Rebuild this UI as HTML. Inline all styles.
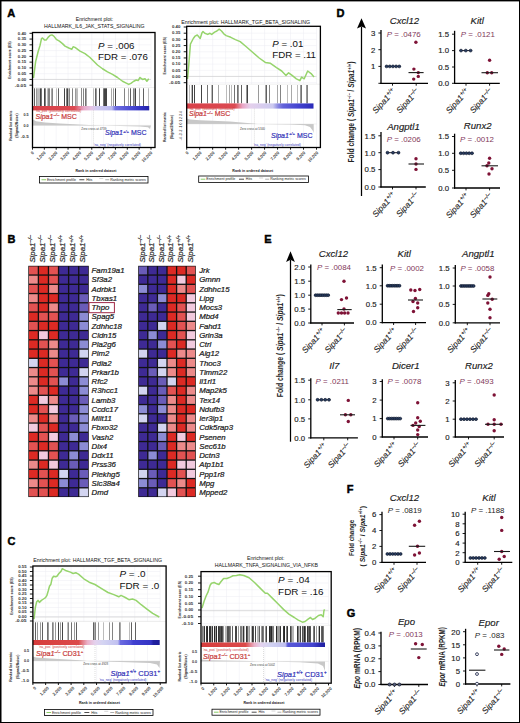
<!DOCTYPE html>
<html><head><meta charset="utf-8"><style>
html,body{margin:0;padding:0;background:#fff;}
body{width:520px;height:723px;overflow:hidden;font-family:"Liberation Sans", sans-serif;}
svg{display:block;}
svg text{font-family:"Liberation Sans", sans-serif;}
</style></head><body>
<svg width="520" height="723" viewBox="0 0 520 723">
<rect x="0" y="0" width="520" height="723" fill="#fff"/>
<text x="94.50" y="20.90" font-size="5.20" text-anchor="middle" fill="#111">Enrichment plot:</text>
<text x="94.30" y="27.50" font-size="5.20" text-anchor="middle" fill="#111">HALLMARK_IL6_JAK_STATS_SIGNALING</text>
<line x1="44.35" y1="32.50" x2="44.35" y2="87.50" stroke="#ececf2" stroke-width="0.50"/>
<line x1="44.35" y1="110.40" x2="44.35" y2="147.50" stroke="#ececf2" stroke-width="0.50"/>
<line x1="56.20" y1="32.50" x2="56.20" y2="87.50" stroke="#ececf2" stroke-width="0.50"/>
<line x1="56.20" y1="110.40" x2="56.20" y2="147.50" stroke="#ececf2" stroke-width="0.50"/>
<line x1="68.05" y1="32.50" x2="68.05" y2="87.50" stroke="#ececf2" stroke-width="0.50"/>
<line x1="68.05" y1="110.40" x2="68.05" y2="147.50" stroke="#ececf2" stroke-width="0.50"/>
<line x1="79.90" y1="32.50" x2="79.90" y2="87.50" stroke="#ececf2" stroke-width="0.50"/>
<line x1="79.90" y1="110.40" x2="79.90" y2="147.50" stroke="#ececf2" stroke-width="0.50"/>
<line x1="91.75" y1="32.50" x2="91.75" y2="87.50" stroke="#ececf2" stroke-width="0.50"/>
<line x1="91.75" y1="110.40" x2="91.75" y2="147.50" stroke="#ececf2" stroke-width="0.50"/>
<line x1="103.60" y1="32.50" x2="103.60" y2="87.50" stroke="#ececf2" stroke-width="0.50"/>
<line x1="103.60" y1="110.40" x2="103.60" y2="147.50" stroke="#ececf2" stroke-width="0.50"/>
<line x1="115.45" y1="32.50" x2="115.45" y2="87.50" stroke="#ececf2" stroke-width="0.50"/>
<line x1="115.45" y1="110.40" x2="115.45" y2="147.50" stroke="#ececf2" stroke-width="0.50"/>
<line x1="127.30" y1="32.50" x2="127.30" y2="87.50" stroke="#ececf2" stroke-width="0.50"/>
<line x1="127.30" y1="110.40" x2="127.30" y2="147.50" stroke="#ececf2" stroke-width="0.50"/>
<line x1="139.15" y1="32.50" x2="139.15" y2="87.50" stroke="#ececf2" stroke-width="0.50"/>
<line x1="139.15" y1="110.40" x2="139.15" y2="147.50" stroke="#ececf2" stroke-width="0.50"/>
<line x1="151.00" y1="32.50" x2="151.00" y2="87.50" stroke="#ececf2" stroke-width="0.50"/>
<line x1="151.00" y1="110.40" x2="151.00" y2="147.50" stroke="#ececf2" stroke-width="0.50"/>
<line x1="33.00" y1="33.30" x2="151.00" y2="33.30" stroke="#ececf2" stroke-width="0.50"/>
<line x1="33.00" y1="39.07" x2="151.00" y2="39.07" stroke="#ececf2" stroke-width="0.50"/>
<line x1="33.00" y1="44.83" x2="151.00" y2="44.83" stroke="#ececf2" stroke-width="0.50"/>
<line x1="33.00" y1="50.60" x2="151.00" y2="50.60" stroke="#ececf2" stroke-width="0.50"/>
<line x1="33.00" y1="56.37" x2="151.00" y2="56.37" stroke="#ececf2" stroke-width="0.50"/>
<line x1="33.00" y1="62.13" x2="151.00" y2="62.13" stroke="#ececf2" stroke-width="0.50"/>
<line x1="33.00" y1="67.90" x2="151.00" y2="67.90" stroke="#ececf2" stroke-width="0.50"/>
<line x1="33.00" y1="73.67" x2="151.00" y2="73.67" stroke="#ececf2" stroke-width="0.50"/>
<line x1="33.00" y1="79.43" x2="151.00" y2="79.43" stroke="#ececf2" stroke-width="0.50"/>
<line x1="33.00" y1="85.20" x2="151.00" y2="85.20" stroke="#ececf2" stroke-width="0.50"/>
<line x1="32.50" y1="79.40" x2="151.00" y2="79.40" stroke="#c8c8c8" stroke-width="0.60"/>
<polyline points="33.50,78.00 35.60,61.80 38.10,51.80 40.00,45.50 41.50,38.60 42.50,38.00 44.40,39.90 46.30,39.90 48.10,37.40 50.00,35.50 51.90,34.90 53.80,36.10 56.30,39.30 59.40,41.10 62.50,43.60 65.00,46.10 68.80,48.00 71.90,49.30 73.10,46.80 75.00,47.40 80.00,51.10 85.00,53.60 90.00,57.50 93.75,61.25 97.50,65.00 102.50,68.75 107.50,71.90 112.50,74.40 117.50,77.50 122.50,81.25 126.25,83.10 128.75,84.40 131.25,83.10 133.75,81.25 136.25,80.00 138.10,80.60 140.00,77.50 142.50,79.40 145.00,78.75 146.90,81.25 148.75,78.75" fill="none" stroke="#96d46c" stroke-width="1.50" stroke-linejoin="round"/>
<line x1="34.50" y1="88.30" x2="34.50" y2="106.00" stroke="#444" stroke-width="0.85"/>
<line x1="36.50" y1="88.30" x2="36.50" y2="106.00" stroke="#888" stroke-width="0.85"/>
<line x1="37.50" y1="88.30" x2="37.50" y2="106.00" stroke="#b0b0b0" stroke-width="0.85"/>
<line x1="38.50" y1="88.30" x2="38.50" y2="106.00" stroke="#b0b0b0" stroke-width="0.85"/>
<line x1="39.50" y1="88.30" x2="39.50" y2="106.00" stroke="#b0b0b0" stroke-width="0.85"/>
<line x1="40.50" y1="88.30" x2="40.50" y2="106.00" stroke="#222" stroke-width="0.85"/>
<line x1="41.50" y1="88.30" x2="41.50" y2="106.00" stroke="#5a5a5a" stroke-width="0.85"/>
<line x1="44.50" y1="88.30" x2="44.50" y2="106.00" stroke="#222" stroke-width="0.85"/>
<line x1="45.50" y1="88.30" x2="45.50" y2="106.00" stroke="#6e6e6e" stroke-width="0.85"/>
<line x1="47.50" y1="88.30" x2="47.50" y2="106.00" stroke="#b0b0b0" stroke-width="0.85"/>
<line x1="48.50" y1="88.30" x2="48.50" y2="106.00" stroke="#6e6e6e" stroke-width="0.85"/>
<line x1="49.50" y1="88.30" x2="49.50" y2="106.00" stroke="#6e6e6e" stroke-width="0.85"/>
<line x1="51.50" y1="88.30" x2="51.50" y2="106.00" stroke="#9a9a9a" stroke-width="0.85"/>
<line x1="52.50" y1="88.30" x2="52.50" y2="106.00" stroke="#6e6e6e" stroke-width="0.85"/>
<line x1="56.50" y1="88.30" x2="56.50" y2="106.00" stroke="#b0b0b0" stroke-width="0.85"/>
<line x1="58.50" y1="88.30" x2="58.50" y2="106.00" stroke="#444" stroke-width="0.85"/>
<line x1="64.50" y1="88.30" x2="64.50" y2="106.00" stroke="#222" stroke-width="0.85"/>
<line x1="66.50" y1="88.30" x2="66.50" y2="106.00" stroke="#6e6e6e" stroke-width="0.85"/>
<line x1="67.50" y1="88.30" x2="67.50" y2="106.00" stroke="#222" stroke-width="0.85"/>
<line x1="68.50" y1="88.30" x2="68.50" y2="106.00" stroke="#b0b0b0" stroke-width="0.85"/>
<line x1="69.50" y1="88.30" x2="69.50" y2="106.00" stroke="#6e6e6e" stroke-width="0.85"/>
<line x1="72.50" y1="88.30" x2="72.50" y2="106.00" stroke="#6e6e6e" stroke-width="0.85"/>
<line x1="75.50" y1="88.30" x2="75.50" y2="106.00" stroke="#888" stroke-width="0.85"/>
<line x1="76.50" y1="88.30" x2="76.50" y2="106.00" stroke="#b0b0b0" stroke-width="0.85"/>
<line x1="77.50" y1="88.30" x2="77.50" y2="106.00" stroke="#b0b0b0" stroke-width="0.85"/>
<line x1="81.50" y1="88.30" x2="81.50" y2="106.00" stroke="#222" stroke-width="0.85"/>
<line x1="81.50" y1="88.30" x2="81.50" y2="106.00" stroke="#9a9a9a" stroke-width="0.85"/>
<line x1="83.50" y1="88.30" x2="83.50" y2="106.00" stroke="#6e6e6e" stroke-width="0.85"/>
<line x1="85.50" y1="88.30" x2="85.50" y2="106.00" stroke="#5a5a5a" stroke-width="0.85"/>
<line x1="86.50" y1="88.30" x2="86.50" y2="106.00" stroke="#9a9a9a" stroke-width="0.85"/>
<line x1="93.50" y1="88.30" x2="93.50" y2="106.00" stroke="#b0b0b0" stroke-width="0.85"/>
<line x1="95.50" y1="88.30" x2="95.50" y2="106.00" stroke="#444" stroke-width="0.85"/>
<line x1="96.50" y1="88.30" x2="96.50" y2="106.00" stroke="#888" stroke-width="0.85"/>
<line x1="99.50" y1="88.30" x2="99.50" y2="106.00" stroke="#222" stroke-width="0.85"/>
<line x1="103.50" y1="88.30" x2="103.50" y2="106.00" stroke="#5a5a5a" stroke-width="0.85"/>
<line x1="104.50" y1="88.30" x2="104.50" y2="106.00" stroke="#222" stroke-width="0.85"/>
<line x1="105.50" y1="88.30" x2="105.50" y2="106.00" stroke="#222" stroke-width="0.85"/>
<line x1="106.50" y1="88.30" x2="106.50" y2="106.00" stroke="#222" stroke-width="0.85"/>
<line x1="111.50" y1="88.30" x2="111.50" y2="106.00" stroke="#9a9a9a" stroke-width="0.85"/>
<line x1="113.50" y1="88.30" x2="113.50" y2="106.00" stroke="#888" stroke-width="0.85"/>
<line x1="115.50" y1="88.30" x2="115.50" y2="106.00" stroke="#222" stroke-width="0.85"/>
<line x1="124.50" y1="88.30" x2="124.50" y2="106.00" stroke="#6e6e6e" stroke-width="0.85"/>
<line x1="128.50" y1="88.30" x2="128.50" y2="106.00" stroke="#9a9a9a" stroke-width="0.85"/>
<line x1="130.50" y1="88.30" x2="130.50" y2="106.00" stroke="#444" stroke-width="0.85"/>
<line x1="133.50" y1="88.30" x2="133.50" y2="106.00" stroke="#6e6e6e" stroke-width="0.85"/>
<line x1="134.50" y1="88.30" x2="134.50" y2="106.00" stroke="#9a9a9a" stroke-width="0.85"/>
<line x1="135.50" y1="88.30" x2="135.50" y2="106.00" stroke="#222" stroke-width="0.85"/>
<line x1="139.50" y1="88.30" x2="139.50" y2="106.00" stroke="#888" stroke-width="0.85"/>
<line x1="143.50" y1="88.30" x2="143.50" y2="106.00" stroke="#444" stroke-width="0.85"/>
<line x1="148.50" y1="88.30" x2="148.50" y2="106.00" stroke="#b0b0b0" stroke-width="0.85"/>
<line x1="32.50" y1="87.50" x2="155.00" y2="87.50" stroke="#e0e0e0" stroke-width="0.50"/>
<defs><linearGradient id="gA1" x1="0" x2="1" y1="0" y2="0"><stop offset="0.000" stop-color="#d84048"/><stop offset="0.360" stop-color="#dc4a52"/><stop offset="0.400" stop-color="#e27a90"/><stop offset="0.440" stop-color="#e8a8c8"/><stop offset="0.500" stop-color="#e6c4e4"/><stop offset="0.550" stop-color="#d0cAF0"/><stop offset="0.680" stop-color="#bcbcf0"/><stop offset="0.710" stop-color="#7070e0"/><stop offset="0.860" stop-color="#4646d0"/><stop offset="0.940" stop-color="#3030c0"/><stop offset="1.000" stop-color="#2424a8"/></linearGradient></defs>
<rect x="32.50" y="106.00" width="116.70" height="4.40" fill="url(#gA1)" stroke="none" stroke-width="1.00"/>
<polygon points="33.00,125.40 33.00,119.50 36.00,121.20 45.00,122.50 60.00,123.40 89.00,125.00 120.00,126.00 140.00,126.60 148.00,127.30 150.00,129.00 151.00,125.40" fill="#c8c8c8"/>
<line x1="32.50" y1="125.40" x2="151.00" y2="125.40" stroke="#d8d8d8" stroke-width="0.40"/>
<line x1="93.50" y1="110.40" x2="93.50" y2="147.50" stroke="#bbbbbb" stroke-width="0.50" stroke-dasharray="1,1"/>
<text x="81.30" y="130.40" font-size="3.00" fill="#444">Zero cross at 4739</text>
<text x="35.50" y="119.00" font-size="7.00" font-style="italic" fill="#c83a3a" stroke="#c83a3a" stroke-width="0.2">Sipa1<tspan font-size="4.20" dy="-2.80">&#8211;/&#8211;</tspan><tspan dy="2.80" font-style="normal"> MSC</tspan></text>
<text x="105.00" y="135.30" font-size="7.00" font-style="italic" fill="#3434b8" stroke="#3434b8" stroke-width="0.2">Sipa1<tspan font-size="4.20" dy="-2.80">+/+</tspan><tspan dy="2.80" font-style="normal"> MSC</tspan></text>
<text x="35.50" y="112.20" font-size="3.40" fill="#cc3a3a">'na_pos' (positively correlated)</text>
<text x="93.80" y="145.60" font-size="3.40" fill="#3a3ac0">'na_neg' (negatively correlated)</text>
<rect x="32.50" y="32.50" width="122.50" height="115.00" fill="none" stroke="#000" stroke-width="1.30"/>
<line x1="29.50" y1="33.30" x2="32.50" y2="33.30" stroke="#000" stroke-width="0.90"/>
<text x="26.20" y="34.60" font-size="3.60" text-anchor="end" font-weight="bold" fill="#333" textLength="8.40" lengthAdjust="spacingAndGlyphs">0.40</text>
<line x1="29.50" y1="39.07" x2="32.50" y2="39.07" stroke="#000" stroke-width="0.90"/>
<text x="26.20" y="40.37" font-size="3.60" text-anchor="end" font-weight="bold" fill="#333" textLength="8.40" lengthAdjust="spacingAndGlyphs">0.35</text>
<line x1="29.50" y1="44.83" x2="32.50" y2="44.83" stroke="#000" stroke-width="0.90"/>
<text x="26.20" y="46.13" font-size="3.60" text-anchor="end" font-weight="bold" fill="#333" textLength="8.40" lengthAdjust="spacingAndGlyphs">0.30</text>
<line x1="29.50" y1="50.60" x2="32.50" y2="50.60" stroke="#000" stroke-width="0.90"/>
<text x="26.20" y="51.90" font-size="3.60" text-anchor="end" font-weight="bold" fill="#333" textLength="8.40" lengthAdjust="spacingAndGlyphs">0.25</text>
<line x1="29.50" y1="56.37" x2="32.50" y2="56.37" stroke="#000" stroke-width="0.90"/>
<text x="26.20" y="57.67" font-size="3.60" text-anchor="end" font-weight="bold" fill="#333" textLength="8.40" lengthAdjust="spacingAndGlyphs">0.20</text>
<line x1="29.50" y1="62.13" x2="32.50" y2="62.13" stroke="#000" stroke-width="0.90"/>
<text x="26.20" y="63.43" font-size="3.60" text-anchor="end" font-weight="bold" fill="#333" textLength="8.40" lengthAdjust="spacingAndGlyphs">0.15</text>
<line x1="29.50" y1="67.90" x2="32.50" y2="67.90" stroke="#000" stroke-width="0.90"/>
<text x="26.20" y="69.20" font-size="3.60" text-anchor="end" font-weight="bold" fill="#333" textLength="8.40" lengthAdjust="spacingAndGlyphs">0.10</text>
<line x1="29.50" y1="73.67" x2="32.50" y2="73.67" stroke="#000" stroke-width="0.90"/>
<text x="26.20" y="74.97" font-size="3.60" text-anchor="end" font-weight="bold" fill="#333" textLength="8.40" lengthAdjust="spacingAndGlyphs">0.05</text>
<line x1="29.50" y1="79.43" x2="32.50" y2="79.43" stroke="#000" stroke-width="0.90"/>
<text x="26.20" y="80.73" font-size="3.60" text-anchor="end" font-weight="bold" fill="#333" textLength="8.40" lengthAdjust="spacingAndGlyphs">0.00</text>
<line x1="29.50" y1="85.20" x2="32.50" y2="85.20" stroke="#000" stroke-width="0.90"/>
<text x="26.20" y="86.50" font-size="3.60" text-anchor="end" font-weight="bold" fill="#333" textLength="11.40" lengthAdjust="spacingAndGlyphs">-0.05</text>
<text x="28.70" y="115.50" font-size="3.60" text-anchor="end" font-weight="bold" fill="#333" textLength="5.20" lengthAdjust="spacingAndGlyphs">0.5</text>
<text x="28.70" y="126.70" font-size="3.60" text-anchor="end" font-weight="bold" fill="#333" textLength="5.20" lengthAdjust="spacingAndGlyphs">0.0</text>
<text x="28.70" y="137.50" font-size="3.60" text-anchor="end" font-weight="bold" fill="#333" textLength="7.90" lengthAdjust="spacingAndGlyphs">-0.5</text>
<line x1="32.50" y1="147.50" x2="32.50" y2="149.70" stroke="#000" stroke-width="0.90"/>
<text x="34.10" y="153.10" font-size="4.30" text-anchor="end" font-weight="bold" fill="#444" transform="rotate(-45 34.1 153.1)">0</text>
<line x1="44.35" y1="147.50" x2="44.35" y2="149.70" stroke="#000" stroke-width="0.90"/>
<text x="45.95" y="153.10" font-size="4.30" text-anchor="end" font-weight="bold" fill="#444" transform="rotate(-45 45.95 153.1)">1,000</text>
<line x1="56.20" y1="147.50" x2="56.20" y2="149.70" stroke="#000" stroke-width="0.90"/>
<text x="57.80" y="153.10" font-size="4.30" text-anchor="end" font-weight="bold" fill="#444" transform="rotate(-45 57.8 153.1)">2,000</text>
<line x1="68.05" y1="147.50" x2="68.05" y2="149.70" stroke="#000" stroke-width="0.90"/>
<text x="69.65" y="153.10" font-size="4.30" text-anchor="end" font-weight="bold" fill="#444" transform="rotate(-45 69.65 153.1)">3,000</text>
<line x1="79.90" y1="147.50" x2="79.90" y2="149.70" stroke="#000" stroke-width="0.90"/>
<text x="81.50" y="153.10" font-size="4.30" text-anchor="end" font-weight="bold" fill="#444" transform="rotate(-45 81.5 153.1)">4,000</text>
<line x1="91.75" y1="147.50" x2="91.75" y2="149.70" stroke="#000" stroke-width="0.90"/>
<text x="93.35" y="153.10" font-size="4.30" text-anchor="end" font-weight="bold" fill="#444" transform="rotate(-45 93.35 153.1)">5,000</text>
<line x1="103.60" y1="147.50" x2="103.60" y2="149.70" stroke="#000" stroke-width="0.90"/>
<text x="105.20" y="153.10" font-size="4.30" text-anchor="end" font-weight="bold" fill="#444" transform="rotate(-45 105.2 153.1)">6,000</text>
<line x1="115.45" y1="147.50" x2="115.45" y2="149.70" stroke="#000" stroke-width="0.90"/>
<text x="117.05" y="153.10" font-size="4.30" text-anchor="end" font-weight="bold" fill="#444" transform="rotate(-45 117.05 153.1)">7,000</text>
<line x1="127.30" y1="147.50" x2="127.30" y2="149.70" stroke="#000" stroke-width="0.90"/>
<text x="128.90" y="153.10" font-size="4.30" text-anchor="end" font-weight="bold" fill="#444" transform="rotate(-45 128.9 153.1)">8,000</text>
<line x1="139.15" y1="147.50" x2="139.15" y2="149.70" stroke="#000" stroke-width="0.90"/>
<text x="140.75" y="153.10" font-size="4.30" text-anchor="end" font-weight="bold" fill="#444" transform="rotate(-45 140.75 153.1)">9,000</text>
<line x1="151.00" y1="147.50" x2="151.00" y2="149.70" stroke="#000" stroke-width="0.90"/>
<text x="152.60" y="153.10" font-size="4.30" text-anchor="end" font-weight="bold" fill="#444" transform="rotate(-45 152.6 153.1)">10,000</text>
<text x="11.30" y="60.00" font-size="3.50" text-anchor="middle" font-weight="bold" fill="#222" transform="rotate(-90 11.3 60)">Enrichment score (ES)</text>
<text x="11.60" y="125.60" font-size="3.50" text-anchor="middle" font-weight="bold" fill="#222" transform="rotate(-90 11.6 125.6)">Ranked list metric</text>
<text x="18.50" y="125.60" font-size="3.50" text-anchor="middle" font-weight="bold" fill="#222" transform="rotate(-90 18.5 125.6)">(Signal2Noise)</text>
<text x="96.00" y="171.80" font-size="3.60" text-anchor="middle" font-weight="bold" fill="#222">Rank in ordered dataset</text>
<rect x="39.50" y="176.50" width="108.50" height="6.50" fill="#fff" stroke="#000" stroke-width="0.80"/>
<line x1="41.49" y1="179.75" x2="46.08" y2="179.75" stroke="#6cc040" stroke-width="0.80"/>
<text x="46.97" y="181.00" font-size="3.60" fill="#222">Enrichment profile</text>
<line x1="79.35" y1="179.75" x2="84.33" y2="179.75" stroke="#000" stroke-width="0.70"/>
<text x="86.13" y="181.00" font-size="3.60" fill="#222">Hits</text>
<line x1="99.28" y1="178.55" x2="103.26" y2="178.55" stroke="#bbb" stroke-width="0.60"/>
<line x1="105.26" y1="179.75" x2="109.24" y2="179.75" stroke="#777" stroke-width="0.60"/>
<text x="110.24" y="181.00" font-size="3.60" fill="#222">Ranking metric scores</text>
<text x="98.10" y="48.70" font-size="9.70" fill="#111"><tspan font-style="italic">P</tspan> = .006</text>
<text x="98.10" y="60.00" font-size="9.70" fill="#111">FDR = .076</text>
<text x="245.70" y="24.30" font-size="5.25" text-anchor="middle" fill="#111">Enrichment plot: HALLMARK_TGF_BETA_SIGNALING</text>
<line x1="199.68" y1="26.30" x2="199.68" y2="84.20" stroke="#ececf2" stroke-width="0.50"/>
<line x1="199.68" y1="108.60" x2="199.68" y2="147.50" stroke="#ececf2" stroke-width="0.50"/>
<line x1="212.66" y1="26.30" x2="212.66" y2="84.20" stroke="#ececf2" stroke-width="0.50"/>
<line x1="212.66" y1="108.60" x2="212.66" y2="147.50" stroke="#ececf2" stroke-width="0.50"/>
<line x1="225.64" y1="26.30" x2="225.64" y2="84.20" stroke="#ececf2" stroke-width="0.50"/>
<line x1="225.64" y1="108.60" x2="225.64" y2="147.50" stroke="#ececf2" stroke-width="0.50"/>
<line x1="238.62" y1="26.30" x2="238.62" y2="84.20" stroke="#ececf2" stroke-width="0.50"/>
<line x1="238.62" y1="108.60" x2="238.62" y2="147.50" stroke="#ececf2" stroke-width="0.50"/>
<line x1="251.60" y1="26.30" x2="251.60" y2="84.20" stroke="#ececf2" stroke-width="0.50"/>
<line x1="251.60" y1="108.60" x2="251.60" y2="147.50" stroke="#ececf2" stroke-width="0.50"/>
<line x1="264.58" y1="26.30" x2="264.58" y2="84.20" stroke="#ececf2" stroke-width="0.50"/>
<line x1="264.58" y1="108.60" x2="264.58" y2="147.50" stroke="#ececf2" stroke-width="0.50"/>
<line x1="277.56" y1="26.30" x2="277.56" y2="84.20" stroke="#ececf2" stroke-width="0.50"/>
<line x1="277.56" y1="108.60" x2="277.56" y2="147.50" stroke="#ececf2" stroke-width="0.50"/>
<line x1="290.54" y1="26.30" x2="290.54" y2="84.20" stroke="#ececf2" stroke-width="0.50"/>
<line x1="290.54" y1="108.60" x2="290.54" y2="147.50" stroke="#ececf2" stroke-width="0.50"/>
<line x1="303.52" y1="26.30" x2="303.52" y2="84.20" stroke="#ececf2" stroke-width="0.50"/>
<line x1="303.52" y1="108.60" x2="303.52" y2="147.50" stroke="#ececf2" stroke-width="0.50"/>
<line x1="316.50" y1="26.30" x2="316.50" y2="84.20" stroke="#ececf2" stroke-width="0.50"/>
<line x1="316.50" y1="108.60" x2="316.50" y2="147.50" stroke="#ececf2" stroke-width="0.50"/>
<line x1="187.20" y1="27.00" x2="316.50" y2="27.00" stroke="#ececf2" stroke-width="0.50"/>
<line x1="187.20" y1="33.19" x2="316.50" y2="33.19" stroke="#ececf2" stroke-width="0.50"/>
<line x1="187.20" y1="39.38" x2="316.50" y2="39.38" stroke="#ececf2" stroke-width="0.50"/>
<line x1="187.20" y1="45.57" x2="316.50" y2="45.57" stroke="#ececf2" stroke-width="0.50"/>
<line x1="187.20" y1="51.76" x2="316.50" y2="51.76" stroke="#ececf2" stroke-width="0.50"/>
<line x1="187.20" y1="57.94" x2="316.50" y2="57.94" stroke="#ececf2" stroke-width="0.50"/>
<line x1="187.20" y1="64.13" x2="316.50" y2="64.13" stroke="#ececf2" stroke-width="0.50"/>
<line x1="187.20" y1="70.32" x2="316.50" y2="70.32" stroke="#ececf2" stroke-width="0.50"/>
<line x1="187.20" y1="76.51" x2="316.50" y2="76.51" stroke="#ececf2" stroke-width="0.50"/>
<line x1="187.20" y1="82.70" x2="316.50" y2="82.70" stroke="#ececf2" stroke-width="0.50"/>
<line x1="186.70" y1="76.40" x2="316.50" y2="76.40" stroke="#c8c8c8" stroke-width="0.60"/>
<polyline points="187.50,79.00 188.70,66.00 190.40,44.20 191.50,42.00 193.30,38.50 195.00,36.20 197.30,35.00 200.20,38.50 202.00,32.70 203.00,31.50 204.80,33.30 207.70,34.40 210.00,33.30 211.70,34.40 214.60,32.10 216.90,31.00 219.20,29.20 221.50,31.00 223.80,33.80 226.20,35.60 230.80,37.30 235.40,39.60 240.20,41.60 245.40,46.00 252.30,52.00 259.20,58.00 265.30,62.40 270.50,63.30 276.50,67.60 281.70,71.00 286.00,75.40 288.60,72.80 292.10,75.40 296.40,78.80 299.90,80.60 301.60,77.10 304.20,78.80 307.70,71.00 311.10,73.60 314.00,77.00" fill="none" stroke="#96d46c" stroke-width="1.50" stroke-linejoin="round"/>
<line x1="189.50" y1="85.00" x2="189.50" y2="103.40" stroke="#b0b0b0" stroke-width="0.85"/>
<line x1="191.50" y1="85.00" x2="191.50" y2="103.40" stroke="#b0b0b0" stroke-width="0.85"/>
<line x1="192.50" y1="85.00" x2="192.50" y2="103.40" stroke="#222" stroke-width="0.85"/>
<line x1="194.50" y1="85.00" x2="194.50" y2="103.40" stroke="#222" stroke-width="0.85"/>
<line x1="201.50" y1="85.00" x2="201.50" y2="103.40" stroke="#222" stroke-width="0.85"/>
<line x1="207.50" y1="85.00" x2="207.50" y2="103.40" stroke="#5a5a5a" stroke-width="0.85"/>
<line x1="211.50" y1="85.00" x2="211.50" y2="103.40" stroke="#b0b0b0" stroke-width="0.85"/>
<line x1="212.50" y1="85.00" x2="212.50" y2="103.40" stroke="#444" stroke-width="0.85"/>
<line x1="218.50" y1="85.00" x2="218.50" y2="103.40" stroke="#9a9a9a" stroke-width="0.85"/>
<line x1="226.50" y1="85.00" x2="226.50" y2="103.40" stroke="#b0b0b0" stroke-width="0.85"/>
<line x1="229.50" y1="85.00" x2="229.50" y2="103.40" stroke="#9a9a9a" stroke-width="0.85"/>
<line x1="231.50" y1="85.00" x2="231.50" y2="103.40" stroke="#b0b0b0" stroke-width="0.85"/>
<line x1="234.50" y1="85.00" x2="234.50" y2="103.40" stroke="#5a5a5a" stroke-width="0.85"/>
<line x1="237.50" y1="85.00" x2="237.50" y2="103.40" stroke="#5a5a5a" stroke-width="0.85"/>
<line x1="238.50" y1="85.00" x2="238.50" y2="103.40" stroke="#888" stroke-width="0.85"/>
<line x1="241.50" y1="85.00" x2="241.50" y2="103.40" stroke="#444" stroke-width="0.85"/>
<line x1="246.50" y1="85.00" x2="246.50" y2="103.40" stroke="#888" stroke-width="0.85"/>
<line x1="247.50" y1="85.00" x2="247.50" y2="103.40" stroke="#222" stroke-width="0.85"/>
<line x1="258.50" y1="85.00" x2="258.50" y2="103.40" stroke="#888" stroke-width="0.85"/>
<line x1="265.50" y1="85.00" x2="265.50" y2="103.40" stroke="#9a9a9a" stroke-width="0.85"/>
<line x1="266.50" y1="85.00" x2="266.50" y2="103.40" stroke="#444" stroke-width="0.85"/>
<line x1="269.50" y1="85.00" x2="269.50" y2="103.40" stroke="#6e6e6e" stroke-width="0.85"/>
<line x1="277.50" y1="85.00" x2="277.50" y2="103.40" stroke="#9a9a9a" stroke-width="0.85"/>
<line x1="280.50" y1="85.00" x2="280.50" y2="103.40" stroke="#6e6e6e" stroke-width="0.85"/>
<line x1="287.50" y1="85.00" x2="287.50" y2="103.40" stroke="#b0b0b0" stroke-width="0.85"/>
<line x1="291.50" y1="85.00" x2="291.50" y2="103.40" stroke="#9a9a9a" stroke-width="0.85"/>
<line x1="297.50" y1="85.00" x2="297.50" y2="103.40" stroke="#b0b0b0" stroke-width="0.85"/>
<line x1="300.50" y1="85.00" x2="300.50" y2="103.40" stroke="#888" stroke-width="0.85"/>
<line x1="301.50" y1="85.00" x2="301.50" y2="103.40" stroke="#5a5a5a" stroke-width="0.85"/>
<line x1="306.50" y1="85.00" x2="306.50" y2="103.40" stroke="#888" stroke-width="0.85"/>
<line x1="307.50" y1="85.00" x2="307.50" y2="103.40" stroke="#6e6e6e" stroke-width="0.85"/>
<line x1="186.70" y1="84.20" x2="320.40" y2="84.20" stroke="#e0e0e0" stroke-width="0.50"/>
<defs><linearGradient id="gA2" x1="0" x2="1" y1="0" y2="0"><stop offset="0.000" stop-color="#d84048"/><stop offset="0.380" stop-color="#dc4a52"/><stop offset="0.410" stop-color="#e27a8a"/><stop offset="0.440" stop-color="#e8a4c4"/><stop offset="0.500" stop-color="#e4d0ec"/><stop offset="0.680" stop-color="#cccaf0"/><stop offset="0.720" stop-color="#8a88e2"/><stop offset="0.760" stop-color="#6262da"/><stop offset="0.880" stop-color="#4444d0"/><stop offset="1.000" stop-color="#2a2ab8"/></linearGradient></defs>
<rect x="186.70" y="103.40" width="126.80" height="5.20" fill="url(#gA2)" stroke="none" stroke-width="1.00"/>
<polygon points="186.50,124.00 186.50,118.50 190.00,119.50 200.00,120.30 230.00,121.50 258.00,124.00 290.00,124.60 305.00,125.30 310.00,127.00 313.00,131.00 313.70,133.00 313.70,124.00" fill="#c8c8c8"/>
<line x1="186.70" y1="124.00" x2="316.50" y2="124.00" stroke="#d8d8d8" stroke-width="0.40"/>
<line x1="254.40" y1="108.60" x2="254.40" y2="147.50" stroke="#bbbbbb" stroke-width="0.50" stroke-dasharray="1,1"/>
<text x="240.00" y="129.60" font-size="3.00" fill="#444">Zero cross at 5340</text>
<text x="189.00" y="116.40" font-size="7.00" font-style="italic" fill="#c83a3a" stroke="#c83a3a" stroke-width="0.2">Sipa1<tspan font-size="4.20" dy="-2.80">&#8211;/&#8211;</tspan><tspan dy="2.80" font-style="normal"> MSC</tspan></text>
<text x="271.00" y="138.00" font-size="7.00" font-style="italic" fill="#3434b8" stroke="#3434b8" stroke-width="0.2">Sipa1<tspan font-size="4.20" dy="-2.80">+/+</tspan><tspan dy="2.80" font-style="normal"> MSC</tspan></text>
<text x="189.00" y="110.40" font-size="3.40" fill="#cc3a3a">'na_pos' (positively correlated)</text>
<text x="253.70" y="146.00" font-size="3.40" fill="#3a3ac0">'na_neg' (negatively correlated)</text>
<rect x="186.70" y="26.30" width="133.70" height="121.20" fill="none" stroke="#000" stroke-width="1.30"/>
<line x1="183.70" y1="27.00" x2="186.70" y2="27.00" stroke="#000" stroke-width="0.90"/>
<text x="180.40" y="28.30" font-size="3.60" text-anchor="end" font-weight="bold" fill="#333" textLength="8.40" lengthAdjust="spacingAndGlyphs">0.40</text>
<line x1="183.70" y1="33.19" x2="186.70" y2="33.19" stroke="#000" stroke-width="0.90"/>
<text x="180.40" y="34.49" font-size="3.60" text-anchor="end" font-weight="bold" fill="#333" textLength="8.40" lengthAdjust="spacingAndGlyphs">0.35</text>
<line x1="183.70" y1="39.38" x2="186.70" y2="39.38" stroke="#000" stroke-width="0.90"/>
<text x="180.40" y="40.68" font-size="3.60" text-anchor="end" font-weight="bold" fill="#333" textLength="8.40" lengthAdjust="spacingAndGlyphs">0.30</text>
<line x1="183.70" y1="45.57" x2="186.70" y2="45.57" stroke="#000" stroke-width="0.90"/>
<text x="180.40" y="46.87" font-size="3.60" text-anchor="end" font-weight="bold" fill="#333" textLength="8.40" lengthAdjust="spacingAndGlyphs">0.25</text>
<line x1="183.70" y1="51.76" x2="186.70" y2="51.76" stroke="#000" stroke-width="0.90"/>
<text x="180.40" y="53.06" font-size="3.60" text-anchor="end" font-weight="bold" fill="#333" textLength="8.40" lengthAdjust="spacingAndGlyphs">0.20</text>
<line x1="183.70" y1="57.94" x2="186.70" y2="57.94" stroke="#000" stroke-width="0.90"/>
<text x="180.40" y="59.24" font-size="3.60" text-anchor="end" font-weight="bold" fill="#333" textLength="8.40" lengthAdjust="spacingAndGlyphs">0.15</text>
<line x1="183.70" y1="64.13" x2="186.70" y2="64.13" stroke="#000" stroke-width="0.90"/>
<text x="180.40" y="65.43" font-size="3.60" text-anchor="end" font-weight="bold" fill="#333" textLength="8.40" lengthAdjust="spacingAndGlyphs">0.10</text>
<line x1="183.70" y1="70.32" x2="186.70" y2="70.32" stroke="#000" stroke-width="0.90"/>
<text x="180.40" y="71.62" font-size="3.60" text-anchor="end" font-weight="bold" fill="#333" textLength="8.40" lengthAdjust="spacingAndGlyphs">0.05</text>
<line x1="183.70" y1="76.51" x2="186.70" y2="76.51" stroke="#000" stroke-width="0.90"/>
<text x="180.40" y="77.81" font-size="3.60" text-anchor="end" font-weight="bold" fill="#333" textLength="8.40" lengthAdjust="spacingAndGlyphs">0.00</text>
<line x1="183.70" y1="82.70" x2="186.70" y2="82.70" stroke="#000" stroke-width="0.90"/>
<text x="180.40" y="84.00" font-size="3.60" text-anchor="end" font-weight="bold" fill="#333" textLength="11.40" lengthAdjust="spacingAndGlyphs">-0.05</text>
<line x1="186.70" y1="147.50" x2="186.70" y2="149.70" stroke="#000" stroke-width="0.90"/>
<text x="188.90" y="153.10" font-size="4.30" text-anchor="end" font-weight="bold" fill="#444" transform="rotate(-45 188.9 153.1)">0</text>
<line x1="199.68" y1="147.50" x2="199.68" y2="149.70" stroke="#000" stroke-width="0.90"/>
<text x="201.88" y="153.10" font-size="4.30" text-anchor="end" font-weight="bold" fill="#444" transform="rotate(-45 201.88 153.1)">1,000</text>
<line x1="212.66" y1="147.50" x2="212.66" y2="149.70" stroke="#000" stroke-width="0.90"/>
<text x="214.86" y="153.10" font-size="4.30" text-anchor="end" font-weight="bold" fill="#444" transform="rotate(-45 214.86 153.1)">2,000</text>
<line x1="225.64" y1="147.50" x2="225.64" y2="149.70" stroke="#000" stroke-width="0.90"/>
<text x="227.84" y="153.10" font-size="4.30" text-anchor="end" font-weight="bold" fill="#444" transform="rotate(-45 227.84 153.1)">3,000</text>
<line x1="238.62" y1="147.50" x2="238.62" y2="149.70" stroke="#000" stroke-width="0.90"/>
<text x="240.82" y="153.10" font-size="4.30" text-anchor="end" font-weight="bold" fill="#444" transform="rotate(-45 240.82 153.1)">4,000</text>
<line x1="251.60" y1="147.50" x2="251.60" y2="149.70" stroke="#000" stroke-width="0.90"/>
<text x="253.80" y="153.10" font-size="4.30" text-anchor="end" font-weight="bold" fill="#444" transform="rotate(-45 253.8 153.1)">5,000</text>
<line x1="264.58" y1="147.50" x2="264.58" y2="149.70" stroke="#000" stroke-width="0.90"/>
<text x="266.78" y="153.10" font-size="4.30" text-anchor="end" font-weight="bold" fill="#444" transform="rotate(-45 266.78 153.1)">6,000</text>
<line x1="277.56" y1="147.50" x2="277.56" y2="149.70" stroke="#000" stroke-width="0.90"/>
<text x="279.76" y="153.10" font-size="4.30" text-anchor="end" font-weight="bold" fill="#444" transform="rotate(-45 279.76 153.1)">7,000</text>
<line x1="290.54" y1="147.50" x2="290.54" y2="149.70" stroke="#000" stroke-width="0.90"/>
<text x="292.74" y="153.10" font-size="4.30" text-anchor="end" font-weight="bold" fill="#444" transform="rotate(-45 292.74 153.1)">8,000</text>
<line x1="303.52" y1="147.50" x2="303.52" y2="149.70" stroke="#000" stroke-width="0.90"/>
<text x="305.72" y="153.10" font-size="4.30" text-anchor="end" font-weight="bold" fill="#444" transform="rotate(-45 305.72 153.1)">9,000</text>
<line x1="316.50" y1="147.50" x2="316.50" y2="149.70" stroke="#000" stroke-width="0.90"/>
<text x="318.70" y="153.10" font-size="4.30" text-anchor="end" font-weight="bold" fill="#444" transform="rotate(-45 318.7 153.1)">10,000</text>
<text x="165.80" y="55.70" font-size="3.50" text-anchor="middle" font-weight="bold" fill="#222" transform="rotate(-90 165.8 55.7)">Enrichment score (ES)</text>
<text x="166.20" y="127.00" font-size="3.50" text-anchor="middle" font-weight="bold" fill="#222" transform="rotate(-90 166.2 127)">Ranked list metric</text>
<text x="173.10" y="127.00" font-size="3.50" text-anchor="middle" font-weight="bold" fill="#222" transform="rotate(-90 173.1 127)">(Signal2Noise)</text>
<text x="252.80" y="171.60" font-size="3.60" text-anchor="middle" font-weight="bold" fill="#222">Rank in ordered dataset</text>
<rect x="198.70" y="176.00" width="109.70" height="6.40" fill="#fff" stroke="#000" stroke-width="0.80"/>
<line x1="200.71" y1="179.20" x2="205.35" y2="179.20" stroke="#6cc040" stroke-width="0.80"/>
<text x="206.26" y="180.45" font-size="3.60" fill="#222">Enrichment profile</text>
<line x1="238.99" y1="179.20" x2="244.03" y2="179.20" stroke="#000" stroke-width="0.70"/>
<text x="245.84" y="180.45" font-size="3.60" fill="#222">Hits</text>
<line x1="259.14" y1="178.00" x2="263.17" y2="178.00" stroke="#bbb" stroke-width="0.60"/>
<line x1="265.18" y1="179.20" x2="269.21" y2="179.20" stroke="#777" stroke-width="0.60"/>
<text x="270.22" y="180.45" font-size="3.60" fill="#222">Ranking metric scores</text>
<text x="272.30" y="46.80" font-size="9.70" fill="#111"><tspan font-style="italic">P</tspan> = .01</text>
<text x="272.30" y="58.00" font-size="9.70" fill="#111">FDR = .11</text>
<text x="181.90" y="125.90" font-size="3.40" text-anchor="middle" fill="#222" transform="rotate(-90 181.9 125.9)">-4 -3 -2 -1 0 1 2 3 4</text>
<text x="97.70" y="561.60" font-size="5.25" text-anchor="middle" fill="#111">Enrichment plot: HALLMARK_TGF_BETA_SIGNALING</text>
<line x1="45.63" y1="566.00" x2="45.63" y2="621.50" stroke="#ececf2" stroke-width="0.50"/>
<line x1="45.63" y1="645.00" x2="45.63" y2="682.80" stroke="#ececf2" stroke-width="0.50"/>
<line x1="58.36" y1="566.00" x2="58.36" y2="621.50" stroke="#ececf2" stroke-width="0.50"/>
<line x1="58.36" y1="645.00" x2="58.36" y2="682.80" stroke="#ececf2" stroke-width="0.50"/>
<line x1="71.09" y1="566.00" x2="71.09" y2="621.50" stroke="#ececf2" stroke-width="0.50"/>
<line x1="71.09" y1="645.00" x2="71.09" y2="682.80" stroke="#ececf2" stroke-width="0.50"/>
<line x1="83.82" y1="566.00" x2="83.82" y2="621.50" stroke="#ececf2" stroke-width="0.50"/>
<line x1="83.82" y1="645.00" x2="83.82" y2="682.80" stroke="#ececf2" stroke-width="0.50"/>
<line x1="96.55" y1="566.00" x2="96.55" y2="621.50" stroke="#ececf2" stroke-width="0.50"/>
<line x1="96.55" y1="645.00" x2="96.55" y2="682.80" stroke="#ececf2" stroke-width="0.50"/>
<line x1="109.28" y1="566.00" x2="109.28" y2="621.50" stroke="#ececf2" stroke-width="0.50"/>
<line x1="109.28" y1="645.00" x2="109.28" y2="682.80" stroke="#ececf2" stroke-width="0.50"/>
<line x1="122.01" y1="566.00" x2="122.01" y2="621.50" stroke="#ececf2" stroke-width="0.50"/>
<line x1="122.01" y1="645.00" x2="122.01" y2="682.80" stroke="#ececf2" stroke-width="0.50"/>
<line x1="134.74" y1="566.00" x2="134.74" y2="621.50" stroke="#ececf2" stroke-width="0.50"/>
<line x1="134.74" y1="645.00" x2="134.74" y2="682.80" stroke="#ececf2" stroke-width="0.50"/>
<line x1="147.47" y1="566.00" x2="147.47" y2="621.50" stroke="#ececf2" stroke-width="0.50"/>
<line x1="147.47" y1="645.00" x2="147.47" y2="682.80" stroke="#ececf2" stroke-width="0.50"/>
<line x1="160.20" y1="566.00" x2="160.20" y2="621.50" stroke="#ececf2" stroke-width="0.50"/>
<line x1="160.20" y1="645.00" x2="160.20" y2="682.80" stroke="#ececf2" stroke-width="0.50"/>
<line x1="33.40" y1="567.00" x2="160.20" y2="567.00" stroke="#ececf2" stroke-width="0.50"/>
<line x1="33.40" y1="571.50" x2="160.20" y2="571.50" stroke="#ececf2" stroke-width="0.50"/>
<line x1="33.40" y1="576.00" x2="160.20" y2="576.00" stroke="#ececf2" stroke-width="0.50"/>
<line x1="33.40" y1="580.50" x2="160.20" y2="580.50" stroke="#ececf2" stroke-width="0.50"/>
<line x1="33.40" y1="585.00" x2="160.20" y2="585.00" stroke="#ececf2" stroke-width="0.50"/>
<line x1="33.40" y1="589.50" x2="160.20" y2="589.50" stroke="#ececf2" stroke-width="0.50"/>
<line x1="33.40" y1="594.00" x2="160.20" y2="594.00" stroke="#ececf2" stroke-width="0.50"/>
<line x1="33.40" y1="598.50" x2="160.20" y2="598.50" stroke="#ececf2" stroke-width="0.50"/>
<line x1="33.40" y1="603.00" x2="160.20" y2="603.00" stroke="#ececf2" stroke-width="0.50"/>
<line x1="33.40" y1="607.50" x2="160.20" y2="607.50" stroke="#ececf2" stroke-width="0.50"/>
<line x1="33.40" y1="612.00" x2="160.20" y2="612.00" stroke="#ececf2" stroke-width="0.50"/>
<line x1="33.40" y1="616.50" x2="160.20" y2="616.50" stroke="#ececf2" stroke-width="0.50"/>
<line x1="33.40" y1="621.00" x2="160.20" y2="621.00" stroke="#ececf2" stroke-width="0.50"/>
<line x1="32.90" y1="617.00" x2="160.20" y2="617.00" stroke="#c8c8c8" stroke-width="0.60"/>
<polyline points="34.00,619.20 35.40,607.10 36.70,601.70 38.10,600.40 39.40,602.40 41.40,600.40 43.50,599.00 45.50,597.70 46.80,595.70 48.20,591.00 49.50,586.20 50.90,584.20 52.20,578.20 53.60,576.20 55.60,576.80 56.90,576.20 58.90,573.50 61.00,571.40 62.30,568.70 63.60,569.40 66.30,570.80 70.40,572.10 73.10,573.50 75.80,572.80 78.50,574.10 83.80,578.80 89.20,582.20 95.00,584.50 100.80,588.10 108.00,592.50 113.80,594.60 118.80,596.80 121.00,595.40 125.30,597.50 128.90,599.70 132.50,599.00 136.10,600.40 141.20,604.70 146.90,609.10 152.70,613.40 159.20,617.00" fill="none" stroke="#96d46c" stroke-width="1.50" stroke-linejoin="round"/>
<line x1="35.50" y1="622.30" x2="35.50" y2="640.00" stroke="#444" stroke-width="0.85"/>
<line x1="37.50" y1="622.30" x2="37.50" y2="640.00" stroke="#888" stroke-width="0.85"/>
<line x1="40.50" y1="622.30" x2="40.50" y2="640.00" stroke="#888" stroke-width="0.85"/>
<line x1="42.50" y1="622.30" x2="42.50" y2="640.00" stroke="#444" stroke-width="0.85"/>
<line x1="47.50" y1="622.30" x2="47.50" y2="640.00" stroke="#5a5a5a" stroke-width="0.85"/>
<line x1="48.50" y1="622.30" x2="48.50" y2="640.00" stroke="#888" stroke-width="0.85"/>
<line x1="52.50" y1="622.30" x2="52.50" y2="640.00" stroke="#6e6e6e" stroke-width="0.85"/>
<line x1="53.50" y1="622.30" x2="53.50" y2="640.00" stroke="#9a9a9a" stroke-width="0.85"/>
<line x1="55.50" y1="622.30" x2="55.50" y2="640.00" stroke="#888" stroke-width="0.85"/>
<line x1="58.50" y1="622.30" x2="58.50" y2="640.00" stroke="#222" stroke-width="0.85"/>
<line x1="60.50" y1="622.30" x2="60.50" y2="640.00" stroke="#888" stroke-width="0.85"/>
<line x1="62.50" y1="622.30" x2="62.50" y2="640.00" stroke="#222" stroke-width="0.85"/>
<line x1="67.50" y1="622.30" x2="67.50" y2="640.00" stroke="#b0b0b0" stroke-width="0.85"/>
<line x1="68.50" y1="622.30" x2="68.50" y2="640.00" stroke="#6e6e6e" stroke-width="0.85"/>
<line x1="71.50" y1="622.30" x2="71.50" y2="640.00" stroke="#5a5a5a" stroke-width="0.85"/>
<line x1="74.50" y1="622.30" x2="74.50" y2="640.00" stroke="#888" stroke-width="0.85"/>
<line x1="76.50" y1="622.30" x2="76.50" y2="640.00" stroke="#444" stroke-width="0.85"/>
<line x1="93.50" y1="622.30" x2="93.50" y2="640.00" stroke="#444" stroke-width="0.85"/>
<line x1="94.50" y1="622.30" x2="94.50" y2="640.00" stroke="#9a9a9a" stroke-width="0.85"/>
<line x1="95.50" y1="622.30" x2="95.50" y2="640.00" stroke="#6e6e6e" stroke-width="0.85"/>
<line x1="98.50" y1="622.30" x2="98.50" y2="640.00" stroke="#888" stroke-width="0.85"/>
<line x1="103.50" y1="622.30" x2="103.50" y2="640.00" stroke="#b0b0b0" stroke-width="0.85"/>
<line x1="109.50" y1="622.30" x2="109.50" y2="640.00" stroke="#888" stroke-width="0.85"/>
<line x1="112.50" y1="622.30" x2="112.50" y2="640.00" stroke="#6e6e6e" stroke-width="0.85"/>
<line x1="119.50" y1="622.30" x2="119.50" y2="640.00" stroke="#6e6e6e" stroke-width="0.85"/>
<line x1="120.50" y1="622.30" x2="120.50" y2="640.00" stroke="#9a9a9a" stroke-width="0.85"/>
<line x1="129.50" y1="622.30" x2="129.50" y2="640.00" stroke="#b0b0b0" stroke-width="0.85"/>
<line x1="131.50" y1="622.30" x2="131.50" y2="640.00" stroke="#444" stroke-width="0.85"/>
<line x1="135.50" y1="622.30" x2="135.50" y2="640.00" stroke="#444" stroke-width="0.85"/>
<line x1="32.90" y1="621.50" x2="166.10" y2="621.50" stroke="#e0e0e0" stroke-width="0.50"/>
<defs><linearGradient id="gC1" x1="0" x2="1" y1="0" y2="0"><stop offset="0.000" stop-color="#d63c3c"/><stop offset="0.360" stop-color="#dc4a4a"/><stop offset="0.390" stop-color="#e27a84"/><stop offset="0.430" stop-color="#ebb0c8"/><stop offset="0.490" stop-color="#e4d2ee"/><stop offset="0.550" stop-color="#d4d4f2"/><stop offset="0.670" stop-color="#c0c0f0"/><stop offset="0.690" stop-color="#6a6ae0"/><stop offset="0.770" stop-color="#5252d8"/><stop offset="0.790" stop-color="#4040d0"/><stop offset="0.930" stop-color="#3434c4"/><stop offset="0.950" stop-color="#2020a0"/><stop offset="1.000" stop-color="#1c1c98"/></linearGradient></defs>
<rect x="32.90" y="640.00" width="126.80" height="5.00" fill="url(#gC1)" stroke="none" stroke-width="1.00"/>
<polygon points="32.80,661.00 32.80,656.50 36.00,657.50 50.00,658.50 80.00,660.30 87.00,661.00 120.00,662.00 150.00,663.00 157.00,664.50 159.50,668.00 160.00,661.00" fill="#c8c8c8"/>
<line x1="32.90" y1="661.00" x2="160.20" y2="661.00" stroke="#d8d8d8" stroke-width="0.40"/>
<line x1="95.00" y1="645.00" x2="95.00" y2="682.80" stroke="#bbbbbb" stroke-width="0.50" stroke-dasharray="1,1"/>
<text x="83.20" y="665.40" font-size="3.00" fill="#444">Zero cross at 4928</text>
<text x="36.00" y="655.70" font-size="7.20" font-style="italic" fill="#c83a3a" stroke="#c83a3a" stroke-width="0.2">Sipa1<tspan font-size="4.32" dy="-2.88">&#8211;/&#8211;</tspan><tspan dy="2.88" font-style="normal"> CD31</tspan><tspan font-size="4.32" dy="-2.88" font-style="normal">+</tspan></text>
<text x="110.50" y="676.30" font-size="7.50" font-style="italic" fill="#3434b8" stroke="#3434b8" stroke-width="0.2">Sipa1<tspan font-size="4.50" dy="-3.00">+/+</tspan><tspan dy="3.00" font-style="normal"> CD31</tspan><tspan font-size="4.50" dy="-3.00" font-style="normal">+</tspan></text>
<text x="38.80" y="648.00" font-size="3.40" fill="#cc3a3a">'na_pos' (positively correlated)</text>
<text x="99.40" y="680.60" font-size="3.40" fill="#3a3ac0">'na_neg' (negatively correlated)</text>
<rect x="32.90" y="566.00" width="133.20" height="116.80" fill="none" stroke="#000" stroke-width="1.30"/>
<line x1="29.90" y1="567.00" x2="32.90" y2="567.00" stroke="#000" stroke-width="0.90"/>
<text x="26.60" y="568.30" font-size="3.20" text-anchor="end" font-weight="bold" fill="#333" textLength="8.40" lengthAdjust="spacingAndGlyphs">0.55</text>
<line x1="29.90" y1="571.50" x2="32.90" y2="571.50" stroke="#000" stroke-width="0.90"/>
<text x="26.60" y="572.80" font-size="3.20" text-anchor="end" font-weight="bold" fill="#333" textLength="8.40" lengthAdjust="spacingAndGlyphs">0.50</text>
<line x1="29.90" y1="576.00" x2="32.90" y2="576.00" stroke="#000" stroke-width="0.90"/>
<text x="26.60" y="577.30" font-size="3.20" text-anchor="end" font-weight="bold" fill="#333" textLength="8.40" lengthAdjust="spacingAndGlyphs">0.45</text>
<line x1="29.90" y1="580.50" x2="32.90" y2="580.50" stroke="#000" stroke-width="0.90"/>
<text x="26.60" y="581.80" font-size="3.20" text-anchor="end" font-weight="bold" fill="#333" textLength="8.40" lengthAdjust="spacingAndGlyphs">0.40</text>
<line x1="29.90" y1="585.00" x2="32.90" y2="585.00" stroke="#000" stroke-width="0.90"/>
<text x="26.60" y="586.30" font-size="3.20" text-anchor="end" font-weight="bold" fill="#333" textLength="8.40" lengthAdjust="spacingAndGlyphs">0.35</text>
<line x1="29.90" y1="589.50" x2="32.90" y2="589.50" stroke="#000" stroke-width="0.90"/>
<text x="26.60" y="590.80" font-size="3.20" text-anchor="end" font-weight="bold" fill="#333" textLength="8.40" lengthAdjust="spacingAndGlyphs">0.30</text>
<line x1="29.90" y1="594.00" x2="32.90" y2="594.00" stroke="#000" stroke-width="0.90"/>
<text x="26.60" y="595.30" font-size="3.20" text-anchor="end" font-weight="bold" fill="#333" textLength="8.40" lengthAdjust="spacingAndGlyphs">0.25</text>
<line x1="29.90" y1="598.50" x2="32.90" y2="598.50" stroke="#000" stroke-width="0.90"/>
<text x="26.60" y="599.80" font-size="3.20" text-anchor="end" font-weight="bold" fill="#333" textLength="8.40" lengthAdjust="spacingAndGlyphs">0.20</text>
<line x1="29.90" y1="603.00" x2="32.90" y2="603.00" stroke="#000" stroke-width="0.90"/>
<text x="26.60" y="604.30" font-size="3.20" text-anchor="end" font-weight="bold" fill="#333" textLength="8.40" lengthAdjust="spacingAndGlyphs">0.15</text>
<line x1="29.90" y1="607.50" x2="32.90" y2="607.50" stroke="#000" stroke-width="0.90"/>
<text x="26.60" y="608.80" font-size="3.20" text-anchor="end" font-weight="bold" fill="#333" textLength="8.40" lengthAdjust="spacingAndGlyphs">0.10</text>
<line x1="29.90" y1="612.00" x2="32.90" y2="612.00" stroke="#000" stroke-width="0.90"/>
<text x="26.60" y="613.30" font-size="3.20" text-anchor="end" font-weight="bold" fill="#333" textLength="8.40" lengthAdjust="spacingAndGlyphs">0.05</text>
<line x1="29.90" y1="616.50" x2="32.90" y2="616.50" stroke="#000" stroke-width="0.90"/>
<text x="26.60" y="617.80" font-size="3.20" text-anchor="end" font-weight="bold" fill="#333" textLength="8.40" lengthAdjust="spacingAndGlyphs">0.00</text>
<line x1="29.90" y1="621.00" x2="32.90" y2="621.00" stroke="#000" stroke-width="0.90"/>
<text x="26.60" y="622.30" font-size="3.20" text-anchor="end" font-weight="bold" fill="#333" textLength="11.40" lengthAdjust="spacingAndGlyphs">-0.05</text>
<text x="29.10" y="652.30" font-size="3.20" text-anchor="end" font-weight="bold" fill="#333" textLength="5.20" lengthAdjust="spacingAndGlyphs">0.5</text>
<text x="29.10" y="662.30" font-size="3.20" text-anchor="end" font-weight="bold" fill="#333" textLength="5.20" lengthAdjust="spacingAndGlyphs">0.0</text>
<text x="29.10" y="672.30" font-size="3.20" text-anchor="end" font-weight="bold" fill="#333" textLength="7.90" lengthAdjust="spacingAndGlyphs">-0.5</text>
<text x="29.10" y="681.90" font-size="3.20" text-anchor="end" font-weight="bold" fill="#333" textLength="7.90" lengthAdjust="spacingAndGlyphs">-1.0</text>
<line x1="32.90" y1="682.80" x2="32.90" y2="685.00" stroke="#000" stroke-width="0.90"/>
<text x="36.50" y="688.40" font-size="4.30" text-anchor="end" font-weight="bold" fill="#444" transform="rotate(-45 36.5 688.4)">0</text>
<line x1="45.63" y1="682.80" x2="45.63" y2="685.00" stroke="#000" stroke-width="0.90"/>
<text x="49.23" y="688.40" font-size="4.30" text-anchor="end" font-weight="bold" fill="#444" transform="rotate(-45 49.23 688.4)">1,000</text>
<line x1="58.36" y1="682.80" x2="58.36" y2="685.00" stroke="#000" stroke-width="0.90"/>
<text x="61.96" y="688.40" font-size="4.30" text-anchor="end" font-weight="bold" fill="#444" transform="rotate(-45 61.96 688.4)">2,000</text>
<line x1="71.09" y1="682.80" x2="71.09" y2="685.00" stroke="#000" stroke-width="0.90"/>
<text x="74.69" y="688.40" font-size="4.30" text-anchor="end" font-weight="bold" fill="#444" transform="rotate(-45 74.69 688.4)">3,000</text>
<line x1="83.82" y1="682.80" x2="83.82" y2="685.00" stroke="#000" stroke-width="0.90"/>
<text x="87.42" y="688.40" font-size="4.30" text-anchor="end" font-weight="bold" fill="#444" transform="rotate(-45 87.42 688.4)">4,000</text>
<line x1="96.55" y1="682.80" x2="96.55" y2="685.00" stroke="#000" stroke-width="0.90"/>
<text x="100.15" y="688.40" font-size="4.30" text-anchor="end" font-weight="bold" fill="#444" transform="rotate(-45 100.15 688.4)">5,000</text>
<line x1="109.28" y1="682.80" x2="109.28" y2="685.00" stroke="#000" stroke-width="0.90"/>
<text x="112.88" y="688.40" font-size="4.30" text-anchor="end" font-weight="bold" fill="#444" transform="rotate(-45 112.88 688.4)">6,000</text>
<line x1="122.01" y1="682.80" x2="122.01" y2="685.00" stroke="#000" stroke-width="0.90"/>
<text x="125.61" y="688.40" font-size="4.30" text-anchor="end" font-weight="bold" fill="#444" transform="rotate(-45 125.61 688.4)">7,000</text>
<line x1="134.74" y1="682.80" x2="134.74" y2="685.00" stroke="#000" stroke-width="0.90"/>
<text x="138.34" y="688.40" font-size="4.30" text-anchor="end" font-weight="bold" fill="#444" transform="rotate(-45 138.34 688.4)">8,000</text>
<line x1="147.47" y1="682.80" x2="147.47" y2="685.00" stroke="#000" stroke-width="0.90"/>
<text x="151.07" y="688.40" font-size="4.30" text-anchor="end" font-weight="bold" fill="#444" transform="rotate(-45 151.07 688.4)">9,000</text>
<line x1="160.20" y1="682.80" x2="160.20" y2="685.00" stroke="#000" stroke-width="0.90"/>
<text x="163.80" y="688.40" font-size="4.30" text-anchor="end" font-weight="bold" fill="#444" transform="rotate(-45 163.8 688.4)">10,000</text>
<text x="13.00" y="596.00" font-size="3.50" text-anchor="middle" font-weight="bold" fill="#222" transform="rotate(-90 13 596)">Enrichment score (ES)</text>
<text x="12.30" y="666.80" font-size="3.50" text-anchor="middle" font-weight="bold" fill="#222" transform="rotate(-90 12.3 666.8)">Ranked list metric</text>
<text x="18.60" y="666.80" font-size="3.50" text-anchor="middle" font-weight="bold" fill="#222" transform="rotate(-90 18.6 666.8)">(Signal2Noise)</text>
<text x="99.40" y="704.40" font-size="3.60" text-anchor="middle" font-weight="bold" fill="#222">Rank in ordered dataset</text>
<rect x="44.50" y="709.50" width="108.50" height="6.00" fill="#fff" stroke="#000" stroke-width="0.80"/>
<line x1="46.49" y1="712.50" x2="51.08" y2="712.50" stroke="#6cc040" stroke-width="0.80"/>
<text x="51.97" y="713.75" font-size="3.60" fill="#222">Enrichment profile</text>
<line x1="84.35" y1="712.50" x2="89.33" y2="712.50" stroke="#000" stroke-width="0.70"/>
<text x="91.13" y="713.75" font-size="3.60" fill="#222">Hits</text>
<line x1="104.28" y1="711.30" x2="108.26" y2="711.30" stroke="#bbb" stroke-width="0.60"/>
<line x1="110.26" y1="712.50" x2="114.24" y2="712.50" stroke="#777" stroke-width="0.60"/>
<text x="115.24" y="713.75" font-size="3.60" fill="#222">Ranking metric scores</text>
<text x="119.40" y="576.70" font-size="9.90" fill="#111"><tspan font-style="italic">P</tspan> = .0</text>
<text x="119.40" y="588.90" font-size="9.90" fill="#111">FDR = .0</text>
<text x="265.70" y="560.00" font-size="5.20" text-anchor="middle" fill="#111">Enrichment plot:</text>
<text x="266.30" y="567.00" font-size="5.20" text-anchor="middle" fill="#111">HALLMARK_TNFA_SIGNALING_VIA_NFKB</text>
<line x1="213.75" y1="571.60" x2="213.75" y2="625.30" stroke="#ececf2" stroke-width="0.50"/>
<line x1="213.75" y1="647.00" x2="213.75" y2="683.20" stroke="#ececf2" stroke-width="0.50"/>
<line x1="226.50" y1="571.60" x2="226.50" y2="625.30" stroke="#ececf2" stroke-width="0.50"/>
<line x1="226.50" y1="647.00" x2="226.50" y2="683.20" stroke="#ececf2" stroke-width="0.50"/>
<line x1="239.25" y1="571.60" x2="239.25" y2="625.30" stroke="#ececf2" stroke-width="0.50"/>
<line x1="239.25" y1="647.00" x2="239.25" y2="683.20" stroke="#ececf2" stroke-width="0.50"/>
<line x1="252.00" y1="571.60" x2="252.00" y2="625.30" stroke="#ececf2" stroke-width="0.50"/>
<line x1="252.00" y1="647.00" x2="252.00" y2="683.20" stroke="#ececf2" stroke-width="0.50"/>
<line x1="264.75" y1="571.60" x2="264.75" y2="625.30" stroke="#ececf2" stroke-width="0.50"/>
<line x1="264.75" y1="647.00" x2="264.75" y2="683.20" stroke="#ececf2" stroke-width="0.50"/>
<line x1="277.50" y1="571.60" x2="277.50" y2="625.30" stroke="#ececf2" stroke-width="0.50"/>
<line x1="277.50" y1="647.00" x2="277.50" y2="683.20" stroke="#ececf2" stroke-width="0.50"/>
<line x1="290.25" y1="571.60" x2="290.25" y2="625.30" stroke="#ececf2" stroke-width="0.50"/>
<line x1="290.25" y1="647.00" x2="290.25" y2="683.20" stroke="#ececf2" stroke-width="0.50"/>
<line x1="303.00" y1="571.60" x2="303.00" y2="625.30" stroke="#ececf2" stroke-width="0.50"/>
<line x1="303.00" y1="647.00" x2="303.00" y2="683.20" stroke="#ececf2" stroke-width="0.50"/>
<line x1="315.75" y1="571.60" x2="315.75" y2="625.30" stroke="#ececf2" stroke-width="0.50"/>
<line x1="315.75" y1="647.00" x2="315.75" y2="683.20" stroke="#ececf2" stroke-width="0.50"/>
<line x1="328.50" y1="571.60" x2="328.50" y2="625.30" stroke="#ececf2" stroke-width="0.50"/>
<line x1="328.50" y1="647.00" x2="328.50" y2="683.20" stroke="#ececf2" stroke-width="0.50"/>
<line x1="201.50" y1="576.20" x2="328.50" y2="576.20" stroke="#ececf2" stroke-width="0.50"/>
<line x1="201.50" y1="582.96" x2="328.50" y2="582.96" stroke="#ececf2" stroke-width="0.50"/>
<line x1="201.50" y1="589.71" x2="328.50" y2="589.71" stroke="#ececf2" stroke-width="0.50"/>
<line x1="201.50" y1="596.47" x2="328.50" y2="596.47" stroke="#ececf2" stroke-width="0.50"/>
<line x1="201.50" y1="603.23" x2="328.50" y2="603.23" stroke="#ececf2" stroke-width="0.50"/>
<line x1="201.50" y1="609.99" x2="328.50" y2="609.99" stroke="#ececf2" stroke-width="0.50"/>
<line x1="201.50" y1="616.74" x2="328.50" y2="616.74" stroke="#ececf2" stroke-width="0.50"/>
<line x1="201.50" y1="623.50" x2="328.50" y2="623.50" stroke="#ececf2" stroke-width="0.50"/>
<line x1="201.00" y1="610.70" x2="328.50" y2="610.70" stroke="#c8c8c8" stroke-width="0.60"/>
<polyline points="202.00,608.10 204.10,601.30 206.10,596.00 208.10,591.90 210.10,585.20 211.50,583.20 214.20,582.50 216.80,583.80 218.90,584.50 220.90,581.80 223.60,578.50 226.90,578.50 230.30,577.10 233.00,575.80 236.40,575.50 239.70,574.70 243.80,575.50 249.10,577.80 254.50,582.50 259.90,587.90 265.30,593.30 267.40,593.30 272.80,598.60 278.20,604.00 283.50,609.40 288.90,614.10 294.30,617.50 298.30,620.20 302.40,622.20 305.10,621.50 308.40,618.80 310.50,617.50 312.50,619.50 315.20,618.20 318.50,615.50 321.20,614.80 323.20,616.80 323.90,610.80 324.60,609.40" fill="none" stroke="#96d46c" stroke-width="1.50" stroke-linejoin="round"/>
<line x1="202.50" y1="626.10" x2="202.50" y2="642.50" stroke="#666" stroke-width="0.85"/>
<line x1="203.50" y1="626.10" x2="203.50" y2="642.50" stroke="#888" stroke-width="0.85"/>
<line x1="204.50" y1="626.10" x2="204.50" y2="642.50" stroke="#111" stroke-width="0.85"/>
<line x1="206.50" y1="626.10" x2="206.50" y2="642.50" stroke="#111" stroke-width="0.85"/>
<line x1="207.50" y1="626.10" x2="207.50" y2="642.50" stroke="#000" stroke-width="0.85"/>
<line x1="209.50" y1="626.10" x2="209.50" y2="642.50" stroke="#111" stroke-width="0.85"/>
<line x1="210.50" y1="626.10" x2="210.50" y2="642.50" stroke="#111" stroke-width="0.85"/>
<line x1="211.50" y1="626.10" x2="211.50" y2="642.50" stroke="#888" stroke-width="0.85"/>
<line x1="212.50" y1="626.10" x2="212.50" y2="642.50" stroke="#111" stroke-width="0.85"/>
<line x1="214.50" y1="626.10" x2="214.50" y2="642.50" stroke="#000" stroke-width="0.85"/>
<line x1="215.50" y1="626.10" x2="215.50" y2="642.50" stroke="#888" stroke-width="0.85"/>
<line x1="216.50" y1="626.10" x2="216.50" y2="642.50" stroke="#333" stroke-width="0.85"/>
<line x1="216.50" y1="626.10" x2="216.50" y2="642.50" stroke="#222" stroke-width="0.85"/>
<line x1="218.50" y1="626.10" x2="218.50" y2="642.50" stroke="#111" stroke-width="0.85"/>
<line x1="219.50" y1="626.10" x2="219.50" y2="642.50" stroke="#222" stroke-width="0.85"/>
<line x1="220.50" y1="626.10" x2="220.50" y2="642.50" stroke="#333" stroke-width="0.85"/>
<line x1="221.50" y1="626.10" x2="221.50" y2="642.50" stroke="#111" stroke-width="0.85"/>
<line x1="222.50" y1="626.10" x2="222.50" y2="642.50" stroke="#333" stroke-width="0.85"/>
<line x1="223.50" y1="626.10" x2="223.50" y2="642.50" stroke="#888" stroke-width="0.85"/>
<line x1="225.50" y1="626.10" x2="225.50" y2="642.50" stroke="#aaa" stroke-width="0.85"/>
<line x1="226.50" y1="626.10" x2="226.50" y2="642.50" stroke="#aaa" stroke-width="0.85"/>
<line x1="227.50" y1="626.10" x2="227.50" y2="642.50" stroke="#333" stroke-width="0.85"/>
<line x1="228.50" y1="626.10" x2="228.50" y2="642.50" stroke="#333" stroke-width="0.85"/>
<line x1="229.50" y1="626.10" x2="229.50" y2="642.50" stroke="#444" stroke-width="0.85"/>
<line x1="230.50" y1="626.10" x2="230.50" y2="642.50" stroke="#666" stroke-width="0.85"/>
<line x1="232.50" y1="626.10" x2="232.50" y2="642.50" stroke="#444" stroke-width="0.85"/>
<line x1="235.50" y1="626.10" x2="235.50" y2="642.50" stroke="#222" stroke-width="0.85"/>
<line x1="236.50" y1="626.10" x2="236.50" y2="642.50" stroke="#222" stroke-width="0.85"/>
<line x1="238.50" y1="626.10" x2="238.50" y2="642.50" stroke="#888" stroke-width="0.85"/>
<line x1="240.50" y1="626.10" x2="240.50" y2="642.50" stroke="#666" stroke-width="0.85"/>
<line x1="241.50" y1="626.10" x2="241.50" y2="642.50" stroke="#666" stroke-width="0.85"/>
<line x1="242.50" y1="626.10" x2="242.50" y2="642.50" stroke="#aaa" stroke-width="0.85"/>
<line x1="243.50" y1="626.10" x2="243.50" y2="642.50" stroke="#111" stroke-width="0.85"/>
<line x1="244.50" y1="626.10" x2="244.50" y2="642.50" stroke="#aaa" stroke-width="0.85"/>
<line x1="246.50" y1="626.10" x2="246.50" y2="642.50" stroke="#111" stroke-width="0.85"/>
<line x1="247.50" y1="626.10" x2="247.50" y2="642.50" stroke="#444" stroke-width="0.85"/>
<line x1="248.50" y1="626.10" x2="248.50" y2="642.50" stroke="#aaa" stroke-width="0.85"/>
<line x1="249.50" y1="626.10" x2="249.50" y2="642.50" stroke="#888" stroke-width="0.85"/>
<line x1="251.50" y1="626.10" x2="251.50" y2="642.50" stroke="#aaa" stroke-width="0.85"/>
<line x1="252.50" y1="626.10" x2="252.50" y2="642.50" stroke="#111" stroke-width="0.85"/>
<line x1="253.50" y1="626.10" x2="253.50" y2="642.50" stroke="#333" stroke-width="0.85"/>
<line x1="255.50" y1="626.10" x2="255.50" y2="642.50" stroke="#222" stroke-width="0.85"/>
<line x1="257.50" y1="626.10" x2="257.50" y2="642.50" stroke="#aaa" stroke-width="0.85"/>
<line x1="258.50" y1="626.10" x2="258.50" y2="642.50" stroke="#aaa" stroke-width="0.85"/>
<line x1="259.50" y1="626.10" x2="259.50" y2="642.50" stroke="#444" stroke-width="0.85"/>
<line x1="261.50" y1="626.10" x2="261.50" y2="642.50" stroke="#888" stroke-width="0.85"/>
<line x1="262.50" y1="626.10" x2="262.50" y2="642.50" stroke="#444" stroke-width="0.85"/>
<line x1="263.50" y1="626.10" x2="263.50" y2="642.50" stroke="#666" stroke-width="0.85"/>
<line x1="265.50" y1="626.10" x2="265.50" y2="642.50" stroke="#888" stroke-width="0.85"/>
<line x1="266.50" y1="626.10" x2="266.50" y2="642.50" stroke="#222" stroke-width="0.85"/>
<line x1="269.50" y1="626.10" x2="269.50" y2="642.50" stroke="#000" stroke-width="0.85"/>
<line x1="270.50" y1="626.10" x2="270.50" y2="642.50" stroke="#222" stroke-width="0.85"/>
<line x1="271.50" y1="626.10" x2="271.50" y2="642.50" stroke="#000" stroke-width="0.85"/>
<line x1="272.50" y1="626.10" x2="272.50" y2="642.50" stroke="#666" stroke-width="0.85"/>
<line x1="273.50" y1="626.10" x2="273.50" y2="642.50" stroke="#666" stroke-width="0.85"/>
<line x1="276.50" y1="626.10" x2="276.50" y2="642.50" stroke="#000" stroke-width="0.85"/>
<line x1="277.50" y1="626.10" x2="277.50" y2="642.50" stroke="#888" stroke-width="0.85"/>
<line x1="278.50" y1="626.10" x2="278.50" y2="642.50" stroke="#888" stroke-width="0.85"/>
<line x1="279.50" y1="626.10" x2="279.50" y2="642.50" stroke="#888" stroke-width="0.85"/>
<line x1="280.50" y1="626.10" x2="280.50" y2="642.50" stroke="#111" stroke-width="0.85"/>
<line x1="283.50" y1="626.10" x2="283.50" y2="642.50" stroke="#111" stroke-width="0.85"/>
<line x1="284.50" y1="626.10" x2="284.50" y2="642.50" stroke="#000" stroke-width="0.85"/>
<line x1="284.50" y1="626.10" x2="284.50" y2="642.50" stroke="#222" stroke-width="0.85"/>
<line x1="286.50" y1="626.10" x2="286.50" y2="642.50" stroke="#666" stroke-width="0.85"/>
<line x1="287.50" y1="626.10" x2="287.50" y2="642.50" stroke="#111" stroke-width="0.85"/>
<line x1="290.50" y1="626.10" x2="290.50" y2="642.50" stroke="#222" stroke-width="0.85"/>
<line x1="291.50" y1="626.10" x2="291.50" y2="642.50" stroke="#666" stroke-width="0.85"/>
<line x1="292.50" y1="626.10" x2="292.50" y2="642.50" stroke="#aaa" stroke-width="0.85"/>
<line x1="293.50" y1="626.10" x2="293.50" y2="642.50" stroke="#aaa" stroke-width="0.85"/>
<line x1="297.50" y1="626.10" x2="297.50" y2="642.50" stroke="#111" stroke-width="0.85"/>
<line x1="298.50" y1="626.10" x2="298.50" y2="642.50" stroke="#666" stroke-width="0.85"/>
<line x1="299.50" y1="626.10" x2="299.50" y2="642.50" stroke="#aaa" stroke-width="0.85"/>
<line x1="300.50" y1="626.10" x2="300.50" y2="642.50" stroke="#222" stroke-width="0.85"/>
<line x1="302.50" y1="626.10" x2="302.50" y2="642.50" stroke="#333" stroke-width="0.85"/>
<line x1="303.50" y1="626.10" x2="303.50" y2="642.50" stroke="#666" stroke-width="0.85"/>
<line x1="304.50" y1="626.10" x2="304.50" y2="642.50" stroke="#000" stroke-width="0.85"/>
<line x1="305.50" y1="626.10" x2="305.50" y2="642.50" stroke="#444" stroke-width="0.85"/>
<line x1="307.50" y1="626.10" x2="307.50" y2="642.50" stroke="#111" stroke-width="0.85"/>
<line x1="308.50" y1="626.10" x2="308.50" y2="642.50" stroke="#444" stroke-width="0.85"/>
<line x1="309.50" y1="626.10" x2="309.50" y2="642.50" stroke="#222" stroke-width="0.85"/>
<line x1="310.50" y1="626.10" x2="310.50" y2="642.50" stroke="#333" stroke-width="0.85"/>
<line x1="313.50" y1="626.10" x2="313.50" y2="642.50" stroke="#666" stroke-width="0.85"/>
<line x1="314.50" y1="626.10" x2="314.50" y2="642.50" stroke="#333" stroke-width="0.85"/>
<line x1="316.50" y1="626.10" x2="316.50" y2="642.50" stroke="#888" stroke-width="0.85"/>
<line x1="318.50" y1="626.10" x2="318.50" y2="642.50" stroke="#aaa" stroke-width="0.85"/>
<line x1="319.50" y1="626.10" x2="319.50" y2="642.50" stroke="#000" stroke-width="0.85"/>
<line x1="321.50" y1="626.10" x2="321.50" y2="642.50" stroke="#444" stroke-width="0.85"/>
<line x1="322.50" y1="626.10" x2="322.50" y2="642.50" stroke="#333" stroke-width="0.85"/>
<line x1="323.50" y1="626.10" x2="323.50" y2="642.50" stroke="#666" stroke-width="0.85"/>
<line x1="201.00" y1="625.30" x2="331.20" y2="625.30" stroke="#e0e0e0" stroke-width="0.50"/>
<defs><linearGradient id="gC2" x1="0" x2="1" y1="0" y2="0"><stop offset="0.000" stop-color="#d63c3c"/><stop offset="0.360" stop-color="#dc4a4a"/><stop offset="0.390" stop-color="#e27a84"/><stop offset="0.430" stop-color="#ebb0c8"/><stop offset="0.480" stop-color="#e4d2ee"/><stop offset="0.550" stop-color="#d4d4f2"/><stop offset="0.680" stop-color="#c0c0f0"/><stop offset="0.700" stop-color="#5858d8"/><stop offset="0.900" stop-color="#4444d0"/><stop offset="0.960" stop-color="#2828b0"/><stop offset="1.000" stop-color="#2020a0"/></linearGradient></defs>
<rect x="201.00" y="642.50" width="124.00" height="4.50" fill="url(#gC2)" stroke="none" stroke-width="1.00"/>
<polygon points="201.00,661.40 201.00,659.50 210.00,660.30 250.00,661.00 262.00,661.40 300.00,662.30 318.00,663.50 323.00,666.00 325.00,671.00 325.00,661.40" fill="#c8c8c8"/>
<line x1="201.00" y1="661.40" x2="328.50" y2="661.40" stroke="#d8d8d8" stroke-width="0.40"/>
<line x1="263.50" y1="647.00" x2="263.50" y2="683.20" stroke="#bbbbbb" stroke-width="0.50" stroke-dasharray="1,1"/>
<text x="250.00" y="665.60" font-size="3.00" fill="#444">Zero cross at 5002</text>
<text x="203.00" y="658.60" font-size="7.20" font-style="italic" fill="#c83a3a" stroke="#c83a3a" stroke-width="0.2">Sipa1<tspan font-size="4.32" dy="-2.88">&#8211;/&#8211;</tspan><tspan dy="2.88" font-style="normal"> CD31</tspan><tspan font-size="4.32" dy="-2.88" font-style="normal">+</tspan></text>
<text x="277.00" y="676.60" font-size="7.50" font-style="italic" fill="#3434b8" stroke="#3434b8" stroke-width="0.2">Sipa1<tspan font-size="4.50" dy="-3.00">+/+</tspan><tspan dy="3.00" font-style="normal"> CD31</tspan><tspan font-size="4.50" dy="-3.00" font-style="normal">+</tspan></text>
<text x="203.00" y="650.60" font-size="3.40" fill="#cc3a3a">'na_pos' (positively correlated)</text>
<text x="265.00" y="681.40" font-size="3.40" fill="#3a3ac0">'na_neg' (negatively correlated)</text>
<rect x="201.00" y="571.60" width="130.20" height="111.60" fill="none" stroke="#000" stroke-width="1.30"/>
<line x1="198.00" y1="576.20" x2="201.00" y2="576.20" stroke="#000" stroke-width="0.90"/>
<text x="193.20" y="577.50" font-size="3.60" text-anchor="end" font-weight="bold" fill="#333" textLength="8.40" lengthAdjust="spacingAndGlyphs">0.25</text>
<line x1="198.00" y1="582.96" x2="201.00" y2="582.96" stroke="#000" stroke-width="0.90"/>
<text x="193.20" y="584.26" font-size="3.60" text-anchor="end" font-weight="bold" fill="#333" textLength="8.40" lengthAdjust="spacingAndGlyphs">0.20</text>
<line x1="198.00" y1="589.71" x2="201.00" y2="589.71" stroke="#000" stroke-width="0.90"/>
<text x="193.20" y="591.01" font-size="3.60" text-anchor="end" font-weight="bold" fill="#333" textLength="8.40" lengthAdjust="spacingAndGlyphs">0.15</text>
<line x1="198.00" y1="596.47" x2="201.00" y2="596.47" stroke="#000" stroke-width="0.90"/>
<text x="193.20" y="597.77" font-size="3.60" text-anchor="end" font-weight="bold" fill="#333" textLength="8.40" lengthAdjust="spacingAndGlyphs">0.10</text>
<line x1="198.00" y1="603.23" x2="201.00" y2="603.23" stroke="#000" stroke-width="0.90"/>
<text x="193.20" y="604.53" font-size="3.60" text-anchor="end" font-weight="bold" fill="#333" textLength="8.40" lengthAdjust="spacingAndGlyphs">0.05</text>
<line x1="198.00" y1="609.99" x2="201.00" y2="609.99" stroke="#000" stroke-width="0.90"/>
<text x="193.20" y="611.29" font-size="3.60" text-anchor="end" font-weight="bold" fill="#333" textLength="8.40" lengthAdjust="spacingAndGlyphs">0.00</text>
<line x1="198.00" y1="616.74" x2="201.00" y2="616.74" stroke="#000" stroke-width="0.90"/>
<text x="193.20" y="618.04" font-size="3.60" text-anchor="end" font-weight="bold" fill="#333" textLength="11.40" lengthAdjust="spacingAndGlyphs">-0.05</text>
<line x1="198.00" y1="623.50" x2="201.00" y2="623.50" stroke="#000" stroke-width="0.90"/>
<text x="193.20" y="624.80" font-size="3.60" text-anchor="end" font-weight="bold" fill="#333" textLength="11.40" lengthAdjust="spacingAndGlyphs">-0.10</text>
<text x="197.20" y="652.60" font-size="3.60" text-anchor="end" font-weight="bold" fill="#333" textLength="5.20" lengthAdjust="spacingAndGlyphs">0.5</text>
<text x="197.20" y="662.70" font-size="3.60" text-anchor="end" font-weight="bold" fill="#333" textLength="5.20" lengthAdjust="spacingAndGlyphs">0.0</text>
<text x="197.20" y="672.80" font-size="3.60" text-anchor="end" font-weight="bold" fill="#333" textLength="7.90" lengthAdjust="spacingAndGlyphs">-0.5</text>
<text x="197.20" y="682.90" font-size="3.60" text-anchor="end" font-weight="bold" fill="#333" textLength="7.90" lengthAdjust="spacingAndGlyphs">-1.0</text>
<line x1="201.00" y1="683.20" x2="201.00" y2="685.40" stroke="#000" stroke-width="0.90"/>
<text x="204.60" y="688.80" font-size="4.30" text-anchor="end" font-weight="bold" fill="#444" transform="rotate(-45 204.6 688.8)">0</text>
<line x1="213.75" y1="683.20" x2="213.75" y2="685.40" stroke="#000" stroke-width="0.90"/>
<text x="217.35" y="688.80" font-size="4.30" text-anchor="end" font-weight="bold" fill="#444" transform="rotate(-45 217.35 688.8)">1,000</text>
<line x1="226.50" y1="683.20" x2="226.50" y2="685.40" stroke="#000" stroke-width="0.90"/>
<text x="230.10" y="688.80" font-size="4.30" text-anchor="end" font-weight="bold" fill="#444" transform="rotate(-45 230.1 688.8)">2,000</text>
<line x1="239.25" y1="683.20" x2="239.25" y2="685.40" stroke="#000" stroke-width="0.90"/>
<text x="242.85" y="688.80" font-size="4.30" text-anchor="end" font-weight="bold" fill="#444" transform="rotate(-45 242.85 688.8)">3,000</text>
<line x1="252.00" y1="683.20" x2="252.00" y2="685.40" stroke="#000" stroke-width="0.90"/>
<text x="255.60" y="688.80" font-size="4.30" text-anchor="end" font-weight="bold" fill="#444" transform="rotate(-45 255.6 688.8)">4,000</text>
<line x1="264.75" y1="683.20" x2="264.75" y2="685.40" stroke="#000" stroke-width="0.90"/>
<text x="268.35" y="688.80" font-size="4.30" text-anchor="end" font-weight="bold" fill="#444" transform="rotate(-45 268.35 688.8)">5,000</text>
<line x1="277.50" y1="683.20" x2="277.50" y2="685.40" stroke="#000" stroke-width="0.90"/>
<text x="281.10" y="688.80" font-size="4.30" text-anchor="end" font-weight="bold" fill="#444" transform="rotate(-45 281.1 688.8)">6,000</text>
<line x1="290.25" y1="683.20" x2="290.25" y2="685.40" stroke="#000" stroke-width="0.90"/>
<text x="293.85" y="688.80" font-size="4.30" text-anchor="end" font-weight="bold" fill="#444" transform="rotate(-45 293.85 688.8)">7,000</text>
<line x1="303.00" y1="683.20" x2="303.00" y2="685.40" stroke="#000" stroke-width="0.90"/>
<text x="306.60" y="688.80" font-size="4.30" text-anchor="end" font-weight="bold" fill="#444" transform="rotate(-45 306.6 688.8)">8,000</text>
<line x1="315.75" y1="683.20" x2="315.75" y2="685.40" stroke="#000" stroke-width="0.90"/>
<text x="319.35" y="688.80" font-size="4.30" text-anchor="end" font-weight="bold" fill="#444" transform="rotate(-45 319.35 688.8)">9,000</text>
<line x1="328.50" y1="683.20" x2="328.50" y2="685.40" stroke="#000" stroke-width="0.90"/>
<text x="332.10" y="688.80" font-size="4.30" text-anchor="end" font-weight="bold" fill="#444" transform="rotate(-45 332.1 688.8)">10,000</text>
<text x="181.00" y="599.60" font-size="3.50" text-anchor="middle" font-weight="bold" fill="#222" transform="rotate(-90 181 599.6)">Enrichment score (ES)</text>
<text x="181.30" y="666.50" font-size="3.50" text-anchor="middle" font-weight="bold" fill="#222" transform="rotate(-90 181.3 666.5)">Ranked list metric</text>
<text x="186.90" y="666.50" font-size="3.50" text-anchor="middle" font-weight="bold" fill="#222" transform="rotate(-90 186.9 666.5)">(Signal2Noise)</text>
<text x="264.00" y="704.40" font-size="3.60" text-anchor="middle" font-weight="bold" fill="#222">Rank in ordered dataset</text>
<rect x="212.00" y="709.20" width="108.00" height="6.00" fill="#fff" stroke="#000" stroke-width="0.80"/>
<line x1="213.98" y1="712.20" x2="218.55" y2="712.20" stroke="#6cc040" stroke-width="0.80"/>
<text x="219.44" y="713.45" font-size="3.60" fill="#222">Enrichment profile</text>
<line x1="251.67" y1="712.20" x2="256.63" y2="712.20" stroke="#000" stroke-width="0.70"/>
<text x="258.41" y="713.45" font-size="3.60" fill="#222">Hits</text>
<line x1="271.50" y1="711.00" x2="275.47" y2="711.00" stroke="#bbb" stroke-width="0.60"/>
<line x1="277.45" y1="712.20" x2="281.42" y2="712.20" stroke="#777" stroke-width="0.60"/>
<text x="282.41" y="713.45" font-size="3.60" fill="#222">Ranking metric scores</text>
<text x="278.10" y="583.20" font-size="9.90" fill="#111"><tspan font-style="italic">P</tspan> = .04</text>
<text x="278.10" y="594.60" font-size="9.90" fill="#111">FDR = .16</text>
<rect x="28.30" y="265.80" width="60.48" height="231.25" fill="#111" stroke="none" stroke-width="1.00"/>
<rect x="28.95" y="266.45" width="8.78" height="7.95" fill="#e25252" stroke="none" stroke-width="1.00"/>
<rect x="39.03" y="266.45" width="8.78" height="7.95" fill="#dc2a24" stroke="none" stroke-width="1.00"/>
<rect x="49.11" y="266.45" width="8.78" height="7.95" fill="#e25252" stroke="none" stroke-width="1.00"/>
<rect x="59.19" y="266.45" width="8.78" height="7.95" fill="#3e2a94" stroke="none" stroke-width="1.00"/>
<rect x="69.27" y="266.45" width="8.78" height="7.95" fill="#3e2a94" stroke="none" stroke-width="1.00"/>
<rect x="79.35" y="266.45" width="8.78" height="7.95" fill="#3e2a94" stroke="none" stroke-width="1.00"/>
<rect x="28.95" y="275.70" width="8.78" height="7.95" fill="#ec8a8a" stroke="none" stroke-width="1.00"/>
<rect x="39.03" y="275.70" width="8.78" height="7.95" fill="#dc2a24" stroke="none" stroke-width="1.00"/>
<rect x="49.11" y="275.70" width="8.78" height="7.95" fill="#e25252" stroke="none" stroke-width="1.00"/>
<rect x="59.19" y="275.70" width="8.78" height="7.95" fill="#3e2a94" stroke="none" stroke-width="1.00"/>
<rect x="69.27" y="275.70" width="8.78" height="7.95" fill="#3e2a94" stroke="none" stroke-width="1.00"/>
<rect x="79.35" y="275.70" width="8.78" height="7.95" fill="#3e2a94" stroke="none" stroke-width="1.00"/>
<rect x="28.95" y="284.95" width="8.78" height="7.95" fill="#e25252" stroke="none" stroke-width="1.00"/>
<rect x="39.03" y="284.95" width="8.78" height="7.95" fill="#dc2a24" stroke="none" stroke-width="1.00"/>
<rect x="49.11" y="284.95" width="8.78" height="7.95" fill="#ec8a8a" stroke="none" stroke-width="1.00"/>
<rect x="59.19" y="284.95" width="8.78" height="7.95" fill="#3e2a94" stroke="none" stroke-width="1.00"/>
<rect x="69.27" y="284.95" width="8.78" height="7.95" fill="#3e2a94" stroke="none" stroke-width="1.00"/>
<rect x="79.35" y="284.95" width="8.78" height="7.95" fill="#3e2a94" stroke="none" stroke-width="1.00"/>
<rect x="28.95" y="294.20" width="8.78" height="7.95" fill="#ec8a8a" stroke="none" stroke-width="1.00"/>
<rect x="39.03" y="294.20" width="8.78" height="7.95" fill="#dc2a24" stroke="none" stroke-width="1.00"/>
<rect x="49.11" y="294.20" width="8.78" height="7.95" fill="#dc2a24" stroke="none" stroke-width="1.00"/>
<rect x="59.19" y="294.20" width="8.78" height="7.95" fill="#3e2a94" stroke="none" stroke-width="1.00"/>
<rect x="69.27" y="294.20" width="8.78" height="7.95" fill="#3e2a94" stroke="none" stroke-width="1.00"/>
<rect x="79.35" y="294.20" width="8.78" height="7.95" fill="#6a5cb8" stroke="none" stroke-width="1.00"/>
<rect x="28.95" y="303.45" width="8.78" height="7.95" fill="#e25252" stroke="none" stroke-width="1.00"/>
<rect x="39.03" y="303.45" width="8.78" height="7.95" fill="#dc2a24" stroke="none" stroke-width="1.00"/>
<rect x="49.11" y="303.45" width="8.78" height="7.95" fill="#ec8a8a" stroke="none" stroke-width="1.00"/>
<rect x="59.19" y="303.45" width="8.78" height="7.95" fill="#3e2a94" stroke="none" stroke-width="1.00"/>
<rect x="69.27" y="303.45" width="8.78" height="7.95" fill="#3e2a94" stroke="none" stroke-width="1.00"/>
<rect x="79.35" y="303.45" width="8.78" height="7.95" fill="#6a5cb8" stroke="none" stroke-width="1.00"/>
<rect x="28.95" y="312.70" width="8.78" height="7.95" fill="#dc2a24" stroke="none" stroke-width="1.00"/>
<rect x="39.03" y="312.70" width="8.78" height="7.95" fill="#e25252" stroke="none" stroke-width="1.00"/>
<rect x="49.11" y="312.70" width="8.78" height="7.95" fill="#e25252" stroke="none" stroke-width="1.00"/>
<rect x="59.19" y="312.70" width="8.78" height="7.95" fill="#3e2a94" stroke="none" stroke-width="1.00"/>
<rect x="69.27" y="312.70" width="8.78" height="7.95" fill="#3e2a94" stroke="none" stroke-width="1.00"/>
<rect x="79.35" y="312.70" width="8.78" height="7.95" fill="#8c8cd4" stroke="none" stroke-width="1.00"/>
<rect x="28.95" y="321.95" width="8.78" height="7.95" fill="#e25252" stroke="none" stroke-width="1.00"/>
<rect x="39.03" y="321.95" width="8.78" height="7.95" fill="#dc2a24" stroke="none" stroke-width="1.00"/>
<rect x="49.11" y="321.95" width="8.78" height="7.95" fill="#dc2a24" stroke="none" stroke-width="1.00"/>
<rect x="59.19" y="321.95" width="8.78" height="7.95" fill="#3e2a94" stroke="none" stroke-width="1.00"/>
<rect x="69.27" y="321.95" width="8.78" height="7.95" fill="#3e2a94" stroke="none" stroke-width="1.00"/>
<rect x="79.35" y="321.95" width="8.78" height="7.95" fill="#8c8cd4" stroke="none" stroke-width="1.00"/>
<rect x="28.95" y="331.20" width="8.78" height="7.95" fill="#dc2a24" stroke="none" stroke-width="1.00"/>
<rect x="39.03" y="331.20" width="8.78" height="7.95" fill="#f2cade" stroke="none" stroke-width="1.00"/>
<rect x="49.11" y="331.20" width="8.78" height="7.95" fill="#dc2a24" stroke="none" stroke-width="1.00"/>
<rect x="59.19" y="331.20" width="8.78" height="7.95" fill="#3e2a94" stroke="none" stroke-width="1.00"/>
<rect x="69.27" y="331.20" width="8.78" height="7.95" fill="#3e2a94" stroke="none" stroke-width="1.00"/>
<rect x="79.35" y="331.20" width="8.78" height="7.95" fill="#3e2a94" stroke="none" stroke-width="1.00"/>
<rect x="28.95" y="340.45" width="8.78" height="7.95" fill="#dc2a24" stroke="none" stroke-width="1.00"/>
<rect x="39.03" y="340.45" width="8.78" height="7.95" fill="#e25252" stroke="none" stroke-width="1.00"/>
<rect x="49.11" y="340.45" width="8.78" height="7.95" fill="#ec8a8a" stroke="none" stroke-width="1.00"/>
<rect x="59.19" y="340.45" width="8.78" height="7.95" fill="#3e2a94" stroke="none" stroke-width="1.00"/>
<rect x="69.27" y="340.45" width="8.78" height="7.95" fill="#3e2a94" stroke="none" stroke-width="1.00"/>
<rect x="79.35" y="340.45" width="8.78" height="7.95" fill="#8c8cd4" stroke="none" stroke-width="1.00"/>
<rect x="28.95" y="349.70" width="8.78" height="7.95" fill="#dc2a24" stroke="none" stroke-width="1.00"/>
<rect x="39.03" y="349.70" width="8.78" height="7.95" fill="#dc2a24" stroke="none" stroke-width="1.00"/>
<rect x="49.11" y="349.70" width="8.78" height="7.95" fill="#ec8a8a" stroke="none" stroke-width="1.00"/>
<rect x="59.19" y="349.70" width="8.78" height="7.95" fill="#3e2a94" stroke="none" stroke-width="1.00"/>
<rect x="69.27" y="349.70" width="8.78" height="7.95" fill="#3e2a94" stroke="none" stroke-width="1.00"/>
<rect x="79.35" y="349.70" width="8.78" height="7.95" fill="#d2d4f0" stroke="none" stroke-width="1.00"/>
<rect x="28.95" y="358.95" width="8.78" height="7.95" fill="#d2d4f0" stroke="none" stroke-width="1.00"/>
<rect x="39.03" y="358.95" width="8.78" height="7.95" fill="#dc2a24" stroke="none" stroke-width="1.00"/>
<rect x="49.11" y="358.95" width="8.78" height="7.95" fill="#e25252" stroke="none" stroke-width="1.00"/>
<rect x="59.19" y="358.95" width="8.78" height="7.95" fill="#3e2a94" stroke="none" stroke-width="1.00"/>
<rect x="69.27" y="358.95" width="8.78" height="7.95" fill="#3e2a94" stroke="none" stroke-width="1.00"/>
<rect x="79.35" y="358.95" width="8.78" height="7.95" fill="#3e2a94" stroke="none" stroke-width="1.00"/>
<rect x="28.95" y="368.20" width="8.78" height="7.95" fill="#ec8a8a" stroke="none" stroke-width="1.00"/>
<rect x="39.03" y="368.20" width="8.78" height="7.95" fill="#dc2a24" stroke="none" stroke-width="1.00"/>
<rect x="49.11" y="368.20" width="8.78" height="7.95" fill="#e25252" stroke="none" stroke-width="1.00"/>
<rect x="59.19" y="368.20" width="8.78" height="7.95" fill="#3e2a94" stroke="none" stroke-width="1.00"/>
<rect x="69.27" y="368.20" width="8.78" height="7.95" fill="#3e2a94" stroke="none" stroke-width="1.00"/>
<rect x="79.35" y="368.20" width="8.78" height="7.95" fill="#d2d4f0" stroke="none" stroke-width="1.00"/>
<rect x="28.95" y="377.45" width="8.78" height="7.95" fill="#ec8a8a" stroke="none" stroke-width="1.00"/>
<rect x="39.03" y="377.45" width="8.78" height="7.95" fill="#dc2a24" stroke="none" stroke-width="1.00"/>
<rect x="49.11" y="377.45" width="8.78" height="7.95" fill="#e25252" stroke="none" stroke-width="1.00"/>
<rect x="59.19" y="377.45" width="8.78" height="7.95" fill="#8c8cd4" stroke="none" stroke-width="1.00"/>
<rect x="69.27" y="377.45" width="8.78" height="7.95" fill="#3e2a94" stroke="none" stroke-width="1.00"/>
<rect x="79.35" y="377.45" width="8.78" height="7.95" fill="#8c8cd4" stroke="none" stroke-width="1.00"/>
<rect x="28.95" y="386.70" width="8.78" height="7.95" fill="#ec8a8a" stroke="none" stroke-width="1.00"/>
<rect x="39.03" y="386.70" width="8.78" height="7.95" fill="#e25252" stroke="none" stroke-width="1.00"/>
<rect x="49.11" y="386.70" width="8.78" height="7.95" fill="#dc2a24" stroke="none" stroke-width="1.00"/>
<rect x="59.19" y="386.70" width="8.78" height="7.95" fill="#3e2a94" stroke="none" stroke-width="1.00"/>
<rect x="69.27" y="386.70" width="8.78" height="7.95" fill="#3e2a94" stroke="none" stroke-width="1.00"/>
<rect x="79.35" y="386.70" width="8.78" height="7.95" fill="#8c8cd4" stroke="none" stroke-width="1.00"/>
<rect x="28.95" y="395.95" width="8.78" height="7.95" fill="#dc2a24" stroke="none" stroke-width="1.00"/>
<rect x="39.03" y="395.95" width="8.78" height="7.95" fill="#f2cade" stroke="none" stroke-width="1.00"/>
<rect x="49.11" y="395.95" width="8.78" height="7.95" fill="#ec8a8a" stroke="none" stroke-width="1.00"/>
<rect x="59.19" y="395.95" width="8.78" height="7.95" fill="#3e2a94" stroke="none" stroke-width="1.00"/>
<rect x="69.27" y="395.95" width="8.78" height="7.95" fill="#3e2a94" stroke="none" stroke-width="1.00"/>
<rect x="79.35" y="395.95" width="8.78" height="7.95" fill="#6a5cb8" stroke="none" stroke-width="1.00"/>
<rect x="28.95" y="405.20" width="8.78" height="7.95" fill="#dc2a24" stroke="none" stroke-width="1.00"/>
<rect x="39.03" y="405.20" width="8.78" height="7.95" fill="#e25252" stroke="none" stroke-width="1.00"/>
<rect x="49.11" y="405.20" width="8.78" height="7.95" fill="#f2cade" stroke="none" stroke-width="1.00"/>
<rect x="59.19" y="405.20" width="8.78" height="7.95" fill="#3e2a94" stroke="none" stroke-width="1.00"/>
<rect x="69.27" y="405.20" width="8.78" height="7.95" fill="#3e2a94" stroke="none" stroke-width="1.00"/>
<rect x="79.35" y="405.20" width="8.78" height="7.95" fill="#8c8cd4" stroke="none" stroke-width="1.00"/>
<rect x="28.95" y="414.45" width="8.78" height="7.95" fill="#ec8a8a" stroke="none" stroke-width="1.00"/>
<rect x="39.03" y="414.45" width="8.78" height="7.95" fill="#dc2a24" stroke="none" stroke-width="1.00"/>
<rect x="49.11" y="414.45" width="8.78" height="7.95" fill="#ec8a8a" stroke="none" stroke-width="1.00"/>
<rect x="59.19" y="414.45" width="8.78" height="7.95" fill="#3e2a94" stroke="none" stroke-width="1.00"/>
<rect x="69.27" y="414.45" width="8.78" height="7.95" fill="#6a5cb8" stroke="none" stroke-width="1.00"/>
<rect x="79.35" y="414.45" width="8.78" height="7.95" fill="#8c8cd4" stroke="none" stroke-width="1.00"/>
<rect x="28.95" y="423.70" width="8.78" height="7.95" fill="#f2cade" stroke="none" stroke-width="1.00"/>
<rect x="39.03" y="423.70" width="8.78" height="7.95" fill="#e25252" stroke="none" stroke-width="1.00"/>
<rect x="49.11" y="423.70" width="8.78" height="7.95" fill="#dc2a24" stroke="none" stroke-width="1.00"/>
<rect x="59.19" y="423.70" width="8.78" height="7.95" fill="#3e2a94" stroke="none" stroke-width="1.00"/>
<rect x="69.27" y="423.70" width="8.78" height="7.95" fill="#3e2a94" stroke="none" stroke-width="1.00"/>
<rect x="79.35" y="423.70" width="8.78" height="7.95" fill="#8c8cd4" stroke="none" stroke-width="1.00"/>
<rect x="28.95" y="432.95" width="8.78" height="7.95" fill="#dc2a24" stroke="none" stroke-width="1.00"/>
<rect x="39.03" y="432.95" width="8.78" height="7.95" fill="#e25252" stroke="none" stroke-width="1.00"/>
<rect x="49.11" y="432.95" width="8.78" height="7.95" fill="#f2cade" stroke="none" stroke-width="1.00"/>
<rect x="59.19" y="432.95" width="8.78" height="7.95" fill="#3e2a94" stroke="none" stroke-width="1.00"/>
<rect x="69.27" y="432.95" width="8.78" height="7.95" fill="#8c8cd4" stroke="none" stroke-width="1.00"/>
<rect x="79.35" y="432.95" width="8.78" height="7.95" fill="#3e2a94" stroke="none" stroke-width="1.00"/>
<rect x="28.95" y="442.20" width="8.78" height="7.95" fill="#e25252" stroke="none" stroke-width="1.00"/>
<rect x="39.03" y="442.20" width="8.78" height="7.95" fill="#dc2a24" stroke="none" stroke-width="1.00"/>
<rect x="49.11" y="442.20" width="8.78" height="7.95" fill="#e25252" stroke="none" stroke-width="1.00"/>
<rect x="59.19" y="442.20" width="8.78" height="7.95" fill="#3e2a94" stroke="none" stroke-width="1.00"/>
<rect x="69.27" y="442.20" width="8.78" height="7.95" fill="#3e2a94" stroke="none" stroke-width="1.00"/>
<rect x="79.35" y="442.20" width="8.78" height="7.95" fill="#8c8cd4" stroke="none" stroke-width="1.00"/>
<rect x="28.95" y="451.45" width="8.78" height="7.95" fill="#dc2a24" stroke="none" stroke-width="1.00"/>
<rect x="39.03" y="451.45" width="8.78" height="7.95" fill="#f2cade" stroke="none" stroke-width="1.00"/>
<rect x="49.11" y="451.45" width="8.78" height="7.95" fill="#e25252" stroke="none" stroke-width="1.00"/>
<rect x="59.19" y="451.45" width="8.78" height="7.95" fill="#3e2a94" stroke="none" stroke-width="1.00"/>
<rect x="69.27" y="451.45" width="8.78" height="7.95" fill="#8c8cd4" stroke="none" stroke-width="1.00"/>
<rect x="79.35" y="451.45" width="8.78" height="7.95" fill="#3e2a94" stroke="none" stroke-width="1.00"/>
<rect x="28.95" y="460.70" width="8.78" height="7.95" fill="#ec8a8a" stroke="none" stroke-width="1.00"/>
<rect x="39.03" y="460.70" width="8.78" height="7.95" fill="#dc2a24" stroke="none" stroke-width="1.00"/>
<rect x="49.11" y="460.70" width="8.78" height="7.95" fill="#f2cade" stroke="none" stroke-width="1.00"/>
<rect x="59.19" y="460.70" width="8.78" height="7.95" fill="#3e2a94" stroke="none" stroke-width="1.00"/>
<rect x="69.27" y="460.70" width="8.78" height="7.95" fill="#6a5cb8" stroke="none" stroke-width="1.00"/>
<rect x="79.35" y="460.70" width="8.78" height="7.95" fill="#3e2a94" stroke="none" stroke-width="1.00"/>
<rect x="28.95" y="469.95" width="8.78" height="7.95" fill="#dc2a24" stroke="none" stroke-width="1.00"/>
<rect x="39.03" y="469.95" width="8.78" height="7.95" fill="#e25252" stroke="none" stroke-width="1.00"/>
<rect x="49.11" y="469.95" width="8.78" height="7.95" fill="#dc2a24" stroke="none" stroke-width="1.00"/>
<rect x="59.19" y="469.95" width="8.78" height="7.95" fill="#d2d4f0" stroke="none" stroke-width="1.00"/>
<rect x="69.27" y="469.95" width="8.78" height="7.95" fill="#3e2a94" stroke="none" stroke-width="1.00"/>
<rect x="79.35" y="469.95" width="8.78" height="7.95" fill="#6a5cb8" stroke="none" stroke-width="1.00"/>
<rect x="28.95" y="479.20" width="8.78" height="7.95" fill="#ec8a8a" stroke="none" stroke-width="1.00"/>
<rect x="39.03" y="479.20" width="8.78" height="7.95" fill="#e25252" stroke="none" stroke-width="1.00"/>
<rect x="49.11" y="479.20" width="8.78" height="7.95" fill="#dc2a24" stroke="none" stroke-width="1.00"/>
<rect x="59.19" y="479.20" width="8.78" height="7.95" fill="#8c8cd4" stroke="none" stroke-width="1.00"/>
<rect x="69.27" y="479.20" width="8.78" height="7.95" fill="#3e2a94" stroke="none" stroke-width="1.00"/>
<rect x="79.35" y="479.20" width="8.78" height="7.95" fill="#6a5cb8" stroke="none" stroke-width="1.00"/>
<rect x="28.95" y="488.45" width="8.78" height="7.95" fill="#e25252" stroke="none" stroke-width="1.00"/>
<rect x="39.03" y="488.45" width="8.78" height="7.95" fill="#e25252" stroke="none" stroke-width="1.00"/>
<rect x="49.11" y="488.45" width="8.78" height="7.95" fill="#dc2a24" stroke="none" stroke-width="1.00"/>
<rect x="59.19" y="488.45" width="8.78" height="7.95" fill="#3e2a94" stroke="none" stroke-width="1.00"/>
<rect x="69.27" y="488.45" width="8.78" height="7.95" fill="#3e2a94" stroke="none" stroke-width="1.00"/>
<rect x="79.35" y="488.45" width="8.78" height="7.95" fill="#d2d4f0" stroke="none" stroke-width="1.00"/>
<text x="91.60" y="273.23" font-size="7.80" font-style="italic" fill="#1a1a1a" stroke="#1a1a1a" stroke-width="0.22">Fam19a1</text>
<text x="91.60" y="282.48" font-size="7.80" font-style="italic" fill="#1a1a1a" stroke="#1a1a1a" stroke-width="0.22">Sf3a2</text>
<text x="91.60" y="291.73" font-size="7.80" font-style="italic" fill="#1a1a1a" stroke="#1a1a1a" stroke-width="0.22">Adrbk1</text>
<text x="91.60" y="300.98" font-size="7.80" font-style="italic" fill="#1a1a1a" stroke="#1a1a1a" stroke-width="0.22">Tbxas1</text>
<text x="91.60" y="310.23" font-size="7.80" font-style="italic" fill="#1a1a1a" stroke="#1a1a1a" stroke-width="0.22">Thpo</text>
<text x="91.60" y="319.48" font-size="7.80" font-style="italic" fill="#1a1a1a" stroke="#1a1a1a" stroke-width="0.22">Spag5</text>
<text x="91.60" y="328.73" font-size="7.80" font-style="italic" fill="#1a1a1a" stroke="#1a1a1a" stroke-width="0.22">Zdhhc18</text>
<text x="91.60" y="337.98" font-size="7.80" font-style="italic" fill="#1a1a1a" stroke="#1a1a1a" stroke-width="0.22">Cldn15</text>
<text x="91.60" y="347.23" font-size="7.80" font-style="italic" fill="#1a1a1a" stroke="#1a1a1a" stroke-width="0.22">Pla2g6</text>
<text x="91.60" y="356.48" font-size="7.80" font-style="italic" fill="#1a1a1a" stroke="#1a1a1a" stroke-width="0.22">Pim2</text>
<text x="91.60" y="365.73" font-size="7.80" font-style="italic" fill="#1a1a1a" stroke="#1a1a1a" stroke-width="0.22">Pdia2</text>
<text x="91.60" y="374.98" font-size="7.80" font-style="italic" fill="#1a1a1a" stroke="#1a1a1a" stroke-width="0.22">Prkar1b</text>
<text x="91.60" y="384.23" font-size="7.80" font-style="italic" fill="#1a1a1a" stroke="#1a1a1a" stroke-width="0.22">Rfc2</text>
<text x="91.60" y="393.48" font-size="7.80" font-style="italic" fill="#1a1a1a" stroke="#1a1a1a" stroke-width="0.22">R3hcc1</text>
<text x="91.60" y="402.73" font-size="7.80" font-style="italic" fill="#1a1a1a" stroke="#1a1a1a" stroke-width="0.22">Lamb3</text>
<text x="91.60" y="411.98" font-size="7.80" font-style="italic" fill="#1a1a1a" stroke="#1a1a1a" stroke-width="0.22">Ccdc17</text>
<text x="91.60" y="421.23" font-size="7.80" font-style="italic" fill="#1a1a1a" stroke="#1a1a1a" stroke-width="0.22">Mllt11</text>
<text x="91.60" y="430.48" font-size="7.80" font-style="italic" fill="#1a1a1a" stroke="#1a1a1a" stroke-width="0.22">Fbxo32</text>
<text x="91.60" y="439.73" font-size="7.80" font-style="italic" fill="#1a1a1a" stroke="#1a1a1a" stroke-width="0.22">Vash2</text>
<text x="91.60" y="448.98" font-size="7.80" font-style="italic" fill="#1a1a1a" stroke="#1a1a1a" stroke-width="0.22">Dlx4</text>
<text x="91.60" y="458.23" font-size="7.80" font-style="italic" fill="#1a1a1a" stroke="#1a1a1a" stroke-width="0.22">Ddx11</text>
<text x="91.60" y="467.48" font-size="7.80" font-style="italic" fill="#1a1a1a" stroke="#1a1a1a" stroke-width="0.22">Prss36</text>
<text x="91.60" y="476.73" font-size="7.80" font-style="italic" fill="#1a1a1a" stroke="#1a1a1a" stroke-width="0.22">Plekhg5</text>
<text x="91.60" y="485.98" font-size="7.80" font-style="italic" fill="#1a1a1a" stroke="#1a1a1a" stroke-width="0.22">Slc38a4</text>
<text x="91.60" y="495.23" font-size="7.80" font-style="italic" fill="#1a1a1a" stroke="#1a1a1a" stroke-width="0.22">Dmd</text>
<text x="35.04" y="262.60" font-size="7.80" font-style="italic" fill="#1a1a1a" transform="rotate(-90 35.04 262.6)" stroke="#1a1a1a" stroke-width="0.18">Sipa1<tspan font-size="5.46" dy="-2.81">&#8211;/&#8211;</tspan></text>
<text x="45.12" y="262.60" font-size="7.80" font-style="italic" fill="#1a1a1a" transform="rotate(-90 45.12 262.6)" stroke="#1a1a1a" stroke-width="0.18">Sipa1<tspan font-size="5.46" dy="-2.81">&#8211;/&#8211;</tspan></text>
<text x="55.20" y="262.60" font-size="7.80" font-style="italic" fill="#1a1a1a" transform="rotate(-90 55.2 262.6)" stroke="#1a1a1a" stroke-width="0.18">Sipa1<tspan font-size="5.46" dy="-2.81">&#8211;/&#8211;</tspan></text>
<text x="65.28" y="262.60" font-size="7.80" font-style="italic" fill="#1a1a1a" transform="rotate(-90 65.28 262.6)" stroke="#1a1a1a" stroke-width="0.18">Sipa1<tspan font-size="5.46" dy="-2.81">+/+</tspan></text>
<text x="75.36" y="262.60" font-size="7.80" font-style="italic" fill="#1a1a1a" transform="rotate(-90 75.36 262.6)" stroke="#1a1a1a" stroke-width="0.18">Sipa1<tspan font-size="5.46" dy="-2.81">+/+</tspan></text>
<text x="85.44" y="262.60" font-size="7.80" font-style="italic" fill="#1a1a1a" transform="rotate(-90 85.44 262.6)" stroke="#1a1a1a" stroke-width="0.18">Sipa1<tspan font-size="5.46" dy="-2.81">+/+</tspan></text>
<rect x="138.20" y="265.80" width="57.60" height="231.25" fill="#111" stroke="none" stroke-width="1.00"/>
<rect x="138.85" y="266.45" width="8.30" height="7.95" fill="#6a5cb8" stroke="none" stroke-width="1.00"/>
<rect x="148.45" y="266.45" width="8.30" height="7.95" fill="#3e2a94" stroke="none" stroke-width="1.00"/>
<rect x="158.05" y="266.45" width="8.30" height="7.95" fill="#3e2a94" stroke="none" stroke-width="1.00"/>
<rect x="167.65" y="266.45" width="8.30" height="7.95" fill="#dc2a24" stroke="none" stroke-width="1.00"/>
<rect x="177.25" y="266.45" width="8.30" height="7.95" fill="#dc2a24" stroke="none" stroke-width="1.00"/>
<rect x="186.85" y="266.45" width="8.30" height="7.95" fill="#e25252" stroke="none" stroke-width="1.00"/>
<rect x="138.85" y="275.70" width="8.30" height="7.95" fill="#3e2a94" stroke="none" stroke-width="1.00"/>
<rect x="148.45" y="275.70" width="8.30" height="7.95" fill="#3e2a94" stroke="none" stroke-width="1.00"/>
<rect x="158.05" y="275.70" width="8.30" height="7.95" fill="#3e2a94" stroke="none" stroke-width="1.00"/>
<rect x="167.65" y="275.70" width="8.30" height="7.95" fill="#dc2a24" stroke="none" stroke-width="1.00"/>
<rect x="177.25" y="275.70" width="8.30" height="7.95" fill="#f2cade" stroke="none" stroke-width="1.00"/>
<rect x="186.85" y="275.70" width="8.30" height="7.95" fill="#dc2a24" stroke="none" stroke-width="1.00"/>
<rect x="138.85" y="284.95" width="8.30" height="7.95" fill="#8c8cd4" stroke="none" stroke-width="1.00"/>
<rect x="148.45" y="284.95" width="8.30" height="7.95" fill="#3e2a94" stroke="none" stroke-width="1.00"/>
<rect x="158.05" y="284.95" width="8.30" height="7.95" fill="#3e2a94" stroke="none" stroke-width="1.00"/>
<rect x="167.65" y="284.95" width="8.30" height="7.95" fill="#dc2a24" stroke="none" stroke-width="1.00"/>
<rect x="177.25" y="284.95" width="8.30" height="7.95" fill="#ec8a8a" stroke="none" stroke-width="1.00"/>
<rect x="186.85" y="284.95" width="8.30" height="7.95" fill="#e25252" stroke="none" stroke-width="1.00"/>
<rect x="138.85" y="294.20" width="8.30" height="7.95" fill="#3e2a94" stroke="none" stroke-width="1.00"/>
<rect x="148.45" y="294.20" width="8.30" height="7.95" fill="#3e2a94" stroke="none" stroke-width="1.00"/>
<rect x="158.05" y="294.20" width="8.30" height="7.95" fill="#8c8cd4" stroke="none" stroke-width="1.00"/>
<rect x="167.65" y="294.20" width="8.30" height="7.95" fill="#dc2a24" stroke="none" stroke-width="1.00"/>
<rect x="177.25" y="294.20" width="8.30" height="7.95" fill="#dc2a24" stroke="none" stroke-width="1.00"/>
<rect x="186.85" y="294.20" width="8.30" height="7.95" fill="#f2cade" stroke="none" stroke-width="1.00"/>
<rect x="138.85" y="303.45" width="8.30" height="7.95" fill="#3e2a94" stroke="none" stroke-width="1.00"/>
<rect x="148.45" y="303.45" width="8.30" height="7.95" fill="#6a5cb8" stroke="none" stroke-width="1.00"/>
<rect x="158.05" y="303.45" width="8.30" height="7.95" fill="#3e2a94" stroke="none" stroke-width="1.00"/>
<rect x="167.65" y="303.45" width="8.30" height="7.95" fill="#dc2a24" stroke="none" stroke-width="1.00"/>
<rect x="177.25" y="303.45" width="8.30" height="7.95" fill="#e25252" stroke="none" stroke-width="1.00"/>
<rect x="186.85" y="303.45" width="8.30" height="7.95" fill="#f2cade" stroke="none" stroke-width="1.00"/>
<rect x="138.85" y="312.70" width="8.30" height="7.95" fill="#3e2a94" stroke="none" stroke-width="1.00"/>
<rect x="148.45" y="312.70" width="8.30" height="7.95" fill="#3e2a94" stroke="none" stroke-width="1.00"/>
<rect x="158.05" y="312.70" width="8.30" height="7.95" fill="#3e2a94" stroke="none" stroke-width="1.00"/>
<rect x="167.65" y="312.70" width="8.30" height="7.95" fill="#dc2a24" stroke="none" stroke-width="1.00"/>
<rect x="177.25" y="312.70" width="8.30" height="7.95" fill="#e25252" stroke="none" stroke-width="1.00"/>
<rect x="186.85" y="312.70" width="8.30" height="7.95" fill="#f2cade" stroke="none" stroke-width="1.00"/>
<rect x="138.85" y="321.95" width="8.30" height="7.95" fill="#3e2a94" stroke="none" stroke-width="1.00"/>
<rect x="148.45" y="321.95" width="8.30" height="7.95" fill="#3e2a94" stroke="none" stroke-width="1.00"/>
<rect x="158.05" y="321.95" width="8.30" height="7.95" fill="#d2d4f0" stroke="none" stroke-width="1.00"/>
<rect x="167.65" y="321.95" width="8.30" height="7.95" fill="#dc2a24" stroke="none" stroke-width="1.00"/>
<rect x="177.25" y="321.95" width="8.30" height="7.95" fill="#e25252" stroke="none" stroke-width="1.00"/>
<rect x="186.85" y="321.95" width="8.30" height="7.95" fill="#ec8a8a" stroke="none" stroke-width="1.00"/>
<rect x="138.85" y="331.20" width="8.30" height="7.95" fill="#3e2a94" stroke="none" stroke-width="1.00"/>
<rect x="148.45" y="331.20" width="8.30" height="7.95" fill="#8c8cd4" stroke="none" stroke-width="1.00"/>
<rect x="158.05" y="331.20" width="8.30" height="7.95" fill="#3e2a94" stroke="none" stroke-width="1.00"/>
<rect x="167.65" y="331.20" width="8.30" height="7.95" fill="#dc2a24" stroke="none" stroke-width="1.00"/>
<rect x="177.25" y="331.20" width="8.30" height="7.95" fill="#e25252" stroke="none" stroke-width="1.00"/>
<rect x="186.85" y="331.20" width="8.30" height="7.95" fill="#f2cade" stroke="none" stroke-width="1.00"/>
<rect x="138.85" y="340.45" width="8.30" height="7.95" fill="#3e2a94" stroke="none" stroke-width="1.00"/>
<rect x="148.45" y="340.45" width="8.30" height="7.95" fill="#3e2a94" stroke="none" stroke-width="1.00"/>
<rect x="158.05" y="340.45" width="8.30" height="7.95" fill="#8c8cd4" stroke="none" stroke-width="1.00"/>
<rect x="167.65" y="340.45" width="8.30" height="7.95" fill="#e25252" stroke="none" stroke-width="1.00"/>
<rect x="177.25" y="340.45" width="8.30" height="7.95" fill="#dc2a24" stroke="none" stroke-width="1.00"/>
<rect x="186.85" y="340.45" width="8.30" height="7.95" fill="#f2cade" stroke="none" stroke-width="1.00"/>
<rect x="138.85" y="349.70" width="8.30" height="7.95" fill="#d2d4f0" stroke="none" stroke-width="1.00"/>
<rect x="148.45" y="349.70" width="8.30" height="7.95" fill="#3e2a94" stroke="none" stroke-width="1.00"/>
<rect x="158.05" y="349.70" width="8.30" height="7.95" fill="#3e2a94" stroke="none" stroke-width="1.00"/>
<rect x="167.65" y="349.70" width="8.30" height="7.95" fill="#dc2a24" stroke="none" stroke-width="1.00"/>
<rect x="177.25" y="349.70" width="8.30" height="7.95" fill="#ec8a8a" stroke="none" stroke-width="1.00"/>
<rect x="186.85" y="349.70" width="8.30" height="7.95" fill="#ec8a8a" stroke="none" stroke-width="1.00"/>
<rect x="138.85" y="358.95" width="8.30" height="7.95" fill="#3e2a94" stroke="none" stroke-width="1.00"/>
<rect x="148.45" y="358.95" width="8.30" height="7.95" fill="#3e2a94" stroke="none" stroke-width="1.00"/>
<rect x="158.05" y="358.95" width="8.30" height="7.95" fill="#d2d4f0" stroke="none" stroke-width="1.00"/>
<rect x="167.65" y="358.95" width="8.30" height="7.95" fill="#ec8a8a" stroke="none" stroke-width="1.00"/>
<rect x="177.25" y="358.95" width="8.30" height="7.95" fill="#dc2a24" stroke="none" stroke-width="1.00"/>
<rect x="186.85" y="358.95" width="8.30" height="7.95" fill="#ec8a8a" stroke="none" stroke-width="1.00"/>
<rect x="138.85" y="368.20" width="8.30" height="7.95" fill="#3e2a94" stroke="none" stroke-width="1.00"/>
<rect x="148.45" y="368.20" width="8.30" height="7.95" fill="#6a5cb8" stroke="none" stroke-width="1.00"/>
<rect x="158.05" y="368.20" width="8.30" height="7.95" fill="#d2d4f0" stroke="none" stroke-width="1.00"/>
<rect x="167.65" y="368.20" width="8.30" height="7.95" fill="#ec8a8a" stroke="none" stroke-width="1.00"/>
<rect x="177.25" y="368.20" width="8.30" height="7.95" fill="#dc2a24" stroke="none" stroke-width="1.00"/>
<rect x="186.85" y="368.20" width="8.30" height="7.95" fill="#ec8a8a" stroke="none" stroke-width="1.00"/>
<rect x="138.85" y="377.45" width="8.30" height="7.95" fill="#3e2a94" stroke="none" stroke-width="1.00"/>
<rect x="148.45" y="377.45" width="8.30" height="7.95" fill="#3e2a94" stroke="none" stroke-width="1.00"/>
<rect x="158.05" y="377.45" width="8.30" height="7.95" fill="#6a5cb8" stroke="none" stroke-width="1.00"/>
<rect x="167.65" y="377.45" width="8.30" height="7.95" fill="#d2d4f0" stroke="none" stroke-width="1.00"/>
<rect x="177.25" y="377.45" width="8.30" height="7.95" fill="#dc2a24" stroke="none" stroke-width="1.00"/>
<rect x="186.85" y="377.45" width="8.30" height="7.95" fill="#dc2a24" stroke="none" stroke-width="1.00"/>
<rect x="138.85" y="386.70" width="8.30" height="7.95" fill="#d2d4f0" stroke="none" stroke-width="1.00"/>
<rect x="148.45" y="386.70" width="8.30" height="7.95" fill="#3e2a94" stroke="none" stroke-width="1.00"/>
<rect x="158.05" y="386.70" width="8.30" height="7.95" fill="#6a5cb8" stroke="none" stroke-width="1.00"/>
<rect x="167.65" y="386.70" width="8.30" height="7.95" fill="#e25252" stroke="none" stroke-width="1.00"/>
<rect x="177.25" y="386.70" width="8.30" height="7.95" fill="#dc2a24" stroke="none" stroke-width="1.00"/>
<rect x="186.85" y="386.70" width="8.30" height="7.95" fill="#ec8a8a" stroke="none" stroke-width="1.00"/>
<rect x="138.85" y="395.95" width="8.30" height="7.95" fill="#3e2a94" stroke="none" stroke-width="1.00"/>
<rect x="148.45" y="395.95" width="8.30" height="7.95" fill="#3e2a94" stroke="none" stroke-width="1.00"/>
<rect x="158.05" y="395.95" width="8.30" height="7.95" fill="#6a5cb8" stroke="none" stroke-width="1.00"/>
<rect x="167.65" y="395.95" width="8.30" height="7.95" fill="#ec8a8a" stroke="none" stroke-width="1.00"/>
<rect x="177.25" y="395.95" width="8.30" height="7.95" fill="#dc2a24" stroke="none" stroke-width="1.00"/>
<rect x="186.85" y="395.95" width="8.30" height="7.95" fill="#ec8a8a" stroke="none" stroke-width="1.00"/>
<rect x="138.85" y="405.20" width="8.30" height="7.95" fill="#8c8cd4" stroke="none" stroke-width="1.00"/>
<rect x="148.45" y="405.20" width="8.30" height="7.95" fill="#3e2a94" stroke="none" stroke-width="1.00"/>
<rect x="158.05" y="405.20" width="8.30" height="7.95" fill="#8c8cd4" stroke="none" stroke-width="1.00"/>
<rect x="167.65" y="405.20" width="8.30" height="7.95" fill="#ec8a8a" stroke="none" stroke-width="1.00"/>
<rect x="177.25" y="405.20" width="8.30" height="7.95" fill="#dc2a24" stroke="none" stroke-width="1.00"/>
<rect x="186.85" y="405.20" width="8.30" height="7.95" fill="#dc2a24" stroke="none" stroke-width="1.00"/>
<rect x="138.85" y="414.45" width="8.30" height="7.95" fill="#d2d4f0" stroke="none" stroke-width="1.00"/>
<rect x="148.45" y="414.45" width="8.30" height="7.95" fill="#3e2a94" stroke="none" stroke-width="1.00"/>
<rect x="158.05" y="414.45" width="8.30" height="7.95" fill="#3e2a94" stroke="none" stroke-width="1.00"/>
<rect x="167.65" y="414.45" width="8.30" height="7.95" fill="#ec8a8a" stroke="none" stroke-width="1.00"/>
<rect x="177.25" y="414.45" width="8.30" height="7.95" fill="#dc2a24" stroke="none" stroke-width="1.00"/>
<rect x="186.85" y="414.45" width="8.30" height="7.95" fill="#ec8a8a" stroke="none" stroke-width="1.00"/>
<rect x="138.85" y="423.70" width="8.30" height="7.95" fill="#3e2a94" stroke="none" stroke-width="1.00"/>
<rect x="148.45" y="423.70" width="8.30" height="7.95" fill="#3e2a94" stroke="none" stroke-width="1.00"/>
<rect x="158.05" y="423.70" width="8.30" height="7.95" fill="#d2d4f0" stroke="none" stroke-width="1.00"/>
<rect x="167.65" y="423.70" width="8.30" height="7.95" fill="#ec8a8a" stroke="none" stroke-width="1.00"/>
<rect x="177.25" y="423.70" width="8.30" height="7.95" fill="#dc2a24" stroke="none" stroke-width="1.00"/>
<rect x="186.85" y="423.70" width="8.30" height="7.95" fill="#ec8a8a" stroke="none" stroke-width="1.00"/>
<rect x="138.85" y="432.95" width="8.30" height="7.95" fill="#3e2a94" stroke="none" stroke-width="1.00"/>
<rect x="148.45" y="432.95" width="8.30" height="7.95" fill="#3e2a94" stroke="none" stroke-width="1.00"/>
<rect x="158.05" y="432.95" width="8.30" height="7.95" fill="#8c8cd4" stroke="none" stroke-width="1.00"/>
<rect x="167.65" y="432.95" width="8.30" height="7.95" fill="#dc2a24" stroke="none" stroke-width="1.00"/>
<rect x="177.25" y="432.95" width="8.30" height="7.95" fill="#f2cade" stroke="none" stroke-width="1.00"/>
<rect x="186.85" y="432.95" width="8.30" height="7.95" fill="#dc2a24" stroke="none" stroke-width="1.00"/>
<rect x="138.85" y="442.20" width="8.30" height="7.95" fill="#3e2a94" stroke="none" stroke-width="1.00"/>
<rect x="148.45" y="442.20" width="8.30" height="7.95" fill="#3e2a94" stroke="none" stroke-width="1.00"/>
<rect x="158.05" y="442.20" width="8.30" height="7.95" fill="#6a5cb8" stroke="none" stroke-width="1.00"/>
<rect x="167.65" y="442.20" width="8.30" height="7.95" fill="#dc2a24" stroke="none" stroke-width="1.00"/>
<rect x="177.25" y="442.20" width="8.30" height="7.95" fill="#ec8a8a" stroke="none" stroke-width="1.00"/>
<rect x="186.85" y="442.20" width="8.30" height="7.95" fill="#ec8a8a" stroke="none" stroke-width="1.00"/>
<rect x="138.85" y="451.45" width="8.30" height="7.95" fill="#3e2a94" stroke="none" stroke-width="1.00"/>
<rect x="148.45" y="451.45" width="8.30" height="7.95" fill="#8c8cd4" stroke="none" stroke-width="1.00"/>
<rect x="158.05" y="451.45" width="8.30" height="7.95" fill="#3e2a94" stroke="none" stroke-width="1.00"/>
<rect x="167.65" y="451.45" width="8.30" height="7.95" fill="#dc2a24" stroke="none" stroke-width="1.00"/>
<rect x="177.25" y="451.45" width="8.30" height="7.95" fill="#e25252" stroke="none" stroke-width="1.00"/>
<rect x="186.85" y="451.45" width="8.30" height="7.95" fill="#e25252" stroke="none" stroke-width="1.00"/>
<rect x="138.85" y="460.70" width="8.30" height="7.95" fill="#3e2a94" stroke="none" stroke-width="1.00"/>
<rect x="148.45" y="460.70" width="8.30" height="7.95" fill="#3e2a94" stroke="none" stroke-width="1.00"/>
<rect x="158.05" y="460.70" width="8.30" height="7.95" fill="#3e2a94" stroke="none" stroke-width="1.00"/>
<rect x="167.65" y="460.70" width="8.30" height="7.95" fill="#dc2a24" stroke="none" stroke-width="1.00"/>
<rect x="177.25" y="460.70" width="8.30" height="7.95" fill="#f2cade" stroke="none" stroke-width="1.00"/>
<rect x="186.85" y="460.70" width="8.30" height="7.95" fill="#f2cade" stroke="none" stroke-width="1.00"/>
<rect x="138.85" y="469.95" width="8.30" height="7.95" fill="#d2d4f0" stroke="none" stroke-width="1.00"/>
<rect x="148.45" y="469.95" width="8.30" height="7.95" fill="#6a5cb8" stroke="none" stroke-width="1.00"/>
<rect x="158.05" y="469.95" width="8.30" height="7.95" fill="#3e2a94" stroke="none" stroke-width="1.00"/>
<rect x="167.65" y="469.95" width="8.30" height="7.95" fill="#dc2a24" stroke="none" stroke-width="1.00"/>
<rect x="177.25" y="469.95" width="8.30" height="7.95" fill="#e25252" stroke="none" stroke-width="1.00"/>
<rect x="186.85" y="469.95" width="8.30" height="7.95" fill="#f2cade" stroke="none" stroke-width="1.00"/>
<rect x="138.85" y="479.20" width="8.30" height="7.95" fill="#8c8cd4" stroke="none" stroke-width="1.00"/>
<rect x="148.45" y="479.20" width="8.30" height="7.95" fill="#6a5cb8" stroke="none" stroke-width="1.00"/>
<rect x="158.05" y="479.20" width="8.30" height="7.95" fill="#3e2a94" stroke="none" stroke-width="1.00"/>
<rect x="167.65" y="479.20" width="8.30" height="7.95" fill="#e25252" stroke="none" stroke-width="1.00"/>
<rect x="177.25" y="479.20" width="8.30" height="7.95" fill="#ec8a8a" stroke="none" stroke-width="1.00"/>
<rect x="186.85" y="479.20" width="8.30" height="7.95" fill="#dc2a24" stroke="none" stroke-width="1.00"/>
<rect x="138.85" y="488.45" width="8.30" height="7.95" fill="#3e2a94" stroke="none" stroke-width="1.00"/>
<rect x="148.45" y="488.45" width="8.30" height="7.95" fill="#3e2a94" stroke="none" stroke-width="1.00"/>
<rect x="158.05" y="488.45" width="8.30" height="7.95" fill="#d2d4f0" stroke="none" stroke-width="1.00"/>
<rect x="167.65" y="488.45" width="8.30" height="7.95" fill="#f2cade" stroke="none" stroke-width="1.00"/>
<rect x="177.25" y="488.45" width="8.30" height="7.95" fill="#e25252" stroke="none" stroke-width="1.00"/>
<rect x="186.85" y="488.45" width="8.30" height="7.95" fill="#dc2a24" stroke="none" stroke-width="1.00"/>
<text x="199.20" y="273.23" font-size="7.80" font-style="italic" fill="#1a1a1a" stroke="#1a1a1a" stroke-width="0.22">Jrk</text>
<text x="199.20" y="282.48" font-size="7.80" font-style="italic" fill="#1a1a1a" stroke="#1a1a1a" stroke-width="0.22">Gmnn</text>
<text x="199.20" y="291.73" font-size="7.80" font-style="italic" fill="#1a1a1a" stroke="#1a1a1a" stroke-width="0.22">Zdhhc15</text>
<text x="199.20" y="300.98" font-size="7.80" font-style="italic" fill="#1a1a1a" stroke="#1a1a1a" stroke-width="0.22">Lipg</text>
<text x="199.20" y="310.23" font-size="7.80" font-style="italic" fill="#1a1a1a" stroke="#1a1a1a" stroke-width="0.22">Mocs3</text>
<text x="199.20" y="319.48" font-size="7.80" font-style="italic" fill="#1a1a1a" stroke="#1a1a1a" stroke-width="0.22">Mbd4</text>
<text x="199.20" y="328.73" font-size="7.80" font-style="italic" fill="#1a1a1a" stroke="#1a1a1a" stroke-width="0.22">Fahd1</text>
<text x="199.20" y="337.98" font-size="7.80" font-style="italic" fill="#1a1a1a" stroke="#1a1a1a" stroke-width="0.22">Grin3a</text>
<text x="199.20" y="347.23" font-size="7.80" font-style="italic" fill="#1a1a1a" stroke="#1a1a1a" stroke-width="0.22">Ctrl</text>
<text x="199.20" y="356.48" font-size="7.80" font-style="italic" fill="#1a1a1a" stroke="#1a1a1a" stroke-width="0.22">Alg12</text>
<text x="199.20" y="365.73" font-size="7.80" font-style="italic" fill="#1a1a1a" stroke="#1a1a1a" stroke-width="0.22">Thoc3</text>
<text x="199.20" y="374.98" font-size="7.80" font-style="italic" fill="#1a1a1a" stroke="#1a1a1a" stroke-width="0.22">Timm22</text>
<text x="199.20" y="384.23" font-size="7.80" font-style="italic" fill="#1a1a1a" stroke="#1a1a1a" stroke-width="0.22">Il1rl1</text>
<text x="199.20" y="393.48" font-size="7.80" font-style="italic" fill="#1a1a1a" stroke="#1a1a1a" stroke-width="0.22">Map2k5</text>
<text x="199.20" y="402.73" font-size="7.80" font-style="italic" fill="#1a1a1a" stroke="#1a1a1a" stroke-width="0.22">Tex14</text>
<text x="199.20" y="411.98" font-size="7.80" font-style="italic" fill="#1a1a1a" stroke="#1a1a1a" stroke-width="0.22">Ndufb3</text>
<text x="199.20" y="421.23" font-size="7.80" font-style="italic" fill="#1a1a1a" stroke="#1a1a1a" stroke-width="0.22">Ier3ip1</text>
<text x="199.20" y="430.48" font-size="7.80" font-style="italic" fill="#1a1a1a" stroke="#1a1a1a" stroke-width="0.22">Cdk5rap3</text>
<text x="199.20" y="439.73" font-size="7.80" font-style="italic" fill="#1a1a1a" stroke="#1a1a1a" stroke-width="0.22">Psenen</text>
<text x="199.20" y="448.98" font-size="7.80" font-style="italic" fill="#1a1a1a" stroke="#1a1a1a" stroke-width="0.22">Sec61b</text>
<text x="199.20" y="458.23" font-size="7.80" font-style="italic" fill="#1a1a1a" stroke="#1a1a1a" stroke-width="0.22">Dctn3</text>
<text x="199.20" y="467.48" font-size="7.80" font-style="italic" fill="#1a1a1a" stroke="#1a1a1a" stroke-width="0.22">Atp1b1</text>
<text x="199.20" y="476.73" font-size="7.80" font-style="italic" fill="#1a1a1a" stroke="#1a1a1a" stroke-width="0.22">Ppp1r8</text>
<text x="199.20" y="485.98" font-size="7.80" font-style="italic" fill="#1a1a1a" stroke="#1a1a1a" stroke-width="0.22">Mpg</text>
<text x="199.20" y="495.23" font-size="7.80" font-style="italic" fill="#1a1a1a" stroke="#1a1a1a" stroke-width="0.22">Mpped2</text>
<text x="144.70" y="262.60" font-size="7.80" font-style="italic" fill="#1a1a1a" transform="rotate(-90 144.7 262.6)" stroke="#1a1a1a" stroke-width="0.18">Sipa1<tspan font-size="5.46" dy="-2.81">&#8211;/&#8211;</tspan></text>
<text x="154.30" y="262.60" font-size="7.80" font-style="italic" fill="#1a1a1a" transform="rotate(-90 154.3 262.6)" stroke="#1a1a1a" stroke-width="0.18">Sipa1<tspan font-size="5.46" dy="-2.81">&#8211;/&#8211;</tspan></text>
<text x="163.90" y="262.60" font-size="7.80" font-style="italic" fill="#1a1a1a" transform="rotate(-90 163.9 262.6)" stroke="#1a1a1a" stroke-width="0.18">Sipa1<tspan font-size="5.46" dy="-2.81">&#8211;/&#8211;</tspan></text>
<text x="173.50" y="262.60" font-size="7.80" font-style="italic" fill="#1a1a1a" transform="rotate(-90 173.5 262.6)" stroke="#1a1a1a" stroke-width="0.18">Sipa1<tspan font-size="5.46" dy="-2.81">+/+</tspan></text>
<text x="183.10" y="262.60" font-size="7.80" font-style="italic" fill="#1a1a1a" transform="rotate(-90 183.1 262.6)" stroke="#1a1a1a" stroke-width="0.18">Sipa1<tspan font-size="5.46" dy="-2.81">+/+</tspan></text>
<text x="192.70" y="262.60" font-size="7.80" font-style="italic" fill="#1a1a1a" transform="rotate(-90 192.7 262.6)" stroke="#1a1a1a" stroke-width="0.18">Sipa1<tspan font-size="5.46" dy="-2.81">+/+</tspan></text>
<rect x="89.00" y="302.60" width="25.40" height="10.10" fill="none" stroke="#a02848" stroke-width="1.00"/>
<line x1="361.50" y1="26.60" x2="361.50" y2="196.00" stroke="#000" stroke-width="1.25"/>
<polygon points="361.50,18.30 366.00,28.60 361.50,26.54 357.00,28.60" fill="#000"/>
<text x="353.90" y="112.00" font-size="8.20" text-anchor="middle" font-weight="bold" fill="#222" transform="rotate(-90 353.9 112)" textLength="101.0" lengthAdjust="spacingAndGlyphs">Fold change ( <tspan font-style="italic">Sipa1</tspan><tspan font-size="5.08" dy="-3.12">&#8211;/&#8211;</tspan><tspan dy="3.12"> / </tspan><tspan font-style="italic">Sipa1</tspan><tspan font-size="5.08" dy="-3.12">+/+</tspan><tspan dy="3.12">)</tspan></text>
<line x1="381.00" y1="30.00" x2="381.00" y2="83.90" stroke="#000" stroke-width="1.30"/>
<line x1="380.40" y1="83.30" x2="428.00" y2="83.30" stroke="#000" stroke-width="1.30"/>
<line x1="378.40" y1="33.00" x2="381.00" y2="33.00" stroke="#000" stroke-width="0.90"/>
<text x="375.40" y="35.80" font-size="7.80" text-anchor="end" fill="#222" stroke="#222" stroke-width="0.15">3</text>
<line x1="378.40" y1="49.70" x2="381.00" y2="49.70" stroke="#000" stroke-width="0.90"/>
<text x="375.40" y="52.50" font-size="7.80" text-anchor="end" fill="#222" stroke="#222" stroke-width="0.15">2</text>
<line x1="378.40" y1="66.40" x2="381.00" y2="66.40" stroke="#000" stroke-width="0.90"/>
<text x="375.40" y="69.20" font-size="7.80" text-anchor="end" fill="#222" stroke="#222" stroke-width="0.15">1</text>
<line x1="378.40" y1="83.30" x2="381.00" y2="83.30" stroke="#000" stroke-width="0.90"/>
<line x1="392.50" y1="83.30" x2="392.50" y2="85.70" stroke="#000" stroke-width="0.90"/>
<line x1="416.20" y1="83.30" x2="416.20" y2="85.70" stroke="#000" stroke-width="0.90"/>
<text x="404.50" y="23.80" font-size="9.60" text-anchor="middle" font-style="italic" fill="#1a1a1a" stroke="#1a1a1a" stroke-width="0.15">Cxcl12</text>
<text x="386.70" y="36.90" font-size="7.90" fill="#82385a"><tspan font-style="italic">P</tspan> = .0476</text>
<line x1="385.10" y1="66.40" x2="400.80" y2="66.40" stroke="#1a1a2a" stroke-width="1.00"/>
<circle cx="386.60" cy="66.40" r="1.45" fill="#2a3e62" stroke="#0e1628" stroke-width="0.60"/>
<circle cx="389.78" cy="66.40" r="1.45" fill="#2a3e62" stroke="#0e1628" stroke-width="0.60"/>
<circle cx="392.95" cy="66.40" r="1.45" fill="#2a3e62" stroke="#0e1628" stroke-width="0.60"/>
<circle cx="396.12" cy="66.40" r="1.45" fill="#2a3e62" stroke="#0e1628" stroke-width="0.60"/>
<circle cx="399.30" cy="66.40" r="1.45" fill="#2a3e62" stroke="#0e1628" stroke-width="0.60"/>
<circle cx="415.90" cy="42.20" r="1.70" fill="#7e1236" stroke="none" stroke-width="0.60"/>
<circle cx="413.90" cy="69.10" r="1.70" fill="#7e1236" stroke="none" stroke-width="0.60"/>
<circle cx="418.30" cy="72.60" r="1.70" fill="#7e1236" stroke="none" stroke-width="0.60"/>
<circle cx="418.30" cy="76.40" r="1.70" fill="#7e1236" stroke="none" stroke-width="0.60"/>
<circle cx="413.70" cy="79.10" r="1.70" fill="#7e1236" stroke="none" stroke-width="0.60"/>
<line x1="408.50" y1="72.60" x2="423.60" y2="72.60" stroke="#1a1a1a" stroke-width="1.10"/>
<text x="396.10" y="91.80" font-size="8.40" text-anchor="end" font-style="italic" fill="#222" transform="rotate(-48 396.1 91.8)" stroke="#222" stroke-width="0.12">Sipa1<tspan font-size="5.88" dy="-3.02">+/+</tspan></text>
<text x="419.80" y="91.80" font-size="8.40" text-anchor="end" font-style="italic" fill="#222" transform="rotate(-48 419.8 91.8)" stroke="#222" stroke-width="0.12">Sipa1<tspan font-size="5.88" dy="-3.02">&#8211;/&#8211;</tspan></text>
<line x1="454.60" y1="30.80" x2="454.60" y2="83.90" stroke="#000" stroke-width="1.30"/>
<line x1="454.00" y1="83.30" x2="499.80" y2="83.30" stroke="#000" stroke-width="1.30"/>
<line x1="452.00" y1="34.20" x2="454.60" y2="34.20" stroke="#000" stroke-width="0.90"/>
<text x="449.00" y="37.00" font-size="7.80" text-anchor="end" fill="#222" stroke="#222" stroke-width="0.15">1.5</text>
<line x1="452.00" y1="50.60" x2="454.60" y2="50.60" stroke="#000" stroke-width="0.90"/>
<text x="449.00" y="53.40" font-size="7.80" text-anchor="end" fill="#222" stroke="#222" stroke-width="0.15">1.0</text>
<line x1="452.00" y1="67.00" x2="454.60" y2="67.00" stroke="#000" stroke-width="0.90"/>
<text x="449.00" y="69.80" font-size="7.80" text-anchor="end" fill="#222" stroke="#222" stroke-width="0.15">0.5</text>
<line x1="452.00" y1="83.30" x2="454.60" y2="83.30" stroke="#000" stroke-width="0.90"/>
<text x="449.00" y="86.10" font-size="7.80" text-anchor="end" fill="#222" stroke="#222" stroke-width="0.15">0.0</text>
<line x1="466.00" y1="83.30" x2="466.00" y2="85.70" stroke="#000" stroke-width="0.90"/>
<line x1="489.60" y1="83.30" x2="489.60" y2="85.70" stroke="#000" stroke-width="0.90"/>
<text x="477.20" y="23.80" font-size="9.60" text-anchor="middle" font-style="italic" fill="#1a1a1a" stroke="#1a1a1a" stroke-width="0.15">Kitl</text>
<text x="460.80" y="36.90" font-size="7.90" fill="#82385a"><tspan font-style="italic">P</tspan> = .0121</text>
<line x1="459.50" y1="50.60" x2="472.10" y2="50.60" stroke="#1a1a2a" stroke-width="1.00"/>
<circle cx="461.00" cy="50.60" r="1.45" fill="#2a3e62" stroke="#0e1628" stroke-width="0.60"/>
<circle cx="465.80" cy="50.60" r="1.45" fill="#2a3e62" stroke="#0e1628" stroke-width="0.60"/>
<circle cx="470.60" cy="50.60" r="1.45" fill="#2a3e62" stroke="#0e1628" stroke-width="0.60"/>
<circle cx="489.60" cy="60.20" r="1.70" fill="#7e1236" stroke="none" stroke-width="0.60"/>
<circle cx="487.30" cy="72.70" r="1.70" fill="#7e1236" stroke="none" stroke-width="0.60"/>
<circle cx="491.70" cy="72.70" r="1.70" fill="#7e1236" stroke="none" stroke-width="0.60"/>
<line x1="481.50" y1="72.70" x2="498.00" y2="72.70" stroke="#1a1a1a" stroke-width="1.10"/>
<text x="469.60" y="91.80" font-size="8.40" text-anchor="end" font-style="italic" fill="#222" transform="rotate(-48 469.6 91.8)" stroke="#222" stroke-width="0.12">Sipa1<tspan font-size="5.88" dy="-3.02">+/+</tspan></text>
<text x="493.20" y="91.80" font-size="8.40" text-anchor="end" font-style="italic" fill="#222" transform="rotate(-48 493.2 91.8)" stroke="#222" stroke-width="0.12">Sipa1<tspan font-size="5.88" dy="-3.02">&#8211;/&#8211;</tspan></text>
<line x1="381.00" y1="132.00" x2="381.00" y2="187.60" stroke="#000" stroke-width="1.30"/>
<line x1="380.40" y1="187.00" x2="425.80" y2="187.00" stroke="#000" stroke-width="1.30"/>
<line x1="378.40" y1="135.80" x2="381.00" y2="135.80" stroke="#000" stroke-width="0.90"/>
<text x="375.40" y="138.60" font-size="7.80" text-anchor="end" fill="#222" stroke="#222" stroke-width="0.15">1.5</text>
<line x1="378.40" y1="152.70" x2="381.00" y2="152.70" stroke="#000" stroke-width="0.90"/>
<text x="375.40" y="155.50" font-size="7.80" text-anchor="end" fill="#222" stroke="#222" stroke-width="0.15">1.0</text>
<line x1="378.40" y1="169.60" x2="381.00" y2="169.60" stroke="#000" stroke-width="0.90"/>
<text x="375.40" y="172.40" font-size="7.80" text-anchor="end" fill="#222" stroke="#222" stroke-width="0.15">0.5</text>
<line x1="378.40" y1="187.00" x2="381.00" y2="187.00" stroke="#000" stroke-width="0.90"/>
<text x="375.40" y="189.80" font-size="7.80" text-anchor="end" fill="#222" stroke="#222" stroke-width="0.15">0.0</text>
<line x1="392.50" y1="187.00" x2="392.50" y2="189.40" stroke="#000" stroke-width="0.90"/>
<line x1="416.00" y1="187.00" x2="416.00" y2="189.40" stroke="#000" stroke-width="0.90"/>
<text x="403.50" y="129.60" font-size="9.60" text-anchor="middle" font-style="italic" fill="#1a1a1a" stroke="#1a1a1a" stroke-width="0.15">Angptl1</text>
<text x="386.70" y="142.20" font-size="7.90" fill="#82385a"><tspan font-style="italic">P</tspan> = .0206</text>
<line x1="386.00" y1="152.70" x2="400.00" y2="152.70" stroke="#1a1a2a" stroke-width="1.00"/>
<circle cx="387.50" cy="152.70" r="1.45" fill="#2a3e62" stroke="#0e1628" stroke-width="0.60"/>
<circle cx="393.00" cy="152.70" r="1.45" fill="#2a3e62" stroke="#0e1628" stroke-width="0.60"/>
<circle cx="398.50" cy="152.70" r="1.45" fill="#2a3e62" stroke="#0e1628" stroke-width="0.60"/>
<circle cx="416.00" cy="158.80" r="1.70" fill="#7e1236" stroke="none" stroke-width="0.60"/>
<circle cx="416.00" cy="164.00" r="1.70" fill="#7e1236" stroke="none" stroke-width="0.60"/>
<circle cx="416.00" cy="169.40" r="1.70" fill="#7e1236" stroke="none" stroke-width="0.60"/>
<line x1="408.50" y1="164.00" x2="424.00" y2="164.00" stroke="#1a1a1a" stroke-width="1.10"/>
<text x="396.10" y="195.50" font-size="8.40" text-anchor="end" font-style="italic" fill="#222" transform="rotate(-48 396.1 195.5)" stroke="#222" stroke-width="0.12">Sipa1<tspan font-size="5.88" dy="-3.02">+/+</tspan></text>
<text x="419.60" y="195.50" font-size="8.40" text-anchor="end" font-style="italic" fill="#222" transform="rotate(-48 419.6 195.5)" stroke="#222" stroke-width="0.12">Sipa1<tspan font-size="5.88" dy="-3.02">&#8211;/&#8211;</tspan></text>
<line x1="454.60" y1="133.70" x2="454.60" y2="188.60" stroke="#000" stroke-width="1.30"/>
<line x1="454.00" y1="188.00" x2="500.00" y2="188.00" stroke="#000" stroke-width="1.30"/>
<line x1="452.00" y1="136.50" x2="454.60" y2="136.50" stroke="#000" stroke-width="0.90"/>
<text x="449.00" y="139.30" font-size="7.80" text-anchor="end" fill="#222" stroke="#222" stroke-width="0.15">1.5</text>
<line x1="452.00" y1="153.30" x2="454.60" y2="153.30" stroke="#000" stroke-width="0.90"/>
<text x="449.00" y="156.10" font-size="7.80" text-anchor="end" fill="#222" stroke="#222" stroke-width="0.15">1.0</text>
<line x1="452.00" y1="170.30" x2="454.60" y2="170.30" stroke="#000" stroke-width="0.90"/>
<text x="449.00" y="173.10" font-size="7.80" text-anchor="end" fill="#222" stroke="#222" stroke-width="0.15">0.5</text>
<line x1="452.00" y1="188.00" x2="454.60" y2="188.00" stroke="#000" stroke-width="0.90"/>
<text x="449.00" y="190.80" font-size="7.80" text-anchor="end" fill="#222" stroke="#222" stroke-width="0.15">0.0</text>
<line x1="466.00" y1="188.00" x2="466.00" y2="190.40" stroke="#000" stroke-width="0.90"/>
<line x1="489.60" y1="188.00" x2="489.60" y2="190.40" stroke="#000" stroke-width="0.90"/>
<text x="477.70" y="129.00" font-size="9.60" text-anchor="middle" font-style="italic" fill="#1a1a1a" stroke="#1a1a1a" stroke-width="0.15">Runx2</text>
<text x="460.00" y="142.40" font-size="7.90" fill="#82385a"><tspan font-style="italic">P</tspan> = .0012</text>
<line x1="459.30" y1="153.30" x2="473.50" y2="153.30" stroke="#1a1a2a" stroke-width="1.00"/>
<circle cx="460.80" cy="153.30" r="1.45" fill="#2a3e62" stroke="#0e1628" stroke-width="0.60"/>
<circle cx="463.60" cy="153.30" r="1.45" fill="#2a3e62" stroke="#0e1628" stroke-width="0.60"/>
<circle cx="466.40" cy="153.30" r="1.45" fill="#2a3e62" stroke="#0e1628" stroke-width="0.60"/>
<circle cx="469.20" cy="153.30" r="1.45" fill="#2a3e62" stroke="#0e1628" stroke-width="0.60"/>
<circle cx="472.00" cy="153.30" r="1.45" fill="#2a3e62" stroke="#0e1628" stroke-width="0.60"/>
<circle cx="489.60" cy="158.30" r="1.70" fill="#7e1236" stroke="none" stroke-width="0.60"/>
<circle cx="488.80" cy="163.00" r="1.70" fill="#7e1236" stroke="none" stroke-width="0.60"/>
<circle cx="487.00" cy="165.80" r="1.70" fill="#7e1236" stroke="none" stroke-width="0.60"/>
<circle cx="492.00" cy="168.80" r="1.70" fill="#7e1236" stroke="none" stroke-width="0.60"/>
<circle cx="489.00" cy="174.00" r="1.70" fill="#7e1236" stroke="none" stroke-width="0.60"/>
<line x1="481.50" y1="165.80" x2="498.00" y2="165.80" stroke="#1a1a1a" stroke-width="1.10"/>
<text x="469.60" y="196.50" font-size="8.40" text-anchor="end" font-style="italic" fill="#222" transform="rotate(-48 469.6 196.5)" stroke="#222" stroke-width="0.12">Sipa1<tspan font-size="5.88" dy="-3.02">+/+</tspan></text>
<text x="493.20" y="196.50" font-size="8.40" text-anchor="end" font-style="italic" fill="#222" transform="rotate(-48 493.2 196.5)" stroke="#222" stroke-width="0.12">Sipa1<tspan font-size="5.88" dy="-3.02">&#8211;/&#8211;</tspan></text>
<line x1="290.50" y1="260.00" x2="290.50" y2="441.70" stroke="#000" stroke-width="1.25"/>
<polygon points="290.50,251.30 294.90,262.00 290.50,259.86 286.10,262.00" fill="#000"/>
<text x="283.10" y="345.80" font-size="8.20" text-anchor="middle" font-weight="bold" fill="#222" transform="rotate(-90 283.1 345.8)" textLength="103.0" lengthAdjust="spacingAndGlyphs">Fold change ( <tspan font-style="italic">Sipa1</tspan><tspan font-size="5.08" dy="-3.12">&#8211;/&#8211;</tspan><tspan dy="3.12"> / </tspan><tspan font-style="italic">Sipa1</tspan><tspan font-size="5.08" dy="-3.12">+/+</tspan><tspan dy="3.12">)</tspan></text>
<line x1="310.80" y1="264.40" x2="310.80" y2="323.60" stroke="#000" stroke-width="1.30"/>
<line x1="310.20" y1="323.00" x2="354.00" y2="323.00" stroke="#000" stroke-width="1.30"/>
<line x1="308.20" y1="267.00" x2="310.80" y2="267.00" stroke="#000" stroke-width="0.90"/>
<text x="305.20" y="269.80" font-size="7.80" text-anchor="end" fill="#222" stroke="#222" stroke-width="0.15">2.0</text>
<line x1="308.20" y1="281.20" x2="310.80" y2="281.20" stroke="#000" stroke-width="0.90"/>
<text x="305.20" y="284.00" font-size="7.80" text-anchor="end" fill="#222" stroke="#222" stroke-width="0.15">1.5</text>
<line x1="308.20" y1="295.20" x2="310.80" y2="295.20" stroke="#000" stroke-width="0.90"/>
<text x="305.20" y="298.00" font-size="7.80" text-anchor="end" fill="#222" stroke="#222" stroke-width="0.15">1.0</text>
<line x1="308.20" y1="309.10" x2="310.80" y2="309.10" stroke="#000" stroke-width="0.90"/>
<text x="305.20" y="311.90" font-size="7.80" text-anchor="end" fill="#222" stroke="#222" stroke-width="0.15">0.5</text>
<line x1="308.20" y1="323.00" x2="310.80" y2="323.00" stroke="#000" stroke-width="0.90"/>
<text x="305.20" y="325.80" font-size="7.80" text-anchor="end" fill="#222" stroke="#222" stroke-width="0.15">0.0</text>
<line x1="322.00" y1="323.00" x2="322.00" y2="325.40" stroke="#000" stroke-width="0.90"/>
<line x1="344.40" y1="323.00" x2="344.40" y2="325.40" stroke="#000" stroke-width="0.90"/>
<text x="333.50" y="257.00" font-size="9.60" text-anchor="middle" font-style="italic" fill="#1a1a1a" stroke="#1a1a1a" stroke-width="0.15">Cxcl12</text>
<text x="317.00" y="270.30" font-size="7.90" fill="#82385a"><tspan font-style="italic">P</tspan> = .0084</text>
<line x1="314.10" y1="295.20" x2="329.70" y2="295.20" stroke="#1a1a2a" stroke-width="1.00"/>
<circle cx="315.60" cy="295.20" r="1.45" fill="#2a3e62" stroke="#0e1628" stroke-width="0.60"/>
<circle cx="317.40" cy="295.20" r="1.45" fill="#2a3e62" stroke="#0e1628" stroke-width="0.60"/>
<circle cx="319.20" cy="295.20" r="1.45" fill="#2a3e62" stroke="#0e1628" stroke-width="0.60"/>
<circle cx="321.00" cy="295.20" r="1.45" fill="#2a3e62" stroke="#0e1628" stroke-width="0.60"/>
<circle cx="322.80" cy="295.20" r="1.45" fill="#2a3e62" stroke="#0e1628" stroke-width="0.60"/>
<circle cx="324.60" cy="295.20" r="1.45" fill="#2a3e62" stroke="#0e1628" stroke-width="0.60"/>
<circle cx="326.40" cy="295.20" r="1.45" fill="#2a3e62" stroke="#0e1628" stroke-width="0.60"/>
<circle cx="328.20" cy="295.20" r="1.45" fill="#2a3e62" stroke="#0e1628" stroke-width="0.60"/>
<circle cx="344.00" cy="281.30" r="1.70" fill="#7e1236" stroke="none" stroke-width="0.60"/>
<circle cx="341.50" cy="299.60" r="1.70" fill="#7e1236" stroke="none" stroke-width="0.60"/>
<circle cx="346.50" cy="298.00" r="1.70" fill="#7e1236" stroke="none" stroke-width="0.60"/>
<circle cx="344.00" cy="309.00" r="1.70" fill="#7e1236" stroke="none" stroke-width="0.60"/>
<circle cx="338.30" cy="313.00" r="1.70" fill="#7e1236" stroke="none" stroke-width="0.60"/>
<circle cx="341.50" cy="313.00" r="1.70" fill="#7e1236" stroke="none" stroke-width="0.60"/>
<circle cx="344.60" cy="313.00" r="1.70" fill="#7e1236" stroke="none" stroke-width="0.60"/>
<circle cx="348.00" cy="313.00" r="1.70" fill="#7e1236" stroke="none" stroke-width="0.60"/>
<line x1="337.30" y1="309.60" x2="351.70" y2="309.60" stroke="#1a1a1a" stroke-width="1.10"/>
<text x="325.60" y="331.50" font-size="8.40" text-anchor="end" font-style="italic" fill="#222" transform="rotate(-48 325.6 331.5)" stroke="#222" stroke-width="0.12">Sipa1<tspan font-size="5.88" dy="-3.02">+/+</tspan></text>
<text x="348.00" y="331.50" font-size="8.40" text-anchor="end" font-style="italic" fill="#222" transform="rotate(-48 348 331.5)" stroke="#222" stroke-width="0.12">Sipa1<tspan font-size="5.88" dy="-3.02">&#8211;/&#8211;</tspan></text>
<line x1="382.30" y1="264.60" x2="382.30" y2="323.20" stroke="#000" stroke-width="1.30"/>
<line x1="381.70" y1="322.60" x2="426.00" y2="322.60" stroke="#000" stroke-width="1.30"/>
<line x1="379.70" y1="267.70" x2="382.30" y2="267.70" stroke="#000" stroke-width="0.90"/>
<text x="376.70" y="270.50" font-size="7.80" text-anchor="end" fill="#222" stroke="#222" stroke-width="0.15">1.5</text>
<line x1="379.70" y1="285.80" x2="382.30" y2="285.80" stroke="#000" stroke-width="0.90"/>
<text x="376.70" y="288.60" font-size="7.80" text-anchor="end" fill="#222" stroke="#222" stroke-width="0.15">1.0</text>
<line x1="379.70" y1="304.20" x2="382.30" y2="304.20" stroke="#000" stroke-width="0.90"/>
<text x="376.70" y="307.00" font-size="7.80" text-anchor="end" fill="#222" stroke="#222" stroke-width="0.15">0.5</text>
<line x1="379.70" y1="322.60" x2="382.30" y2="322.60" stroke="#000" stroke-width="0.90"/>
<text x="376.70" y="325.40" font-size="7.80" text-anchor="end" fill="#222" stroke="#222" stroke-width="0.15">0.0</text>
<line x1="393.60" y1="322.60" x2="393.60" y2="325.00" stroke="#000" stroke-width="0.90"/>
<line x1="415.60" y1="322.60" x2="415.60" y2="325.00" stroke="#000" stroke-width="0.90"/>
<text x="404.20" y="257.00" font-size="9.60" text-anchor="middle" font-style="italic" fill="#1a1a1a" stroke="#1a1a1a" stroke-width="0.15">Kitl</text>
<text x="390.00" y="270.90" font-size="7.90" fill="#82385a"><tspan font-style="italic">P</tspan> = .0002</text>
<line x1="386.10" y1="285.80" x2="401.00" y2="285.80" stroke="#1a1a2a" stroke-width="1.00"/>
<circle cx="387.60" cy="285.80" r="1.45" fill="#2a3e62" stroke="#0e1628" stroke-width="0.60"/>
<circle cx="389.30" cy="285.80" r="1.45" fill="#2a3e62" stroke="#0e1628" stroke-width="0.60"/>
<circle cx="391.00" cy="285.80" r="1.45" fill="#2a3e62" stroke="#0e1628" stroke-width="0.60"/>
<circle cx="392.70" cy="285.80" r="1.45" fill="#2a3e62" stroke="#0e1628" stroke-width="0.60"/>
<circle cx="394.40" cy="285.80" r="1.45" fill="#2a3e62" stroke="#0e1628" stroke-width="0.60"/>
<circle cx="396.10" cy="285.80" r="1.45" fill="#2a3e62" stroke="#0e1628" stroke-width="0.60"/>
<circle cx="397.80" cy="285.80" r="1.45" fill="#2a3e62" stroke="#0e1628" stroke-width="0.60"/>
<circle cx="399.50" cy="285.80" r="1.45" fill="#2a3e62" stroke="#0e1628" stroke-width="0.60"/>
<circle cx="410.80" cy="290.00" r="1.70" fill="#7e1236" stroke="none" stroke-width="0.60"/>
<circle cx="415.00" cy="290.50" r="1.70" fill="#7e1236" stroke="none" stroke-width="0.60"/>
<circle cx="419.70" cy="289.50" r="1.70" fill="#7e1236" stroke="none" stroke-width="0.60"/>
<circle cx="415.40" cy="298.50" r="1.70" fill="#7e1236" stroke="none" stroke-width="0.60"/>
<circle cx="413.00" cy="301.50" r="1.70" fill="#7e1236" stroke="none" stroke-width="0.60"/>
<circle cx="417.70" cy="303.00" r="1.70" fill="#7e1236" stroke="none" stroke-width="0.60"/>
<circle cx="417.70" cy="307.70" r="1.70" fill="#7e1236" stroke="none" stroke-width="0.60"/>
<circle cx="413.50" cy="311.50" r="1.70" fill="#7e1236" stroke="none" stroke-width="0.60"/>
<line x1="408.00" y1="300.00" x2="423.00" y2="300.00" stroke="#1a1a1a" stroke-width="1.10"/>
<text x="397.20" y="331.10" font-size="8.40" text-anchor="end" font-style="italic" fill="#222" transform="rotate(-48 397.2 331.1)" stroke="#222" stroke-width="0.12">Sipa1<tspan font-size="5.88" dy="-3.02">+/+</tspan></text>
<text x="419.20" y="331.10" font-size="8.40" text-anchor="end" font-style="italic" fill="#222" transform="rotate(-48 419.2 331.1)" stroke="#222" stroke-width="0.12">Sipa1<tspan font-size="5.88" dy="-3.02">&#8211;/&#8211;</tspan></text>
<line x1="455.30" y1="265.00" x2="455.30" y2="323.40" stroke="#000" stroke-width="1.30"/>
<line x1="454.70" y1="322.80" x2="500.00" y2="322.80" stroke="#000" stroke-width="1.30"/>
<line x1="452.70" y1="268.00" x2="455.30" y2="268.00" stroke="#000" stroke-width="0.90"/>
<text x="449.70" y="270.80" font-size="7.80" text-anchor="end" fill="#222" stroke="#222" stroke-width="0.15">1.5</text>
<line x1="452.70" y1="286.00" x2="455.30" y2="286.00" stroke="#000" stroke-width="0.90"/>
<text x="449.70" y="288.80" font-size="7.80" text-anchor="end" fill="#222" stroke="#222" stroke-width="0.15">1.0</text>
<line x1="452.70" y1="304.40" x2="455.30" y2="304.40" stroke="#000" stroke-width="0.90"/>
<text x="449.70" y="307.20" font-size="7.80" text-anchor="end" fill="#222" stroke="#222" stroke-width="0.15">0.5</text>
<line x1="452.70" y1="322.80" x2="455.30" y2="322.80" stroke="#000" stroke-width="0.90"/>
<text x="449.70" y="325.60" font-size="7.80" text-anchor="end" fill="#222" stroke="#222" stroke-width="0.15">0.0</text>
<line x1="467.30" y1="322.80" x2="467.30" y2="325.20" stroke="#000" stroke-width="0.90"/>
<line x1="490.00" y1="322.80" x2="490.00" y2="325.20" stroke="#000" stroke-width="0.90"/>
<text x="478.30" y="257.00" font-size="9.60" text-anchor="middle" font-style="italic" fill="#1a1a1a" stroke="#1a1a1a" stroke-width="0.15">Angptl1</text>
<text x="460.40" y="270.90" font-size="7.90" fill="#82385a"><tspan font-style="italic">P</tspan> = .0058</text>
<line x1="459.50" y1="286.00" x2="475.10" y2="286.00" stroke="#1a1a2a" stroke-width="1.00"/>
<circle cx="461.00" cy="286.00" r="1.45" fill="#2a3e62" stroke="#0e1628" stroke-width="0.60"/>
<circle cx="462.80" cy="286.00" r="1.45" fill="#2a3e62" stroke="#0e1628" stroke-width="0.60"/>
<circle cx="464.60" cy="286.00" r="1.45" fill="#2a3e62" stroke="#0e1628" stroke-width="0.60"/>
<circle cx="466.40" cy="286.00" r="1.45" fill="#2a3e62" stroke="#0e1628" stroke-width="0.60"/>
<circle cx="468.20" cy="286.00" r="1.45" fill="#2a3e62" stroke="#0e1628" stroke-width="0.60"/>
<circle cx="470.00" cy="286.00" r="1.45" fill="#2a3e62" stroke="#0e1628" stroke-width="0.60"/>
<circle cx="471.80" cy="286.00" r="1.45" fill="#2a3e62" stroke="#0e1628" stroke-width="0.60"/>
<circle cx="473.60" cy="286.00" r="1.45" fill="#2a3e62" stroke="#0e1628" stroke-width="0.60"/>
<circle cx="490.00" cy="277.00" r="1.70" fill="#7e1236" stroke="none" stroke-width="0.60"/>
<circle cx="488.80" cy="293.80" r="1.70" fill="#7e1236" stroke="none" stroke-width="0.60"/>
<circle cx="487.80" cy="295.40" r="1.70" fill="#7e1236" stroke="none" stroke-width="0.60"/>
<circle cx="492.20" cy="299.20" r="1.70" fill="#7e1236" stroke="none" stroke-width="0.60"/>
<circle cx="487.80" cy="303.00" r="1.70" fill="#7e1236" stroke="none" stroke-width="0.60"/>
<circle cx="490.00" cy="309.20" r="1.70" fill="#7e1236" stroke="none" stroke-width="0.60"/>
<circle cx="490.00" cy="317.70" r="1.70" fill="#7e1236" stroke="none" stroke-width="0.60"/>
<line x1="482.40" y1="299.00" x2="497.30" y2="299.00" stroke="#1a1a1a" stroke-width="1.10"/>
<text x="470.90" y="331.30" font-size="8.40" text-anchor="end" font-style="italic" fill="#222" transform="rotate(-48 470.9 331.3)" stroke="#222" stroke-width="0.12">Sipa1<tspan font-size="5.88" dy="-3.02">+/+</tspan></text>
<text x="493.60" y="331.30" font-size="8.40" text-anchor="end" font-style="italic" fill="#222" transform="rotate(-48 493.6 331.3)" stroke="#222" stroke-width="0.12">Sipa1<tspan font-size="5.88" dy="-3.02">&#8211;/&#8211;</tspan></text>
<line x1="310.80" y1="378.30" x2="310.80" y2="438.50" stroke="#000" stroke-width="1.30"/>
<line x1="310.20" y1="437.90" x2="357.90" y2="437.90" stroke="#000" stroke-width="1.30"/>
<line x1="308.20" y1="380.20" x2="310.80" y2="380.20" stroke="#000" stroke-width="0.90"/>
<text x="305.20" y="383.00" font-size="7.80" text-anchor="end" fill="#222" stroke="#222" stroke-width="0.15">1.5</text>
<line x1="308.20" y1="399.80" x2="310.80" y2="399.80" stroke="#000" stroke-width="0.90"/>
<text x="305.20" y="402.60" font-size="7.80" text-anchor="end" fill="#222" stroke="#222" stroke-width="0.15">1.0</text>
<line x1="308.20" y1="418.90" x2="310.80" y2="418.90" stroke="#000" stroke-width="0.90"/>
<text x="305.20" y="421.70" font-size="7.80" text-anchor="end" fill="#222" stroke="#222" stroke-width="0.15">0.5</text>
<line x1="308.20" y1="437.90" x2="310.80" y2="437.90" stroke="#000" stroke-width="0.90"/>
<text x="305.20" y="440.70" font-size="7.80" text-anchor="end" fill="#222" stroke="#222" stroke-width="0.15">0.0</text>
<line x1="323.80" y1="437.90" x2="323.80" y2="440.30" stroke="#000" stroke-width="0.90"/>
<line x1="347.70" y1="437.90" x2="347.70" y2="440.30" stroke="#000" stroke-width="0.90"/>
<text x="334.30" y="369.40" font-size="9.60" text-anchor="middle" font-style="italic" fill="#1a1a1a" stroke="#1a1a1a" stroke-width="0.15">Il7</text>
<text x="315.60" y="383.60" font-size="7.90" fill="#82385a"><tspan font-style="italic">P</tspan> = .0211</text>
<line x1="316.10" y1="399.80" x2="330.50" y2="399.80" stroke="#1a1a2a" stroke-width="1.00"/>
<circle cx="317.60" cy="399.80" r="1.45" fill="#2a3e62" stroke="#0e1628" stroke-width="0.60"/>
<circle cx="321.40" cy="399.80" r="1.45" fill="#2a3e62" stroke="#0e1628" stroke-width="0.60"/>
<circle cx="325.20" cy="399.80" r="1.45" fill="#2a3e62" stroke="#0e1628" stroke-width="0.60"/>
<circle cx="329.00" cy="399.80" r="1.45" fill="#2a3e62" stroke="#0e1628" stroke-width="0.60"/>
<circle cx="348.30" cy="400.40" r="1.70" fill="#7e1236" stroke="none" stroke-width="0.60"/>
<circle cx="345.40" cy="414.80" r="1.70" fill="#7e1236" stroke="none" stroke-width="0.60"/>
<circle cx="350.80" cy="414.80" r="1.70" fill="#7e1236" stroke="none" stroke-width="0.60"/>
<circle cx="348.30" cy="421.50" r="1.70" fill="#7e1236" stroke="none" stroke-width="0.60"/>
<line x1="340.00" y1="414.80" x2="355.00" y2="414.80" stroke="#1a1a1a" stroke-width="1.10"/>
<text x="327.40" y="446.40" font-size="8.40" text-anchor="end" font-style="italic" fill="#222" transform="rotate(-48 327.4 446.4)" stroke="#222" stroke-width="0.12">Sipa1<tspan font-size="5.88" dy="-3.02">+/+</tspan></text>
<text x="351.30" y="446.40" font-size="8.40" text-anchor="end" font-style="italic" fill="#222" transform="rotate(-48 351.3 446.4)" stroke="#222" stroke-width="0.12">Sipa1<tspan font-size="5.88" dy="-3.02">&#8211;/&#8211;</tspan></text>
<line x1="382.30" y1="379.20" x2="382.30" y2="437.60" stroke="#000" stroke-width="1.30"/>
<line x1="381.70" y1="437.00" x2="428.00" y2="437.00" stroke="#000" stroke-width="1.30"/>
<line x1="379.70" y1="381.50" x2="382.30" y2="381.50" stroke="#000" stroke-width="0.90"/>
<text x="376.70" y="384.30" font-size="7.80" text-anchor="end" fill="#222" stroke="#222" stroke-width="0.15">3</text>
<line x1="379.70" y1="400.10" x2="382.30" y2="400.10" stroke="#000" stroke-width="0.90"/>
<text x="376.70" y="402.90" font-size="7.80" text-anchor="end" fill="#222" stroke="#222" stroke-width="0.15">2</text>
<line x1="379.70" y1="418.60" x2="382.30" y2="418.60" stroke="#000" stroke-width="0.90"/>
<text x="376.70" y="421.40" font-size="7.80" text-anchor="end" fill="#222" stroke="#222" stroke-width="0.15">1</text>
<line x1="379.70" y1="437.00" x2="382.30" y2="437.00" stroke="#000" stroke-width="0.90"/>
<text x="376.70" y="439.80" font-size="7.80" text-anchor="end" fill="#222" stroke="#222" stroke-width="0.15">0</text>
<line x1="394.00" y1="437.00" x2="394.00" y2="439.40" stroke="#000" stroke-width="0.90"/>
<line x1="417.70" y1="437.00" x2="417.70" y2="439.40" stroke="#000" stroke-width="0.90"/>
<text x="405.80" y="369.40" font-size="9.60" text-anchor="middle" font-style="italic" fill="#1a1a1a" stroke="#1a1a1a" stroke-width="0.15">Dicer1</text>
<text x="387.40" y="384.10" font-size="7.90" fill="#82385a"><tspan font-style="italic">P</tspan> = .0078</text>
<line x1="386.30" y1="418.60" x2="401.70" y2="418.60" stroke="#1a1a2a" stroke-width="1.00"/>
<circle cx="387.80" cy="418.60" r="1.45" fill="#2a3e62" stroke="#0e1628" stroke-width="0.60"/>
<circle cx="389.57" cy="418.60" r="1.45" fill="#2a3e62" stroke="#0e1628" stroke-width="0.60"/>
<circle cx="391.34" cy="418.60" r="1.45" fill="#2a3e62" stroke="#0e1628" stroke-width="0.60"/>
<circle cx="393.11" cy="418.60" r="1.45" fill="#2a3e62" stroke="#0e1628" stroke-width="0.60"/>
<circle cx="394.89" cy="418.60" r="1.45" fill="#2a3e62" stroke="#0e1628" stroke-width="0.60"/>
<circle cx="396.66" cy="418.60" r="1.45" fill="#2a3e62" stroke="#0e1628" stroke-width="0.60"/>
<circle cx="398.43" cy="418.60" r="1.45" fill="#2a3e62" stroke="#0e1628" stroke-width="0.60"/>
<circle cx="400.20" cy="418.60" r="1.45" fill="#2a3e62" stroke="#0e1628" stroke-width="0.60"/>
<circle cx="417.70" cy="402.80" r="1.70" fill="#7e1236" stroke="none" stroke-width="0.60"/>
<circle cx="417.70" cy="417.70" r="1.70" fill="#7e1236" stroke="none" stroke-width="0.60"/>
<circle cx="420.30" cy="421.20" r="1.70" fill="#7e1236" stroke="none" stroke-width="0.60"/>
<circle cx="415.70" cy="423.00" r="1.70" fill="#7e1236" stroke="none" stroke-width="0.60"/>
<circle cx="413.00" cy="425.40" r="1.70" fill="#7e1236" stroke="none" stroke-width="0.60"/>
<circle cx="419.20" cy="426.50" r="1.70" fill="#7e1236" stroke="none" stroke-width="0.60"/>
<circle cx="417.70" cy="430.00" r="1.70" fill="#7e1236" stroke="none" stroke-width="0.60"/>
<circle cx="417.70" cy="434.60" r="1.70" fill="#7e1236" stroke="none" stroke-width="0.60"/>
<line x1="410.50" y1="425.40" x2="425.40" y2="425.40" stroke="#1a1a1a" stroke-width="1.10"/>
<text x="397.60" y="445.50" font-size="8.40" text-anchor="end" font-style="italic" fill="#222" transform="rotate(-48 397.6 445.5)" stroke="#222" stroke-width="0.12">Sipa1<tspan font-size="5.88" dy="-3.02">+/+</tspan></text>
<text x="421.30" y="445.50" font-size="8.40" text-anchor="end" font-style="italic" fill="#222" transform="rotate(-48 421.3 445.5)" stroke="#222" stroke-width="0.12">Sipa1<tspan font-size="5.88" dy="-3.02">&#8211;/&#8211;</tspan></text>
<line x1="455.30" y1="380.00" x2="455.30" y2="437.60" stroke="#000" stroke-width="1.30"/>
<line x1="454.70" y1="437.00" x2="504.00" y2="437.00" stroke="#000" stroke-width="1.30"/>
<line x1="452.70" y1="382.80" x2="455.30" y2="382.80" stroke="#000" stroke-width="0.90"/>
<text x="449.70" y="385.60" font-size="7.80" text-anchor="end" fill="#222" stroke="#222" stroke-width="0.15">3</text>
<line x1="452.70" y1="401.00" x2="455.30" y2="401.00" stroke="#000" stroke-width="0.90"/>
<text x="449.70" y="403.80" font-size="7.80" text-anchor="end" fill="#222" stroke="#222" stroke-width="0.15">2</text>
<line x1="452.70" y1="419.20" x2="455.30" y2="419.20" stroke="#000" stroke-width="0.90"/>
<text x="449.70" y="422.00" font-size="7.80" text-anchor="end" fill="#222" stroke="#222" stroke-width="0.15">1</text>
<line x1="452.70" y1="437.00" x2="455.30" y2="437.00" stroke="#000" stroke-width="0.90"/>
<text x="449.70" y="439.80" font-size="7.80" text-anchor="end" fill="#222" stroke="#222" stroke-width="0.15">0</text>
<line x1="468.50" y1="437.00" x2="468.50" y2="439.40" stroke="#000" stroke-width="0.90"/>
<line x1="494.20" y1="437.00" x2="494.20" y2="439.40" stroke="#000" stroke-width="0.90"/>
<text x="478.90" y="369.40" font-size="9.60" text-anchor="middle" font-style="italic" fill="#1a1a1a" stroke="#1a1a1a" stroke-width="0.15">Runx2</text>
<text x="459.60" y="384.10" font-size="7.90" fill="#82385a"><tspan font-style="italic">P</tspan> = .0493</text>
<line x1="459.50" y1="419.20" x2="477.50" y2="419.20" stroke="#1a1a2a" stroke-width="1.00"/>
<circle cx="461.00" cy="419.20" r="1.45" fill="#2a3e62" stroke="#0e1628" stroke-width="0.60"/>
<circle cx="464.00" cy="419.20" r="1.45" fill="#2a3e62" stroke="#0e1628" stroke-width="0.60"/>
<circle cx="467.00" cy="419.20" r="1.45" fill="#2a3e62" stroke="#0e1628" stroke-width="0.60"/>
<circle cx="470.00" cy="419.20" r="1.45" fill="#2a3e62" stroke="#0e1628" stroke-width="0.60"/>
<circle cx="473.00" cy="419.20" r="1.45" fill="#2a3e62" stroke="#0e1628" stroke-width="0.60"/>
<circle cx="476.00" cy="419.20" r="1.45" fill="#2a3e62" stroke="#0e1628" stroke-width="0.60"/>
<circle cx="494.20" cy="395.00" r="1.70" fill="#7e1236" stroke="none" stroke-width="0.60"/>
<circle cx="494.20" cy="419.70" r="1.70" fill="#7e1236" stroke="none" stroke-width="0.60"/>
<circle cx="488.00" cy="424.30" r="1.70" fill="#7e1236" stroke="none" stroke-width="0.60"/>
<circle cx="494.20" cy="424.30" r="1.70" fill="#7e1236" stroke="none" stroke-width="0.60"/>
<circle cx="501.00" cy="424.30" r="1.70" fill="#7e1236" stroke="none" stroke-width="0.60"/>
<circle cx="494.20" cy="430.80" r="1.70" fill="#7e1236" stroke="none" stroke-width="0.60"/>
<line x1="485.00" y1="424.30" x2="502.70" y2="424.30" stroke="#1a1a1a" stroke-width="1.10"/>
<text x="472.10" y="445.50" font-size="8.40" text-anchor="end" font-style="italic" fill="#222" transform="rotate(-48 472.1 445.5)" stroke="#222" stroke-width="0.12">Sipa1<tspan font-size="5.88" dy="-3.02">+/+</tspan></text>
<text x="497.80" y="445.50" font-size="8.40" text-anchor="end" font-style="italic" fill="#222" transform="rotate(-48 497.8 445.5)" stroke="#222" stroke-width="0.12">Sipa1<tspan font-size="5.88" dy="-3.02">&#8211;/&#8211;</tspan></text>
<text x="354.40" y="537.90" font-size="7.40" text-anchor="middle" font-weight="bold" fill="#222" transform="rotate(-90 354.4 537.9)" textLength="36.3" lengthAdjust="spacingAndGlyphs">Fold change</text>
<text x="365.30" y="536.20" font-size="7.40" text-anchor="middle" font-weight="bold" fill="#222" transform="rotate(-90 365.3 536.2)" textLength="60.5" lengthAdjust="spacingAndGlyphs">( <tspan font-style="italic">Sipa1</tspan><tspan font-size="4.59" dy="-2.81">&#8211;/&#8211;</tspan><tspan dy="2.81"> / </tspan><tspan font-style="italic">Sipa1</tspan><tspan font-size="4.59" dy="-2.81">+/+</tspan><tspan dy="2.81">)</tspan></text>
<line x1="382.00" y1="511.70" x2="382.00" y2="563.00" stroke="#000" stroke-width="1.30"/>
<line x1="381.40" y1="562.40" x2="426.00" y2="562.40" stroke="#000" stroke-width="1.30"/>
<line x1="379.40" y1="514.60" x2="382.00" y2="514.60" stroke="#000" stroke-width="0.90"/>
<text x="376.40" y="517.40" font-size="7.80" text-anchor="end" fill="#222" stroke="#222" stroke-width="0.15">6</text>
<line x1="379.40" y1="530.50" x2="382.00" y2="530.50" stroke="#000" stroke-width="0.90"/>
<text x="376.40" y="533.30" font-size="7.80" text-anchor="end" fill="#222" stroke="#222" stroke-width="0.15">4</text>
<line x1="379.40" y1="546.40" x2="382.00" y2="546.40" stroke="#000" stroke-width="0.90"/>
<text x="376.40" y="549.20" font-size="7.80" text-anchor="end" fill="#222" stroke="#222" stroke-width="0.15">2</text>
<line x1="379.40" y1="562.40" x2="382.00" y2="562.40" stroke="#000" stroke-width="0.90"/>
<text x="376.40" y="565.20" font-size="7.80" text-anchor="end" fill="#222" stroke="#222" stroke-width="0.15">0</text>
<line x1="394.00" y1="562.40" x2="394.00" y2="564.80" stroke="#000" stroke-width="0.90"/>
<line x1="417.00" y1="562.40" x2="417.00" y2="564.80" stroke="#000" stroke-width="0.90"/>
<text x="404.50" y="500.50" font-size="9.60" text-anchor="middle" font-style="italic" fill="#1a1a1a" stroke="#1a1a1a" stroke-width="0.15">Cxcl12</text>
<text x="387.70" y="513.20" font-size="7.90" fill="#222"><tspan font-style="italic">P</tspan> = .0819</text>
<line x1="385.90" y1="554.00" x2="402.10" y2="554.00" stroke="#1a1a2a" stroke-width="1.00"/>
<circle cx="387.40" cy="554.00" r="1.45" fill="#2a3e62" stroke="#0e1628" stroke-width="0.60"/>
<circle cx="390.04" cy="554.00" r="1.45" fill="#2a3e62" stroke="#0e1628" stroke-width="0.60"/>
<circle cx="392.68" cy="554.00" r="1.45" fill="#2a3e62" stroke="#0e1628" stroke-width="0.60"/>
<circle cx="395.32" cy="554.00" r="1.45" fill="#2a3e62" stroke="#0e1628" stroke-width="0.60"/>
<circle cx="397.96" cy="554.00" r="1.45" fill="#2a3e62" stroke="#0e1628" stroke-width="0.60"/>
<circle cx="400.60" cy="554.00" r="1.45" fill="#2a3e62" stroke="#0e1628" stroke-width="0.60"/>
<circle cx="414.60" cy="525.20" r="1.70" fill="#7e1236" stroke="none" stroke-width="0.60"/>
<circle cx="419.40" cy="521.30" r="1.70" fill="#7e1236" stroke="none" stroke-width="0.60"/>
<circle cx="417.50" cy="546.30" r="1.70" fill="#7e1236" stroke="none" stroke-width="0.60"/>
<circle cx="414.60" cy="555.00" r="1.70" fill="#7e1236" stroke="none" stroke-width="0.60"/>
<circle cx="419.40" cy="553.00" r="1.70" fill="#7e1236" stroke="none" stroke-width="0.60"/>
<line x1="408.80" y1="546.30" x2="425.20" y2="546.30" stroke="#1a1a1a" stroke-width="1.10"/>
<text x="397.60" y="570.90" font-size="8.40" text-anchor="end" font-style="italic" fill="#222" transform="rotate(-48 397.6 570.9)" stroke="#222" stroke-width="0.12">Sipa1<tspan font-size="5.88" dy="-3.02">+/+</tspan></text>
<text x="420.60" y="570.90" font-size="8.40" text-anchor="end" font-style="italic" fill="#222" transform="rotate(-48 420.6 570.9)" stroke="#222" stroke-width="0.12">Sipa1<tspan font-size="5.88" dy="-3.02">&#8211;/&#8211;</tspan></text>
<line x1="465.20" y1="511.70" x2="465.20" y2="562.90" stroke="#000" stroke-width="1.30"/>
<line x1="464.60" y1="562.30" x2="512.30" y2="562.30" stroke="#000" stroke-width="1.30"/>
<line x1="462.60" y1="514.20" x2="465.20" y2="514.20" stroke="#000" stroke-width="0.90"/>
<text x="459.60" y="517.00" font-size="7.80" text-anchor="end" fill="#222" stroke="#222" stroke-width="0.15">10</text>
<line x1="462.60" y1="523.80" x2="465.20" y2="523.80" stroke="#000" stroke-width="0.90"/>
<text x="459.60" y="526.60" font-size="7.80" text-anchor="end" fill="#222" stroke="#222" stroke-width="0.15">8</text>
<line x1="462.60" y1="533.50" x2="465.20" y2="533.50" stroke="#000" stroke-width="0.90"/>
<text x="459.60" y="536.30" font-size="7.80" text-anchor="end" fill="#222" stroke="#222" stroke-width="0.15">6</text>
<line x1="462.60" y1="543.10" x2="465.20" y2="543.10" stroke="#000" stroke-width="0.90"/>
<text x="459.60" y="545.90" font-size="7.80" text-anchor="end" fill="#222" stroke="#222" stroke-width="0.15">4</text>
<line x1="462.60" y1="552.70" x2="465.20" y2="552.70" stroke="#000" stroke-width="0.90"/>
<text x="459.60" y="555.50" font-size="7.80" text-anchor="end" fill="#222" stroke="#222" stroke-width="0.15">2</text>
<line x1="462.60" y1="562.30" x2="465.20" y2="562.30" stroke="#000" stroke-width="0.90"/>
<text x="459.60" y="565.10" font-size="7.80" text-anchor="end" fill="#222" stroke="#222" stroke-width="0.15">0</text>
<line x1="477.70" y1="562.30" x2="477.70" y2="564.70" stroke="#000" stroke-width="0.90"/>
<line x1="501.70" y1="562.30" x2="501.70" y2="564.70" stroke="#000" stroke-width="0.90"/>
<text x="489.00" y="500.50" font-size="9.60" text-anchor="middle" font-style="italic" fill="#1a1a1a" stroke="#1a1a1a" stroke-width="0.15">Kitl</text>
<text x="471.00" y="513.20" font-size="7.90" fill="#222"><tspan font-style="italic">P</tspan> = .1188</text>
<line x1="468.90" y1="558.00" x2="486.30" y2="558.00" stroke="#1a1a2a" stroke-width="1.00"/>
<circle cx="470.40" cy="558.00" r="1.45" fill="#2a3e62" stroke="#0e1628" stroke-width="0.60"/>
<circle cx="473.28" cy="558.00" r="1.45" fill="#2a3e62" stroke="#0e1628" stroke-width="0.60"/>
<circle cx="476.16" cy="558.00" r="1.45" fill="#2a3e62" stroke="#0e1628" stroke-width="0.60"/>
<circle cx="479.04" cy="558.00" r="1.45" fill="#2a3e62" stroke="#0e1628" stroke-width="0.60"/>
<circle cx="481.92" cy="558.00" r="1.45" fill="#2a3e62" stroke="#0e1628" stroke-width="0.60"/>
<circle cx="484.80" cy="558.00" r="1.45" fill="#2a3e62" stroke="#0e1628" stroke-width="0.60"/>
<circle cx="501.70" cy="517.50" r="1.70" fill="#7e1236" stroke="none" stroke-width="0.60"/>
<circle cx="501.70" cy="530.40" r="1.70" fill="#7e1236" stroke="none" stroke-width="0.60"/>
<circle cx="501.70" cy="551.50" r="1.70" fill="#7e1236" stroke="none" stroke-width="0.60"/>
<circle cx="504.20" cy="556.50" r="1.70" fill="#7e1236" stroke="none" stroke-width="0.60"/>
<circle cx="499.20" cy="559.20" r="1.70" fill="#7e1236" stroke="none" stroke-width="0.60"/>
<line x1="494.00" y1="551.50" x2="510.00" y2="551.50" stroke="#1a1a1a" stroke-width="1.10"/>
<text x="481.30" y="570.80" font-size="8.40" text-anchor="end" font-style="italic" fill="#222" transform="rotate(-48 481.3 570.8)" stroke="#222" stroke-width="0.12">Sipa1<tspan font-size="5.88" dy="-3.02">+/+</tspan></text>
<text x="505.30" y="570.80" font-size="8.40" text-anchor="end" font-style="italic" fill="#222" transform="rotate(-48 505.3 570.8)" stroke="#222" stroke-width="0.12">Sipa1<tspan font-size="5.88" dy="-3.02">&#8211;/&#8211;</tspan></text>
<text x="359.90" y="658.30" font-size="8.20" text-anchor="middle" font-weight="bold" fill="#222" transform="rotate(-90 359.9 658.3)" textLength="60.5" lengthAdjust="spacingAndGlyphs"><tspan font-style="italic">Epo</tspan> mRNA (RPKM)</text>
<text x="445.40" y="656.80" font-size="8.20" text-anchor="middle" font-weight="bold" fill="#222" transform="rotate(-90 445.4 656.8)" textLength="59.5" lengthAdjust="spacingAndGlyphs"><tspan font-style="italic">Epor</tspan> mRNA (RPKM)</text>
<line x1="381.00" y1="631.70" x2="381.00" y2="685.10" stroke="#000" stroke-width="1.30"/>
<line x1="380.40" y1="684.50" x2="428.00" y2="684.50" stroke="#000" stroke-width="1.30"/>
<line x1="378.40" y1="633.00" x2="381.00" y2="633.00" stroke="#000" stroke-width="0.90"/>
<text x="375.40" y="635.80" font-size="7.80" text-anchor="end" fill="#222" stroke="#222" stroke-width="0.15">0.4</text>
<line x1="378.40" y1="645.90" x2="381.00" y2="645.90" stroke="#000" stroke-width="0.90"/>
<text x="375.40" y="648.70" font-size="7.80" text-anchor="end" fill="#222" stroke="#222" stroke-width="0.15">0.3</text>
<line x1="378.40" y1="658.80" x2="381.00" y2="658.80" stroke="#000" stroke-width="0.90"/>
<text x="375.40" y="661.60" font-size="7.80" text-anchor="end" fill="#222" stroke="#222" stroke-width="0.15">0.2</text>
<line x1="378.40" y1="671.60" x2="381.00" y2="671.60" stroke="#000" stroke-width="0.90"/>
<text x="375.40" y="674.40" font-size="7.80" text-anchor="end" fill="#222" stroke="#222" stroke-width="0.15">0.1</text>
<line x1="378.40" y1="684.50" x2="381.00" y2="684.50" stroke="#000" stroke-width="0.90"/>
<text x="375.40" y="687.30" font-size="7.80" text-anchor="end" fill="#222" stroke="#222" stroke-width="0.15">0.0</text>
<line x1="394.40" y1="684.50" x2="394.40" y2="686.90" stroke="#000" stroke-width="0.90"/>
<line x1="418.80" y1="684.50" x2="418.80" y2="686.90" stroke="#000" stroke-width="0.90"/>
<text x="406.50" y="624.60" font-size="9.60" text-anchor="middle" font-style="italic" fill="#1a1a1a" stroke="#1a1a1a" stroke-width="0.15">Epo</text>
<text x="388.70" y="636.60" font-size="7.90" fill="#82385a"><tspan font-style="italic">P</tspan> = .0013</text>
<circle cx="389.60" cy="684.50" r="1.50" fill="#5a6280" stroke="#1e2438" stroke-width="0.80"/>
<circle cx="394.50" cy="684.50" r="1.50" fill="#5a6280" stroke="#1e2438" stroke-width="0.80"/>
<circle cx="399.40" cy="684.50" r="1.50" fill="#5a6280" stroke="#1e2438" stroke-width="0.80"/>
<circle cx="415.60" cy="643.80" r="1.70" fill="#7e1236" stroke="none" stroke-width="0.60"/>
<circle cx="422.30" cy="644.50" r="1.70" fill="#7e1236" stroke="none" stroke-width="0.60"/>
<circle cx="418.80" cy="657.60" r="1.70" fill="#7e1236" stroke="none" stroke-width="0.60"/>
<line x1="410.80" y1="649.00" x2="426.70" y2="649.00" stroke="#1a1a1a" stroke-width="1.10"/>
<text x="398.00" y="693.00" font-size="8.40" text-anchor="end" font-style="italic" fill="#222" transform="rotate(-48 398 693)" stroke="#222" stroke-width="0.12">Sipa1<tspan font-size="5.88" dy="-3.02">+/+</tspan></text>
<text x="422.40" y="693.00" font-size="8.40" text-anchor="end" font-style="italic" fill="#222" transform="rotate(-48 422.4 693)" stroke="#222" stroke-width="0.12">Sipa1<tspan font-size="5.88" dy="-3.02">&#8211;/&#8211;</tspan></text>
<line x1="465.60" y1="628.80" x2="465.60" y2="684.60" stroke="#000" stroke-width="1.30"/>
<line x1="465.00" y1="684.00" x2="510.40" y2="684.00" stroke="#000" stroke-width="1.30"/>
<line x1="463.00" y1="631.70" x2="465.60" y2="631.70" stroke="#000" stroke-width="0.90"/>
<text x="460.00" y="634.50" font-size="7.80" text-anchor="end" fill="#222" stroke="#222" stroke-width="0.15">20</text>
<line x1="463.00" y1="644.80" x2="465.60" y2="644.80" stroke="#000" stroke-width="0.90"/>
<text x="460.00" y="647.60" font-size="7.80" text-anchor="end" fill="#222" stroke="#222" stroke-width="0.15">15</text>
<line x1="463.00" y1="657.90" x2="465.60" y2="657.90" stroke="#000" stroke-width="0.90"/>
<text x="460.00" y="660.70" font-size="7.80" text-anchor="end" fill="#222" stroke="#222" stroke-width="0.15">10</text>
<line x1="463.00" y1="671.00" x2="465.60" y2="671.00" stroke="#000" stroke-width="0.90"/>
<text x="460.00" y="673.80" font-size="7.80" text-anchor="end" fill="#222" stroke="#222" stroke-width="0.15">5</text>
<line x1="463.00" y1="684.00" x2="465.60" y2="684.00" stroke="#000" stroke-width="0.90"/>
<text x="460.00" y="686.80" font-size="7.80" text-anchor="end" fill="#222" stroke="#222" stroke-width="0.15">0</text>
<line x1="477.00" y1="684.00" x2="477.00" y2="686.40" stroke="#000" stroke-width="0.90"/>
<line x1="501.70" y1="684.00" x2="501.70" y2="686.40" stroke="#000" stroke-width="0.90"/>
<text x="488.70" y="626.20" font-size="9.60" text-anchor="middle" font-style="italic" fill="#1a1a1a" stroke="#1a1a1a" stroke-width="0.15">Epor</text>
<text x="474.80" y="638.20" font-size="7.90" fill="#222"><tspan font-style="italic">P</tspan> = .083</text>
<circle cx="477.00" cy="654.20" r="1.45" fill="#fff" stroke="#2e3656" stroke-width="0.90"/>
<circle cx="477.00" cy="674.00" r="1.45" fill="#fff" stroke="#2e3656" stroke-width="0.90"/>
<circle cx="477.00" cy="683.70" r="1.45" fill="#fff" stroke="#2e3656" stroke-width="0.90"/>
<circle cx="498.80" cy="646.20" r="1.70" fill="#7e1236" stroke="none" stroke-width="0.60"/>
<circle cx="504.20" cy="649.00" r="1.70" fill="#7e1236" stroke="none" stroke-width="0.60"/>
<circle cx="501.70" cy="654.40" r="1.70" fill="#7e1236" stroke="none" stroke-width="0.60"/>
<line x1="469.00" y1="670.20" x2="485.40" y2="670.20" stroke="#1a1a1a" stroke-width="1.10"/>
<line x1="494.00" y1="650.00" x2="509.40" y2="650.00" stroke="#1a1a1a" stroke-width="1.10"/>
<text x="480.60" y="692.50" font-size="8.40" text-anchor="end" font-style="italic" fill="#222" transform="rotate(-48 480.6 692.5)" stroke="#222" stroke-width="0.12">Sipa1<tspan font-size="5.88" dy="-3.02">+/+</tspan></text>
<text x="505.30" y="692.50" font-size="8.40" text-anchor="end" font-style="italic" fill="#222" transform="rotate(-48 505.3 692.5)" stroke="#222" stroke-width="0.12">Sipa1<tspan font-size="5.88" dy="-3.02">&#8211;/&#8211;</tspan></text>
<text x="7.30" y="16.70" font-size="11.00" font-weight="bold" fill="#000" stroke="#000" stroke-width="0.45">A</text>
<text x="7.50" y="243.20" font-size="11.00" font-weight="bold" fill="#000" stroke="#000" stroke-width="0.45">B</text>
<text x="7.50" y="544.70" font-size="11.00" font-weight="bold" fill="#000" stroke="#000" stroke-width="0.45">C</text>
<text x="336.40" y="17.40" font-size="11.00" font-weight="bold" fill="#000" stroke="#000" stroke-width="0.45">D</text>
<text x="264.20" y="242.60" font-size="11.00" font-weight="bold" fill="#000" stroke="#000" stroke-width="0.45">E</text>
<text x="346.80" y="492.60" font-size="11.00" font-weight="bold" fill="#000" stroke="#000" stroke-width="0.45">F</text>
<text x="346.80" y="617.40" font-size="11.00" font-weight="bold" fill="#000" stroke="#000" stroke-width="0.45">G</text>
<rect x="0.00" y="0.00" width="520.00" height="1.40" fill="#000" stroke="none" stroke-width="1.00"/>
<rect x="0.00" y="0.00" width="1.50" height="723.00" fill="#000" stroke="none" stroke-width="1.00"/>
<rect x="519.00" y="0.00" width="1.00" height="723.00" fill="#000" stroke="none" stroke-width="1.00"/>
<rect x="0.00" y="722.00" width="520.00" height="1.00" fill="#000" stroke="none" stroke-width="1.00"/>
</svg>
</body></html>
